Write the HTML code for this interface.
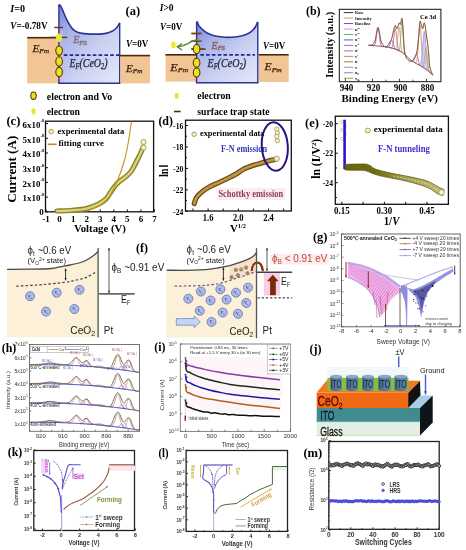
<!DOCTYPE html>
<html><head><meta charset="utf-8"><style>
html,body{margin:0;padding:0;background:#fff;}
svg{display:block;filter:blur(0.3px);}
</style></head><body>
<svg width="466" height="550" viewBox="0 0 466 550">
<defs><linearGradient id="gblue" x1="0" y1="0" x2="0.9" y2="1">
<stop offset="0" stop-color="#7c88d8"/><stop offset="0.3" stop-color="#aab4e8"/><stop offset="0.6" stop-color="#c8cff0"/><stop offset="1" stop-color="#e2e6f6"/></linearGradient>
<linearGradient id="ge" x1="345" y1="0" x2="445" y2="0" gradientUnits="userSpaceOnUse"><stop offset="0" stop-color="#666410"/><stop offset="0.3" stop-color="#6e6c16"/><stop offset="0.55" stop-color="#9a9640"/><stop offset="1" stop-color="#c4c078"/></linearGradient>
<pattern id="hatch" width="2.2" height="2.2" patternUnits="userSpaceOnUse" patternTransform="rotate(35)"><rect width="2.2" height="2.2" fill="#f4c4ec"/><line x1="0" y1="0" x2="0" y2="2.2" stroke="#d448c0" stroke-width="1"/></pattern>
<linearGradient id="gcyl" x1="0" y1="0" x2="1" y2="0"><stop offset="0" stop-color="#56627e"/><stop offset="0.5" stop-color="#5a7896"/><stop offset="1" stop-color="#5e8c9c"/></linearGradient></defs>
<rect width="466" height="550" fill="#fff"/>
<text x="10.3" y="12.2" font-family="'Liberation Serif', serif" font-size="10" font-weight="bold" textLength="14.8" lengthAdjust="spacingAndGlyphs"><tspan font-style="italic">I</tspan>=0</text>
<text x="10.3" y="29" font-family="'Liberation Serif', serif" font-size="10" font-weight="bold" textLength="37.3" lengthAdjust="spacingAndGlyphs"><tspan font-style="italic">V</tspan>=-0.78V</text>
<text x="125.5" y="14.5" font-family="'Liberation Serif', serif" font-size="12.5" font-weight="bold" textLength="14.6" lengthAdjust="spacingAndGlyphs">(a)</text>
<rect x="27.2" y="37.7" width="31.7" height="45.6" fill="#f2c594" />
<line x1="27.2" y1="37.7" x2="56" y2="37.7" stroke="#4a2608" stroke-width="1.6" />
<path d="M58.9 83.3 L58.9 7 C59.02 6.63 59.25 4.88 59.6 4.8 C59.95 4.72 60.32 5.18 61 6.5 C61.68 7.82 62.67 10.35 63.7 12.7 C64.73 15.05 65.77 17.95 67.2 20.6 C68.63 23.25 70.58 26.67 72.3 28.6 C74.02 30.53 75.5 31.37 77.5 32.2 C79.5 33.03 80.88 33.28 84.3 33.6 C87.72 33.92 94.38 34.13 98 34.1 C101.62 34.07 103.67 33.87 106 33.4 C108.33 32.93 110.25 32.2 112 31.3 C113.75 30.4 115.22 29.42 116.5 28 C117.78 26.58 119.17 23.67 119.7 22.8 L119.7 83.3 Z" fill="url(#gblue)" />
<rect x="59.2" y="30" width="4" height="53" fill="#d4b8e4" opacity="0.6"/>
<path d="M58.9 7 C59.02 6.63 59.25 4.88 59.6 4.8 C59.95 4.72 60.32 5.18 61 6.5 C61.68 7.82 62.67 10.35 63.7 12.7 C64.73 15.05 65.77 17.95 67.2 20.6 C68.63 23.25 70.58 26.67 72.3 28.6 C74.02 30.53 75.5 31.37 77.5 32.2 C79.5 33.03 80.88 33.28 84.3 33.6 C87.72 33.92 94.38 34.13 98 34.1 C101.62 34.07 103.67 33.87 106 33.4 C108.33 32.93 110.25 32.2 112 31.3 C113.75 30.4 115.22 29.42 116.5 28 C117.78 26.58 119.17 23.67 119.7 22.8" fill="none" stroke="#2a3592" stroke-width="1.6" />
<line x1="58.9" y1="4.6" x2="58.9" y2="83.6" stroke="#2a3592" stroke-width="1.4" />
<line x1="119.7" y1="22.8" x2="119.7" y2="83.6" stroke="#2a3592" stroke-width="1.4" />
<line x1="58.2" y1="83.3" x2="120.4" y2="83.3" stroke="#2a3592" stroke-width="1.4" />
<line x1="63.8" y1="55.2" x2="119" y2="55.2" stroke="#1a2aa0" stroke-width="1.8" stroke-dasharray="3.6 2.2"/>
<line x1="54.3" y1="27.5" x2="62.9" y2="27.5" stroke="#5a3818" stroke-width="1.4" />
<line x1="50.5" y1="37.4" x2="67.2" y2="37.4" stroke="#5a3818" stroke-width="1.4" />
<ellipse cx="58.9" cy="37.7" rx="3" ry="4.2" fill="#e4ec30" />
<ellipse cx="59.1" cy="50.6" rx="3.3" ry="4.6" fill="#e9e21e" stroke="#5a3a00" stroke-width="1.1" />
<ellipse cx="59.1" cy="61.4" rx="3.3" ry="4.6" fill="#e9e21e" stroke="#5a3a00" stroke-width="1.1" />
<ellipse cx="59.1" cy="72" rx="3.3" ry="4.6" fill="#e9e21e" stroke="#5a3a00" stroke-width="1.1" />
<text x="73.2" y="43" font-family="'Liberation Serif', serif" font-size="9.5" font-style="italic" fill="#857488" textLength="13.8" lengthAdjust="spacingAndGlyphs" stroke="#857488" stroke-width="0.5">E<tspan font-size="6.5" dy="1.5">FS</tspan></text>
<text x="69.5" y="67" font-family="'Liberation Serif', serif" font-size="12" font-style="italic" fill="#1c1c3c" textLength="38" lengthAdjust="spacingAndGlyphs" stroke="#1c1c3c" stroke-width="0.25">E<tspan font-size="7.5" dy="1.5">F</tspan><tspan dy="-1.5">(CeO</tspan><tspan font-size="7.5" dy="1.5">2</tspan><tspan dy="-1.5">)</tspan></text>
<text x="32.4" y="51.5" font-family="'Liberation Serif', serif" font-size="10" font-style="italic" fill="#3a2410" textLength="16.8" lengthAdjust="spacingAndGlyphs" stroke="#3a2410" stroke-width="0.25">E<tspan font-size="6.5" dy="1.5">Fm</tspan></text>
<rect x="120.4" y="55.6" width="29.6" height="27.8" fill="#f2c594" />
<line x1="120" y1="55.6" x2="150" y2="55.6" stroke="#4a2608" stroke-width="1.6" />
<text x="126" y="47.4" font-family="'Liberation Serif', serif" font-size="9.5" font-weight="bold" textLength="22.2" lengthAdjust="spacingAndGlyphs"><tspan font-style="italic">V</tspan>=0V</text>
<text x="126" y="71.5" font-family="'Liberation Serif', serif" font-size="10" font-style="italic" fill="#3a2410" textLength="16.5" lengthAdjust="spacingAndGlyphs" stroke="#3a2410" stroke-width="0.25">E<tspan font-size="6.5" dy="1.5">Fm</tspan></text>
<ellipse cx="33.5" cy="95.7" rx="2.7" ry="3.7" fill="#e9e21e" stroke="#5a3a00" stroke-width="1.1" />
<text x="46.8" y="99.8" font-family="'Liberation Serif', serif" font-size="9.6" font-weight="bold" textLength="65.5" lengthAdjust="spacingAndGlyphs">electron and Vo</text>
<ellipse cx="33.5" cy="111.4" rx="2.1" ry="3.1" fill="#dfea32" />
<text x="46.8" y="114.8" font-family="'Liberation Serif', serif" font-size="9.6" font-weight="bold" textLength="33.2" lengthAdjust="spacingAndGlyphs">electron</text>
<text x="159.7" y="10.5" font-family="'Liberation Serif', serif" font-size="10" font-weight="bold" textLength="13.9" lengthAdjust="spacingAndGlyphs"><tspan font-style="italic">I</tspan>&gt;0</text>
<text x="160" y="29.6" font-family="'Liberation Serif', serif" font-size="9.5" font-weight="bold" textLength="22.3" lengthAdjust="spacingAndGlyphs"><tspan font-style="italic">V</tspan>=0V</text>
<rect x="165.5" y="54.8" width="31.1" height="26.8" fill="#f2c594" />
<line x1="165.5" y1="54.8" x2="196.6" y2="54.8" stroke="#4a2608" stroke-width="1.6" />
<path d="M196.6 82.8 L196.6 23.5 C196.72 23.25 196.9 21.58 197.3 22 C197.7 22.42 197.78 24.45 199 26 C200.22 27.55 202.77 29.92 204.6 31.3 C206.43 32.68 207.98 33.47 210 34.3 C212.02 35.13 214.2 35.82 216.7 36.3 C219.2 36.78 222.45 37.03 225 37.2 C227.55 37.37 229.97 37.37 232 37.3 C234.03 37.23 235.2 37.13 237.2 36.8 C239.2 36.47 242 35.93 244 35.3 C246 34.67 247.7 33.88 249.2 33 C250.7 32.12 251.93 31.08 253 30 C254.07 28.92 254.88 27.75 255.6 26.5 C256.32 25.25 256.93 23.27 257.3 22.5 C257.67 21.73 257.72 22 257.8 21.9 L257.8 82.8 Z" fill="url(#gblue)" />
<path d="M196.6 23.5 C196.72 23.25 196.9 21.58 197.3 22 C197.7 22.42 197.78 24.45 199 26 C200.22 27.55 202.77 29.92 204.6 31.3 C206.43 32.68 207.98 33.47 210 34.3 C212.02 35.13 214.2 35.82 216.7 36.3 C219.2 36.78 222.45 37.03 225 37.2 C227.55 37.37 229.97 37.37 232 37.3 C234.03 37.23 235.2 37.13 237.2 36.8 C239.2 36.47 242 35.93 244 35.3 C246 34.67 247.7 33.88 249.2 33 C250.7 32.12 251.93 31.08 253 30 C254.07 28.92 254.88 27.75 255.6 26.5 C256.32 25.25 256.93 23.27 257.3 22.5 C257.67 21.73 257.72 22 257.8 21.9" fill="none" stroke="#2a3592" stroke-width="1.6" />
<line x1="196.6" y1="21.9" x2="196.6" y2="83.1" stroke="#2a3592" stroke-width="1.4" />
<line x1="257.8" y1="21.9" x2="257.8" y2="83.1" stroke="#2a3592" stroke-width="1.4" />
<line x1="195.9" y1="82.8" x2="258.5" y2="82.8" stroke="#2a3592" stroke-width="1.4" />
<line x1="200.3" y1="54.8" x2="255" y2="54.8" stroke="#1a2aa0" stroke-width="1.8" stroke-dasharray="3.6 2.2"/>
<line x1="191.2" y1="33.5" x2="201.5" y2="33.5" stroke="#6a3a1a" stroke-width="1.7" />
<line x1="191.2" y1="41.1" x2="201.5" y2="41.1" stroke="#6a3a1a" stroke-width="1.7" />
<line x1="191.2" y1="49" x2="205.5" y2="49" stroke="#6a3a1a" stroke-width="1.7" />
<ellipse cx="196.6" cy="49" rx="3.3" ry="4.6" fill="#e9e21e" stroke="#5a3a00" stroke-width="1.1" />
<ellipse cx="196.6" cy="62.7" rx="3.3" ry="4.6" fill="#e9e21e" stroke="#5a3a00" stroke-width="1.1" />
<ellipse cx="196.6" cy="72.5" rx="3.3" ry="4.6" fill="#e9e21e" stroke="#5a3a00" stroke-width="1.1" />
<ellipse cx="173.4" cy="45" rx="2.4" ry="3.4" fill="#e4ec30" />
<path d="M200.8 40.9 C200.17 40.78 198.08 40.27 197 40.2 C195.92 40.13 195.3 40.23 194.3 40.5 C193.3 40.77 192 41.33 191 41.8 C190 42.27 189.3 42.8 188.3 43.3 C187.3 43.8 186 44.37 185 44.8 C184 45.23 183.22 45.62 182.3 45.9 C181.38 46.18 180.3 46.35 179.5 46.5 C178.7 46.65 177.83 46.75 177.5 46.8" fill="none" stroke="#5e8a26" stroke-width="1.5" />
<path d="M182 43.6 L177.3 46.8 L182 50" fill="none" stroke="#5e8a26" stroke-width="1.4" />
<text x="211.5" y="48.5" font-family="'Liberation Serif', serif" font-size="9.5" font-style="italic" fill="#946464" textLength="13.5" lengthAdjust="spacingAndGlyphs" stroke="#946464" stroke-width="0.5">E<tspan font-size="6.5" dy="1.5">FS</tspan></text>
<text x="207.5" y="67" font-family="'Liberation Serif', serif" font-size="12" font-style="italic" fill="#1c1c3c" textLength="38.5" lengthAdjust="spacingAndGlyphs" stroke="#1c1c3c" stroke-width="0.25">E<tspan font-size="7.5" dy="1.5">F</tspan><tspan dy="-1.5">(CeO</tspan><tspan font-size="7.5" dy="1.5">2</tspan><tspan dy="-1.5">)</tspan></text>
<text x="170.3" y="70.8" font-family="'Liberation Serif', serif" font-size="10" font-style="italic" fill="#3a2410" textLength="18" lengthAdjust="spacingAndGlyphs" stroke="#3a2410" stroke-width="0.25">E<tspan font-size="6.5" dy="1.5">Fm</tspan></text>
<rect x="259" y="55.3" width="29.7" height="26.7" fill="#f2c594" />
<line x1="258.6" y1="54.8" x2="288.7" y2="54.8" stroke="#4a2608" stroke-width="1.6" />
<text x="263" y="48.5" font-family="'Liberation Serif', serif" font-size="9.5" font-weight="bold" textLength="22.2" lengthAdjust="spacingAndGlyphs"><tspan font-style="italic">V</tspan>=0V</text>
<text x="264.6" y="70.2" font-family="'Liberation Serif', serif" font-size="10" font-style="italic" fill="#3a2410" textLength="17.2" lengthAdjust="spacingAndGlyphs" stroke="#3a2410" stroke-width="0.25">E<tspan font-size="6.5" dy="1.5">Fm</tspan></text>
<ellipse cx="176.7" cy="95.8" rx="2.1" ry="3.1" fill="#dfea32" />
<text x="197.3" y="99.4" font-family="'Liberation Serif', serif" font-size="9.6" font-weight="bold" textLength="33.5" lengthAdjust="spacingAndGlyphs">electron</text>
<line x1="174" y1="111.5" x2="180.6" y2="111.5" stroke="#4a2a10" stroke-width="1.6" />
<text x="197.3" y="114.8" font-family="'Liberation Serif', serif" font-size="9.6" font-weight="bold" textLength="72.2" lengthAdjust="spacingAndGlyphs">surface trap state</text>
<text x="306" y="14.6" font-family="'Liberation Serif', serif" font-size="12.5" font-weight="bold" textLength="14.6" lengthAdjust="spacingAndGlyphs">(b)</text>
<rect x="339.3" y="9.3" width="101.6" height="72.4" fill="none" stroke="#111" stroke-width="1" />
<line x1="345.4" y1="81.7" x2="345.4" y2="78.7" stroke="#111" stroke-width="0.8" />
<line x1="358.92" y1="81.7" x2="358.92" y2="79.7" stroke="#111" stroke-width="0.8" />
<line x1="372.43" y1="81.7" x2="372.43" y2="78.7" stroke="#111" stroke-width="0.8" />
<line x1="385.95" y1="81.7" x2="385.95" y2="79.7" stroke="#111" stroke-width="0.8" />
<line x1="399.47" y1="81.7" x2="399.47" y2="78.7" stroke="#111" stroke-width="0.8" />
<line x1="412.98" y1="81.7" x2="412.98" y2="79.7" stroke="#111" stroke-width="0.8" />
<line x1="426.5" y1="81.7" x2="426.5" y2="78.7" stroke="#111" stroke-width="0.8" />
<text x="346.4" y="90.8" font-family="'Liberation Serif', serif" font-size="9.5" font-weight="bold" text-anchor="middle" textLength="13.5" lengthAdjust="spacingAndGlyphs">940</text>
<text x="373.43" y="90.8" font-family="'Liberation Serif', serif" font-size="9.5" font-weight="bold" text-anchor="middle" textLength="13.5" lengthAdjust="spacingAndGlyphs">920</text>
<text x="400.47" y="90.8" font-family="'Liberation Serif', serif" font-size="9.5" font-weight="bold" text-anchor="middle" textLength="13.5" lengthAdjust="spacingAndGlyphs">900</text>
<text x="427.5" y="90.8" font-family="'Liberation Serif', serif" font-size="9.5" font-weight="bold" text-anchor="middle" textLength="13.5" lengthAdjust="spacingAndGlyphs">880</text>
<text x="341.6" y="102.4" font-family="'Liberation Serif', serif" font-size="11" font-weight="bold" textLength="96.4" lengthAdjust="spacingAndGlyphs">Binding Energy (eV)</text>
<text x="332.6" y="44.7" font-family="'Liberation Serif', serif" font-size="11" font-weight="bold" text-anchor="middle" textLength="66" lengthAdjust="spacingAndGlyphs" transform="rotate(-90 332.6 44.7)">Intensity (a.u.)</text>
<text x="419.9" y="18.5" font-family="'Liberation Serif', serif" font-size="7" font-weight="bold" textLength="16.3" lengthAdjust="spacingAndGlyphs">Ce 3d</text>
<line x1="343.8" y1="12.6" x2="353.2" y2="12.6" stroke="#333" stroke-width="1" />
<text x="355" y="14.1" font-family="'Liberation Serif', serif" font-size="4.4" font-weight="bold" fill="#111">Raw</text>
<line x1="343.8" y1="18.07" x2="353.2" y2="18.07" stroke="#c8a070" stroke-width="1" />
<text x="355" y="19.57" font-family="'Liberation Serif', serif" font-size="4.4" font-weight="bold" fill="#111">Intensity</text>
<line x1="343.8" y1="23.54" x2="353.2" y2="23.54" stroke="#7a4ab8" stroke-width="1" />
<text x="355" y="25.04" font-family="'Liberation Serif', serif" font-size="4.4" font-weight="bold" fill="#111">Baseline</text>
<line x1="343.8" y1="29.01" x2="353.2" y2="29.01" stroke="#c890d8" stroke-width="1" />
<text x="355" y="30.51" font-family="'Liberation Serif', serif" font-size="4.4" font-weight="bold" fill="#111">u‴</text>
<line x1="343.8" y1="34.48" x2="353.2" y2="34.48" stroke="#6ab060" stroke-width="1" />
<text x="355" y="35.98" font-family="'Liberation Serif', serif" font-size="4.4" font-weight="bold" fill="#111">v‴</text>
<line x1="343.8" y1="39.95" x2="353.2" y2="39.95" stroke="#4a6ab0" stroke-width="1" />
<text x="355" y="41.45" font-family="'Liberation Serif', serif" font-size="4.4" font-weight="bold" fill="#111">u″</text>
<line x1="343.8" y1="45.42" x2="353.2" y2="45.42" stroke="#a070d0" stroke-width="1" />
<text x="355" y="46.92" font-family="'Liberation Serif', serif" font-size="4.4" font-weight="bold" fill="#111">v″</text>
<line x1="343.8" y1="50.89" x2="353.2" y2="50.89" stroke="#9a70c0" stroke-width="1" />
<text x="355" y="52.39" font-family="'Liberation Serif', serif" font-size="4.4" font-weight="bold" fill="#111">u′</text>
<line x1="343.8" y1="56.36" x2="353.2" y2="56.36" stroke="#b09060" stroke-width="1" />
<text x="355" y="57.86" font-family="'Liberation Serif', serif" font-size="4.4" font-weight="bold" fill="#111">v′</text>
<line x1="343.8" y1="61.83" x2="353.2" y2="61.83" stroke="#a08040" stroke-width="1" />
<text x="355" y="63.33" font-family="'Liberation Serif', serif" font-size="4.4" font-weight="bold" fill="#111">u</text>
<line x1="343.8" y1="67.3" x2="353.2" y2="67.3" stroke="#80a0c0" stroke-width="1" />
<text x="355" y="68.8" font-family="'Liberation Serif', serif" font-size="4.4" font-weight="bold" fill="#111">v</text>
<line x1="343.8" y1="72.77" x2="353.2" y2="72.77" stroke="#7090b0" stroke-width="1" />
<text x="355" y="74.27" font-family="'Liberation Serif', serif" font-size="4.4" font-weight="bold" fill="#111">u₀</text>
<line x1="343.8" y1="78.24" x2="353.2" y2="78.24" stroke="#a0a040" stroke-width="1" />
<text x="355" y="79.74" font-family="'Liberation Serif', serif" font-size="4.4" font-weight="bold" fill="#111">v₀</text>
<path d="M371.92 45.53 C372.05 45.54 372.43 45.58 372.68 45.6 C372.93 45.61 373.19 45.65 373.44 45.62 C373.69 45.59 373.95 45.62 374.2 45.42 C374.45 45.23 374.71 45.07 374.96 44.44 C375.21 43.81 375.47 42.96 375.72 41.64 C375.97 40.31 376.23 38.31 376.48 36.49 C376.73 34.67 376.99 32.11 377.24 30.72 C377.49 29.32 377.75 28.1 378 28.13 C378.25 28.15 378.51 29.42 378.76 30.87 C379.01 32.31 379.27 34.92 379.52 36.79 C379.77 38.66 380.03 40.71 380.28 42.09 C380.53 43.46 380.79 44.36 381.04 45.04 C381.29 45.72 381.55 45.93 381.8 46.17 C382.05 46.42 382.31 46.44 382.56 46.52 C382.81 46.6 383.07 46.61 383.32 46.65 C383.57 46.68 383.95 46.72 384.08 46.73" fill="none" stroke="#9a60c8" stroke-width="0.8" />
<path d="M385.4 46.86 C385.53 46.88 385.93 46.94 386.2 46.99 C386.47 47.04 386.73 47.11 387 47.15 C387.27 47.19 387.53 47.25 387.8 47.21 C388.07 47.17 388.33 47.15 388.6 46.92 C388.87 46.69 389.13 46.37 389.4 45.83 C389.67 45.29 389.93 44.45 390.2 43.69 C390.47 42.93 390.73 41.84 391 41.27 C391.27 40.7 391.53 40.21 391.8 40.27 C392.07 40.33 392.33 40.94 392.6 41.64 C392.87 42.33 393.13 43.54 393.4 44.42 C393.67 45.3 393.93 46.26 394.2 46.92 C394.47 47.58 394.73 47.99 395 48.38 C395.27 48.77 395.53 49.02 395.8 49.25 C396.07 49.48 396.33 49.61 396.6 49.76 C396.87 49.92 397.13 50.05 397.4 50.18 C397.67 50.32 398.07 50.51 398.2 50.58" fill="none" stroke="#7a60c0" stroke-width="0.8" />
<path d="M389.54 47.75 C389.66 47.78 390.02 47.87 390.26 47.91 C390.5 47.95 390.74 48.02 390.98 48.02 C391.22 48.01 391.46 48.07 391.7 47.86 C391.94 47.66 392.18 47.5 392.42 46.79 C392.66 46.08 392.9 45.12 393.14 43.6 C393.38 42.08 393.62 39.77 393.86 37.67 C394.1 35.57 394.34 32.6 394.58 31.01 C394.82 29.42 395.06 28.05 395.3 28.15 C395.54 28.25 395.78 29.84 396.02 31.61 C396.26 33.38 396.5 36.51 396.74 38.79 C396.98 41.06 397.22 43.55 397.46 45.24 C397.7 46.93 397.94 48.06 398.18 48.95 C398.42 49.83 398.66 50.16 398.9 50.54 C399.14 50.92 399.38 51.03 399.62 51.21 C399.86 51.4 400.1 51.5 400.34 51.63 C400.58 51.76 400.94 51.93 401.06 51.99" fill="none" stroke="#c05a70" stroke-width="0.8" />
<path d="M393.66 48.69 C393.77 48.72 394.11 48.8 394.34 48.84 C394.57 48.88 394.79 48.92 395.02 48.93 C395.25 48.95 395.47 49.09 395.7 48.91 C395.93 48.72 396.15 48.59 396.38 47.83 C396.61 47.06 396.83 46.02 397.06 44.33 C397.29 42.64 397.51 40.05 397.74 37.7 C397.97 35.35 398.19 32.02 398.42 30.24 C398.65 28.46 398.87 26.91 399.1 27.02 C399.33 27.14 399.55 28.91 399.78 30.91 C400.01 32.91 400.23 36.47 400.46 39.04 C400.69 41.61 400.91 44.43 401.14 46.34 C401.37 48.26 401.59 49.53 401.82 50.51 C402.05 51.5 402.27 51.84 402.5 52.26 C402.73 52.69 402.95 52.83 403.18 53.08 C403.41 53.32 403.63 53.53 403.86 53.75 C404.09 53.97 404.43 54.26 404.54 54.37" fill="none" stroke="#c8a060" stroke-width="0.8" />
<path d="M397.2 50.08 C397.3 50.13 397.6 50.29 397.8 50.37 C398 50.45 398.2 50.57 398.4 50.58 C398.6 50.59 398.8 50.69 399 50.41 C399.2 50.12 399.4 49.91 399.6 48.87 C399.8 47.84 400 46.45 400.2 44.22 C400.4 42 400.6 38.6 400.8 35.52 C401 32.44 401.2 28.09 401.4 25.74 C401.6 23.4 401.8 21.36 402 21.46 C402.2 21.55 402.4 23.77 402.6 26.34 C402.8 28.9 403 33.48 403.2 36.82 C403.4 40.16 403.6 43.86 403.8 46.36 C404 48.87 404.2 50.54 404.4 51.85 C404.6 53.16 404.8 53.65 405 54.21 C405.2 54.77 405.4 54.95 405.6 55.22 C405.8 55.49 406 55.65 406.2 55.84 C406.4 56.04 406.7 56.3 406.8 56.39" fill="none" stroke="#78a858" stroke-width="0.8" />
<path d="M410.1 59.35 C410.23 59.46 410.63 59.84 410.9 60.06 C411.17 60.28 411.43 60.53 411.7 60.68 C411.97 60.84 412.23 60.97 412.5 61 C412.77 61.03 413.03 61.08 413.3 60.88 C413.57 60.67 413.83 60.34 414.1 59.75 C414.37 59.15 414.63 58.18 414.9 57.31 C415.17 56.44 415.43 55.16 415.7 54.53 C415.97 53.89 416.23 53.36 416.5 53.51 C416.77 53.67 417.03 54.51 417.3 55.46 C417.57 56.4 417.83 57.99 418.1 59.17 C418.37 60.35 418.63 61.64 418.9 62.54 C419.17 63.45 419.43 64.08 419.7 64.6 C419.97 65.12 420.23 65.38 420.5 65.66 C420.77 65.94 421.03 66.09 421.3 66.28 C421.57 66.47 421.83 66.62 422.1 66.79 C422.37 66.97 422.77 67.23 422.9 67.32" fill="none" stroke="#a060d0" stroke-width="0.8" />
<path d="M413.6 61.82 C413.73 61.9 414.13 62.14 414.4 62.27 C414.67 62.41 414.93 62.59 415.2 62.63 C415.47 62.67 415.73 62.83 416 62.49 C416.27 62.15 416.53 61.9 416.8 60.6 C417.07 59.29 417.33 57.52 417.6 54.68 C417.87 51.83 418.13 47.47 418.4 43.53 C418.67 39.58 418.93 34 419.2 31 C419.47 28 419.73 25.4 420 25.55 C420.27 25.71 420.53 28.63 420.8 31.93 C421.07 35.24 421.33 41.13 421.6 45.39 C421.87 49.66 422.13 54.34 422.4 57.52 C422.67 60.69 422.93 62.79 423.2 64.42 C423.47 66.05 423.73 66.64 424 67.31 C424.27 67.97 424.53 68.14 424.8 68.44 C425.07 68.73 425.33 68.87 425.6 69.07 C425.87 69.26 426.27 69.52 426.4 69.61" fill="none" stroke="#d08060" stroke-width="0.8" />
<path d="M417.36 64.01 C417.51 64.1 417.95 64.36 418.24 64.51 C418.53 64.66 418.83 64.86 419.12 64.92 C419.41 64.98 419.71 65.16 420 64.87 C420.29 64.59 420.59 64.38 420.88 63.2 C421.17 62.03 421.47 60.4 421.76 57.81 C422.05 55.22 422.35 51.24 422.64 47.64 C422.93 44.04 423.23 38.92 423.52 36.2 C423.81 33.47 424.11 31.11 424.4 31.3 C424.69 31.49 424.99 34.24 425.28 37.35 C425.57 40.45 425.87 45.95 426.16 49.94 C426.45 53.93 426.75 58.27 427.04 61.27 C427.33 64.27 427.63 66.33 427.92 67.94 C428.21 69.54 428.51 70.17 428.8 70.88 C429.09 71.59 429.39 71.84 429.68 72.21 C429.97 72.57 430.27 72.8 430.56 73.07 C430.85 73.34 431.29 73.72 431.44 73.85 Z" fill="#c8c0f0" opacity="0.8"/>
<path d="M417.36 64.01 C417.51 64.1 417.95 64.36 418.24 64.51 C418.53 64.66 418.83 64.86 419.12 64.92 C419.41 64.98 419.71 65.16 420 64.87 C420.29 64.59 420.59 64.38 420.88 63.2 C421.17 62.03 421.47 60.4 421.76 57.81 C422.05 55.22 422.35 51.24 422.64 47.64 C422.93 44.04 423.23 38.92 423.52 36.2 C423.81 33.47 424.11 31.11 424.4 31.3 C424.69 31.49 424.99 34.24 425.28 37.35 C425.57 40.45 425.87 45.95 426.16 49.94 C426.45 53.93 426.75 58.27 427.04 61.27 C427.33 64.27 427.63 66.33 427.92 67.94 C428.21 69.54 428.51 70.17 428.8 70.88 C429.09 71.59 429.39 71.84 429.68 72.21 C429.97 72.57 430.27 72.8 430.56 73.07 C430.85 73.34 431.29 73.72 431.44 73.85" fill="none" stroke="#9a90e0" stroke-width="0.8" />
<path d="M420.76 65.99 C420.87 66.06 421.21 66.26 421.44 66.38 C421.67 66.51 421.89 66.66 422.12 66.74 C422.35 66.82 422.57 66.97 422.8 66.85 C423.03 66.73 423.25 66.65 423.48 66 C423.71 65.34 423.93 64.43 424.16 62.93 C424.39 61.43 424.61 59.09 424.84 56.99 C425.07 54.88 425.29 51.87 425.52 50.29 C425.75 48.7 425.97 47.33 426.2 47.48 C426.43 47.63 426.65 49.27 426.88 51.17 C427.11 53.08 427.33 56.44 427.56 58.88 C427.79 61.33 428.01 64.02 428.24 65.86 C428.47 67.71 428.69 68.97 428.92 69.96 C429.15 70.96 429.37 71.38 429.6 71.85 C429.83 72.32 430.05 72.51 430.28 72.77 C430.51 73.04 430.73 73.22 430.96 73.42 C431.19 73.63 431.53 73.92 431.64 74.02" fill="none" stroke="#c0a060" stroke-width="0.8" />
<path d="M368.6 45.2 C369.17 45.17 370.93 45.7 372 45 C373.07 44.3 374.25 43 375 41 C375.75 39 376 35.3 376.5 33 C377 30.7 377.5 27.2 378 27.2 C378.5 27.2 379 30.7 379.5 33 C380 35.3 380.33 38.92 381 41 C381.67 43.08 382.7 44.52 383.5 45.5 C384.3 46.48 385.05 46.9 385.8 46.9 C386.55 46.9 387.3 46.32 388 45.5 C388.7 44.68 389.37 43.2 390 42 C390.63 40.8 391.22 40.13 391.8 38.3 C392.38 36.47 392.93 33.13 393.5 31 C394.07 28.87 394.65 25.92 395.2 25.5 C395.75 25.08 396.37 28.25 396.8 28.5 C397.23 28.75 397.42 27.93 397.8 27 C398.18 26.07 398.68 23.32 399.1 22.9 C399.52 22.48 399.98 24.65 400.3 24.5 C400.62 24.35 400.72 23.05 401 22 C401.28 20.95 401.67 17.2 402 18.2 C402.33 19.2 402.7 24.03 403 28 C403.3 31.97 403.53 38.13 403.8 42 C404.07 45.87 404.23 48.7 404.6 51.2 C404.97 53.7 405.43 55.57 406 57 C406.57 58.43 407.08 59.05 408 59.8 C408.92 60.55 410.5 61.72 411.5 61.5 C412.5 61.28 413.13 59.93 414 58.5 C414.87 57.07 415.95 56.32 416.7 52.9 C417.45 49.48 417.95 43.2 418.5 38 C419.05 32.8 419.53 23.87 420 21.7 C420.47 19.53 420.85 23.8 421.3 25 C421.75 26.2 422.33 28.9 422.7 28.9 C423.07 28.9 423.22 26 423.5 25 C423.78 24 424.07 22.4 424.4 22.9 C424.73 23.4 425.15 25.82 425.5 28 C425.85 30.18 426.12 33.28 426.5 36 C426.88 38.72 427.42 41.13 427.8 44.3 C428.18 47.47 428.52 51.57 428.8 55 C429.08 58.43 429.13 62.23 429.5 64.9 C429.87 67.57 430.42 69.28 431 71 C431.58 72.72 432.67 74.5 433 75.2" fill="none" stroke="#c07a50" stroke-width="1" />
<path d="M368.6 45.2 C369.17 45.17 370.93 45.7 372 45 C373.07 44.3 374.25 43 375 41 C375.75 39 376 35.3 376.5 33 C377 30.7 377.5 27.2 378 27.2 C378.5 27.2 379 30.7 379.5 33 C380 35.3 380.33 38.92 381 41 C381.67 43.08 382.7 44.52 383.5 45.5 C384.3 46.48 385.05 46.9 385.8 46.9 C386.55 46.9 387.3 46.32 388 45.5 C388.7 44.68 389.37 43.2 390 42 C390.63 40.8 391.22 40.13 391.8 38.3 C392.38 36.47 392.93 33.13 393.5 31 C394.07 28.87 394.65 25.92 395.2 25.5 C395.75 25.08 396.37 28.25 396.8 28.5 C397.23 28.75 397.42 27.93 397.8 27 C398.18 26.07 398.68 23.32 399.1 22.9 C399.52 22.48 399.98 24.65 400.3 24.5 C400.62 24.35 400.72 23.05 401 22 C401.28 20.95 401.67 17.2 402 18.2 C402.33 19.2 402.7 24.03 403 28 C403.3 31.97 403.53 38.13 403.8 42 C404.07 45.87 404.23 48.7 404.6 51.2 C404.97 53.7 405.43 55.57 406 57 C406.57 58.43 407.08 59.05 408 59.8 C408.92 60.55 410.5 61.72 411.5 61.5 C412.5 61.28 413.13 59.93 414 58.5 C414.87 57.07 415.95 56.32 416.7 52.9 C417.45 49.48 417.95 43.2 418.5 38 C419.05 32.8 419.53 23.87 420 21.7 C420.47 19.53 420.85 23.8 421.3 25 C421.75 26.2 422.33 28.9 422.7 28.9 C423.07 28.9 423.22 26 423.5 25 C423.78 24 424.07 22.4 424.4 22.9 C424.73 23.4 425.15 25.82 425.5 28 C425.85 30.18 426.12 33.28 426.5 36 C426.88 38.72 427.42 41.13 427.8 44.3 C428.18 47.47 428.52 51.57 428.8 55 C429.08 58.43 429.13 62.23 429.5 64.9 C429.87 67.57 430.42 69.28 431 71 C431.58 72.72 432.67 74.5 433 75.2" fill="none" stroke="#333" stroke-width="0.4" />
<path d="M368.6 45.2 C371.47 45.48 381.4 46.27 385.8 46.9 C390.2 47.53 392.15 48 395 49 C397.85 50 400.15 50.97 402.9 52.9 C405.65 54.83 408.35 58.32 411.5 60.6 C414.65 62.88 419.22 65.03 421.8 66.6 C424.38 68.17 425.13 68.57 427 70 C428.87 71.43 432 74.33 433 75.2" fill="none" stroke="#7a4a3a" stroke-width="0.9" />
<text x="6.4" y="124.8" font-family="'Liberation Serif', serif" font-size="13.5" font-weight="bold" textLength="14" lengthAdjust="spacingAndGlyphs">(c)</text>
<rect x="45.5" y="121.2" width="108.1" height="90.6" fill="none" stroke="#111" stroke-width="1.3" />
<line x1="46.05" y1="211.8" x2="46.05" y2="209.3" stroke="#111" stroke-width="1" />
<text x="46.05" y="221.5" font-family="'Liberation Serif', serif" font-size="9" font-weight="bold" text-anchor="middle">-1</text>
<line x1="59.6" y1="211.8" x2="59.6" y2="209.3" stroke="#111" stroke-width="1" />
<text x="59.6" y="221.5" font-family="'Liberation Serif', serif" font-size="9" font-weight="bold" text-anchor="middle">0</text>
<line x1="73.15" y1="211.8" x2="73.15" y2="209.3" stroke="#111" stroke-width="1" />
<text x="73.15" y="221.5" font-family="'Liberation Serif', serif" font-size="9" font-weight="bold" text-anchor="middle">1</text>
<line x1="86.7" y1="211.8" x2="86.7" y2="209.3" stroke="#111" stroke-width="1" />
<text x="86.7" y="221.5" font-family="'Liberation Serif', serif" font-size="9" font-weight="bold" text-anchor="middle">2</text>
<line x1="100.25" y1="211.8" x2="100.25" y2="209.3" stroke="#111" stroke-width="1" />
<text x="100.25" y="221.5" font-family="'Liberation Serif', serif" font-size="9" font-weight="bold" text-anchor="middle">3</text>
<line x1="113.8" y1="211.8" x2="113.8" y2="209.3" stroke="#111" stroke-width="1" />
<text x="113.8" y="221.5" font-family="'Liberation Serif', serif" font-size="9" font-weight="bold" text-anchor="middle">4</text>
<line x1="127.35" y1="211.8" x2="127.35" y2="209.3" stroke="#111" stroke-width="1" />
<text x="127.35" y="221.5" font-family="'Liberation Serif', serif" font-size="9" font-weight="bold" text-anchor="middle">5</text>
<line x1="140.9" y1="211.8" x2="140.9" y2="209.3" stroke="#111" stroke-width="1" />
<text x="140.9" y="221.5" font-family="'Liberation Serif', serif" font-size="9" font-weight="bold" text-anchor="middle">6</text>
<line x1="154.45" y1="211.8" x2="154.45" y2="209.3" stroke="#111" stroke-width="1" />
<text x="154.45" y="221.5" font-family="'Liberation Serif', serif" font-size="9" font-weight="bold" text-anchor="middle">7</text>
<line x1="45.5" y1="211.8" x2="48" y2="211.8" stroke="#111" stroke-width="1" />
<text x="43.8" y="215.4" font-family="'Liberation Serif', serif" font-size="9" font-weight="bold" text-anchor="end">0</text>
<line x1="45.5" y1="197.1" x2="48" y2="197.1" stroke="#111" stroke-width="1" />
<text x="40.4" y="201.3" font-family="'Liberation Serif', serif" font-size="9" font-weight="bold" text-anchor="end" textLength="17.8" lengthAdjust="spacingAndGlyphs">1x10</text>
<text x="40.4" y="195.9" font-family="'Liberation Serif', serif" font-size="4.5" font-weight="bold">-8</text>
<line x1="45.5" y1="182.4" x2="48" y2="182.4" stroke="#111" stroke-width="1" />
<text x="40.4" y="186.6" font-family="'Liberation Serif', serif" font-size="9" font-weight="bold" text-anchor="end" textLength="17.8" lengthAdjust="spacingAndGlyphs">2x10</text>
<text x="40.4" y="181.2" font-family="'Liberation Serif', serif" font-size="4.5" font-weight="bold">-8</text>
<line x1="45.5" y1="167.7" x2="48" y2="167.7" stroke="#111" stroke-width="1" />
<text x="40.4" y="171.9" font-family="'Liberation Serif', serif" font-size="9" font-weight="bold" text-anchor="end" textLength="17.8" lengthAdjust="spacingAndGlyphs">3x10</text>
<text x="40.4" y="166.5" font-family="'Liberation Serif', serif" font-size="4.5" font-weight="bold">-8</text>
<line x1="45.5" y1="153" x2="48" y2="153" stroke="#111" stroke-width="1" />
<text x="40.4" y="157.2" font-family="'Liberation Serif', serif" font-size="9" font-weight="bold" text-anchor="end" textLength="17.8" lengthAdjust="spacingAndGlyphs">4x10</text>
<text x="40.4" y="151.8" font-family="'Liberation Serif', serif" font-size="4.5" font-weight="bold">-8</text>
<line x1="45.5" y1="138.3" x2="48" y2="138.3" stroke="#111" stroke-width="1" />
<text x="40.4" y="142.5" font-family="'Liberation Serif', serif" font-size="9" font-weight="bold" text-anchor="end" textLength="17.8" lengthAdjust="spacingAndGlyphs">5x10</text>
<text x="40.4" y="137.1" font-family="'Liberation Serif', serif" font-size="4.5" font-weight="bold">-8</text>
<line x1="45.5" y1="123.6" x2="48" y2="123.6" stroke="#111" stroke-width="1" />
<text x="40.4" y="127.8" font-family="'Liberation Serif', serif" font-size="9" font-weight="bold" text-anchor="end" textLength="17.8" lengthAdjust="spacingAndGlyphs">6x10</text>
<text x="40.4" y="122.4" font-family="'Liberation Serif', serif" font-size="4.5" font-weight="bold">-8</text>
<text x="73.9" y="231.6" font-family="'Liberation Serif', serif" font-size="11" font-weight="bold" textLength="52" lengthAdjust="spacingAndGlyphs">Voltage (V)</text>
<text x="16.5" y="169.2" font-family="'Liberation Serif', serif" font-size="12.5" font-weight="bold" text-anchor="middle" textLength="67" lengthAdjust="spacingAndGlyphs" transform="rotate(-90 16.5 169.2)">Current (A)</text>
<circle cx="51.2" cy="131.6" r="2.3" fill="#f4f2d8" stroke="#a09a40" stroke-width="0.9" />
<text x="57.5" y="134" font-family="'Liberation Serif', serif" font-size="9" font-weight="bold" textLength="66.8" lengthAdjust="spacingAndGlyphs">experimental data</text>
<line x1="47.7" y1="144.3" x2="56.7" y2="144.3" stroke="#c08a20" stroke-width="1.6" />
<text x="58.4" y="146.2" font-family="'Liberation Serif', serif" font-size="9" font-weight="bold" textLength="45.6" lengthAdjust="spacingAndGlyphs">fitting curve</text>
<path d="M57 211 C59.17 210.92 65.1 210.9 70 210.5 C74.9 210.1 81.57 209.72 86.4 208.6 C91.23 207.48 95.73 205.4 99 203.8 C102.27 202.2 104.25 200.63 106 199 C107.75 197.37 108.42 195.58 109.5 194 C110.58 192.42 111.2 191.28 112.5 189.5 C113.8 187.72 115.05 185.45 117.3 183.3 C119.55 181.15 123.72 178.57 126 176.6 C128.28 174.63 129.58 173.35 131 171.5 C132.42 169.65 133.42 167.5 134.5 165.5 C135.58 163.5 136.5 161.5 137.5 159.5 C138.5 157.5 139.58 155.5 140.5 153.5 C141.42 151.5 142.58 148.5 143 147.5" fill="none" stroke="#8a8422" stroke-width="5.2" stroke-linecap="round"/>
<path d="M57 211 C59.17 210.92 65.1 210.9 70 210.5 C74.9 210.1 81.57 209.72 86.4 208.6 C91.23 207.48 95.73 205.4 99 203.8 C102.27 202.2 104.25 200.63 106 199 C107.75 197.37 108.42 195.58 109.5 194 C110.58 192.42 111.2 191.28 112.5 189.5 C113.8 187.72 115.05 185.45 117.3 183.3 C119.55 181.15 123.72 178.57 126 176.6 C128.28 174.63 129.58 173.35 131 171.5 C132.42 169.65 133.42 167.5 134.5 165.5 C135.58 163.5 136.5 161.5 137.5 159.5 C138.5 157.5 139.58 155.5 140.5 153.5 C141.42 151.5 142.58 148.5 143 147.5" fill="none" stroke="#d6d284" stroke-width="2.4" stroke-linecap="round"/>
<circle cx="143.5" cy="142" r="2.6" fill="#f3f1d8" stroke="#a09a40" stroke-width="0.9" />
<circle cx="143.5" cy="147.6" r="2.6" fill="#f3f1d8" stroke="#a09a40" stroke-width="0.9" />
<path d="M86 211.3 C88.27 210.32 95.93 207.53 99.6 205.4 C103.27 203.27 105.77 201.07 108 198.5 C110.23 195.93 111.28 193.33 113 190 C114.72 186.67 116.47 183.17 118.3 178.5 C120.13 173.83 122.38 167.75 124 162 C125.62 156.25 126.75 150.75 128 144 C129.25 137.25 130.92 125.25 131.5 121.5" fill="none" stroke="#c8901a" stroke-width="1.1" />
<text x="158.4" y="124.9" font-family="'Liberation Serif', serif" font-size="12.5" font-weight="bold" textLength="14.6" lengthAdjust="spacingAndGlyphs">(d)</text>
<rect x="185.5" y="120.2" width="105.8" height="90.8" fill="none" stroke="#111" stroke-width="1.3" />
<line x1="185.5" y1="125.5" x2="188" y2="125.5" stroke="#111" stroke-width="1" />
<line x1="185.5" y1="136.22" x2="187" y2="136.22" stroke="#111" stroke-width="1" />
<line x1="185.5" y1="146.95" x2="188" y2="146.95" stroke="#111" stroke-width="1" />
<line x1="185.5" y1="157.68" x2="187" y2="157.68" stroke="#111" stroke-width="1" />
<line x1="185.5" y1="168.4" x2="188" y2="168.4" stroke="#111" stroke-width="1" />
<line x1="185.5" y1="179.12" x2="187" y2="179.12" stroke="#111" stroke-width="1" />
<line x1="185.5" y1="189.85" x2="188" y2="189.85" stroke="#111" stroke-width="1" />
<line x1="185.5" y1="200.57" x2="187" y2="200.57" stroke="#111" stroke-width="1" />
<line x1="185.5" y1="211.3" x2="188" y2="211.3" stroke="#111" stroke-width="1" />
<text x="183.3" y="128.7" font-family="'Liberation Serif', serif" font-size="9" font-weight="bold" text-anchor="end" textLength="10.2" lengthAdjust="spacingAndGlyphs">-16</text>
<text x="183.3" y="150.15" font-family="'Liberation Serif', serif" font-size="9" font-weight="bold" text-anchor="end" textLength="10.2" lengthAdjust="spacingAndGlyphs">-18</text>
<text x="183.3" y="171.6" font-family="'Liberation Serif', serif" font-size="9" font-weight="bold" text-anchor="end" textLength="10.2" lengthAdjust="spacingAndGlyphs">-20</text>
<text x="183.3" y="193.05" font-family="'Liberation Serif', serif" font-size="9" font-weight="bold" text-anchor="end" textLength="10.2" lengthAdjust="spacingAndGlyphs">-22</text>
<text x="183.3" y="214.5" font-family="'Liberation Serif', serif" font-size="9" font-weight="bold" text-anchor="end" textLength="10.2" lengthAdjust="spacingAndGlyphs">-24</text>
<line x1="193" y1="211" x2="193" y2="208.5" stroke="#111" stroke-width="1" />
<line x1="208.1" y1="211" x2="208.1" y2="208.5" stroke="#111" stroke-width="1" />
<line x1="223.2" y1="211" x2="223.2" y2="208.5" stroke="#111" stroke-width="1" />
<line x1="238.3" y1="211" x2="238.3" y2="208.5" stroke="#111" stroke-width="1" />
<line x1="253.4" y1="211" x2="253.4" y2="208.5" stroke="#111" stroke-width="1" />
<line x1="268.5" y1="211" x2="268.5" y2="208.5" stroke="#111" stroke-width="1" />
<line x1="283.6" y1="211" x2="283.6" y2="208.5" stroke="#111" stroke-width="1" />
<text x="208.1" y="221.2" font-family="'Liberation Serif', serif" font-size="9.5" font-weight="bold" text-anchor="middle" textLength="10.6" lengthAdjust="spacingAndGlyphs">1.6</text>
<text x="238.3" y="221.2" font-family="'Liberation Serif', serif" font-size="9.5" font-weight="bold" text-anchor="middle" textLength="10.6" lengthAdjust="spacingAndGlyphs">2.0</text>
<text x="268.5" y="221.2" font-family="'Liberation Serif', serif" font-size="9.5" font-weight="bold" text-anchor="middle" textLength="10.6" lengthAdjust="spacingAndGlyphs">2.4</text>
<text x="230" y="232" font-family="'Liberation Serif', serif" font-size="11" font-weight="bold" textLength="16" lengthAdjust="spacingAndGlyphs">V<tspan font-size="6.5" dy="-4">1/2</tspan></text>
<text x="167.6" y="170.8" font-family="'Liberation Serif', serif" font-size="12.5" font-weight="bold" text-anchor="middle" textLength="12.5" lengthAdjust="spacingAndGlyphs" transform="rotate(-90 167.6 170.8)">ln<tspan dx="1.2" font-family="Liberation Sans">I</tspan></text>
<circle cx="194.1" cy="134.3" r="2.2" fill="#f4f6e0" stroke="#78a040" stroke-width="0.9" />
<text x="200" y="136.3" font-family="'Liberation Serif', serif" font-size="9" font-weight="bold" textLength="64.5" lengthAdjust="spacingAndGlyphs">experimental data</text>
<text x="221" y="152.3" font-family="'Liberation Serif', serif" font-size="9.5" font-weight="bold" fill="#3838b0" textLength="46" lengthAdjust="spacingAndGlyphs">F-N emission</text>
<rect x="216.5" y="188" width="69" height="12" fill="#fcecf2" />
<text x="218.4" y="197.2" font-family="'Liberation Serif', serif" font-size="9.5" font-weight="bold" fill="#8a3a5e" textLength="64.8" lengthAdjust="spacingAndGlyphs">Schottky emission</text>
<path d="M194.3 203.5 C194.67 202.5 195.05 199.58 196.5 197.5 C197.95 195.42 200.5 192.95 203 191 C205.5 189.05 208.67 187.3 211.5 185.8 C214.33 184.3 216.85 183.47 220 182 C223.15 180.53 227.57 178.42 230.4 177 C233.23 175.58 234.78 174.83 237 173.5 C239.22 172.17 241.03 170.33 243.7 169 C246.37 167.67 249.7 166.6 253 165.5 C256.3 164.4 260.5 163.27 263.5 162.4 C266.5 161.53 268.92 160.82 271 160.3 C273.08 159.78 275.17 159.47 276 159.3" fill="none" stroke="#6a4a14" stroke-width="5.2" stroke-linecap="round"/>
<path d="M194.3 203.5 C194.67 202.5 195.05 199.58 196.5 197.5 C197.95 195.42 200.5 192.95 203 191 C205.5 189.05 208.67 187.3 211.5 185.8 C214.33 184.3 216.85 183.47 220 182 C223.15 180.53 227.57 178.42 230.4 177 C233.23 175.58 234.78 174.83 237 173.5 C239.22 172.17 241.03 170.33 243.7 169 C246.37 167.67 249.7 166.6 253 165.5 C256.3 164.4 260.5 163.27 263.5 162.4 C266.5 161.53 268.92 160.82 271 160.3 C273.08 159.78 275.17 159.47 276 159.3" fill="none" stroke="#b89040" stroke-width="2.8" stroke-linecap="round"/>
<path d="M194.3 203.5 C194.67 202.5 195.05 199.58 196.5 197.5 C197.95 195.42 200.5 192.95 203 191 C205.5 189.05 208.67 187.3 211.5 185.8 C214.33 184.3 216.85 183.47 220 182 C223.15 180.53 227.57 178.42 230.4 177 C233.23 175.58 234.78 174.83 237 173.5 C239.22 172.17 241.03 170.33 243.7 169 C246.37 167.67 249.7 166.6 253 165.5 C256.3 164.4 260.5 163.27 263.5 162.4 C266.5 161.53 268.92 160.82 271 160.3 C273.08 159.78 275.17 159.47 276 159.3" fill="none" stroke="#d8c070" stroke-width="0.8" stroke-dasharray="2 2" opacity="0.7"/>
<circle cx="276.8" cy="158.8" r="2.6" fill="#f3f1d8" stroke="#a09a40" stroke-width="0.9" />
<circle cx="276.8" cy="129.2" r="2.2" fill="#f3f1d8" stroke="#b0a050" stroke-width="0.9" />
<circle cx="277.4" cy="133" r="2.2" fill="#f3f1d8" stroke="#b0a050" stroke-width="0.9" />
<circle cx="276.8" cy="136.5" r="2.2" fill="#f3f1d8" stroke="#b0a050" stroke-width="0.9" />
<circle cx="277.4" cy="140.7" r="2.2" fill="#f3f1d8" stroke="#b0a050" stroke-width="0.9" />
<ellipse cx="274.8" cy="146.4" rx="13" ry="24.3" fill="none" stroke="#2a1282" stroke-width="2" transform="rotate(-4 274.8 146.4)"/>
<text x="305" y="127.1" font-family="'Liberation Serif', serif" font-size="12.5" font-weight="bold" textLength="13.9" lengthAdjust="spacingAndGlyphs">(e)</text>
<rect x="335.3" y="116.2" width="113.1" height="88.1" fill="none" stroke="#111" stroke-width="1.3" />
<line x1="335.3" y1="123.7" x2="337.8" y2="123.7" stroke="#111" stroke-width="1" />
<line x1="335.3" y1="138.45" x2="337" y2="138.45" stroke="#111" stroke-width="1" />
<line x1="335.3" y1="153.2" x2="337.8" y2="153.2" stroke="#111" stroke-width="1" />
<line x1="335.3" y1="167.95" x2="337" y2="167.95" stroke="#111" stroke-width="1" />
<line x1="335.3" y1="182.7" x2="337.8" y2="182.7" stroke="#111" stroke-width="1" />
<line x1="335.3" y1="197.45" x2="337" y2="197.45" stroke="#111" stroke-width="1" />
<text x="333" y="126.9" font-family="'Liberation Serif', serif" font-size="9" font-weight="bold" text-anchor="end" textLength="10.2" lengthAdjust="spacingAndGlyphs">-20</text>
<text x="333" y="156.4" font-family="'Liberation Serif', serif" font-size="9" font-weight="bold" text-anchor="end" textLength="10.2" lengthAdjust="spacingAndGlyphs">-22</text>
<text x="333" y="185.9" font-family="'Liberation Serif', serif" font-size="9" font-weight="bold" text-anchor="end" textLength="10.2" lengthAdjust="spacingAndGlyphs">-24</text>
<line x1="341.8" y1="204.3" x2="341.8" y2="201.8" stroke="#111" stroke-width="1" />
<line x1="363.1" y1="204.3" x2="363.1" y2="201.8" stroke="#111" stroke-width="1" />
<line x1="384.4" y1="204.3" x2="384.4" y2="201.8" stroke="#111" stroke-width="1" />
<line x1="405.7" y1="204.3" x2="405.7" y2="201.8" stroke="#111" stroke-width="1" />
<line x1="427" y1="204.3" x2="427" y2="201.8" stroke="#111" stroke-width="1" />
<text x="341.8" y="213.8" font-family="'Liberation Serif', serif" font-size="9.5" font-weight="bold" text-anchor="middle" textLength="15.6" lengthAdjust="spacingAndGlyphs">0.15</text>
<text x="384.4" y="213.8" font-family="'Liberation Serif', serif" font-size="9.5" font-weight="bold" text-anchor="middle" textLength="15.6" lengthAdjust="spacingAndGlyphs">0.30</text>
<text x="427" y="213.8" font-family="'Liberation Serif', serif" font-size="9.5" font-weight="bold" text-anchor="middle" textLength="15.6" lengthAdjust="spacingAndGlyphs">0.45</text>
<text x="383.7" y="225" font-family="'Liberation Serif', serif" font-size="12" font-weight="bold" textLength="15.7" lengthAdjust="spacingAndGlyphs">1/<tspan font-style="italic">V</tspan></text>
<text x="319.6" y="158.8" font-family="'Liberation Serif', serif" font-size="12" font-weight="bold" text-anchor="middle" textLength="40" lengthAdjust="spacingAndGlyphs" transform="rotate(-90 319.6 158.8)">ln (I/V<tspan font-size="7" dy="-4">2</tspan><tspan dy="4">)</tspan></text>
<circle cx="342" cy="122" r="1.5" fill="none" stroke="#c8c080" stroke-width="0.7" />
<circle cx="345" cy="126" r="1.5" fill="none" stroke="#c8c080" stroke-width="0.7" />
<circle cx="342" cy="130" r="1.5" fill="none" stroke="#c8c080" stroke-width="0.7" />
<circle cx="345" cy="134" r="1.5" fill="none" stroke="#c8c080" stroke-width="0.7" />
<circle cx="342" cy="139" r="1.5" fill="none" stroke="#c8c080" stroke-width="0.7" />
<line x1="344.6" y1="119.7" x2="344.6" y2="169.2" stroke="#2a12d0" stroke-width="2.6" />
<line x1="344.5" y1="168.6" x2="348" y2="168.6" stroke="#2a12d0" stroke-width="1.6" />
<circle cx="367.8" cy="130.5" r="2.4" fill="#f4f2d8" stroke="#a09a40" stroke-width="0.9" />
<text x="373.8" y="132.2" font-family="'Liberation Serif', serif" font-size="9" font-weight="bold" textLength="68.9" lengthAdjust="spacingAndGlyphs">experimental data</text>
<text x="378" y="152.3" font-family="'Liberation Serif', serif" font-size="9.5" font-weight="bold" fill="#4a2ad0" textLength="51.8" lengthAdjust="spacingAndGlyphs">F-N tunneling</text>
<path d="M345 164.3 C346.67 164.27 351.67 164.15 355 164.1 C358.33 164.05 362.5 163.77 365 164 C367.5 164.23 368.17 164.62 370 165.5 C371.83 166.38 372.33 168 376 169.3 C379.67 170.6 386.33 172.05 392 173.3 C397.67 174.55 404.5 175.63 410 176.8 C415.5 177.97 421.33 179.22 425 180.3 C428.67 181.38 429.83 182.22 432 183.3 C434.17 184.38 436 185.77 438 186.8 C440 187.83 443 189.05 444 189.5 L443 195.5 C442.17 195.25 439.83 194.92 438 194 C436.17 193.08 434.17 191.25 432 190 C429.83 188.75 428.67 187.83 425 186.5 C421.33 185.17 415 183.28 410 182 C405 180.72 400 179.83 395 178.8 C390 177.77 383.83 176.72 380 175.8 C376.17 174.88 374.5 174.17 372 173.3 C369.5 172.43 367.83 171.1 365 170.6 C362.17 170.1 358.33 170.4 355 170.3 C351.67 170.2 346.67 170.05 345 170 Z" fill="url(#ge)" stroke="#5a5810" stroke-width="0.7" />
<path d="M393.5 176.05 C396.25 176.61 404.75 178.18 410 179.4 C415.25 180.62 421.33 182.19 425 183.4 C428.67 184.61 429.83 185.48 432 186.65 C434.17 187.82 436.08 189.43 438 190.4 C439.92 191.38 442.58 192.15 443.5 192.5" fill="none" stroke="#e4e0b0" stroke-width="1" stroke-dasharray="2 1.5" opacity="0.8"/>
<circle cx="441.5" cy="192.3" r="2.8" fill="#f3f1d8" stroke="#a09a40" stroke-width="0.9" />
<path d="M7 337.3 L7 269.3 C10.83 269.28 22.58 269.33 30 269.2 C37.42 269.07 46.5 268.9 51.5 268.5 C56.5 268.1 56.92 267.38 60 266.8 C63.08 266.22 66.57 265.72 70 265 C73.43 264.28 77.6 263.47 80.6 262.5 C83.6 261.53 85.72 260.45 88 259.2 C90.28 257.95 92.62 256.32 94.3 255 C95.98 253.68 97.47 251.92 98.1 251.3 L98.1 337.3 Z" fill="#fcf1d8" />
<path d="M7 269.3 C10.83 269.28 22.58 269.33 30 269.2 C37.42 269.07 46.5 268.9 51.5 268.5 C56.5 268.1 56.92 267.38 60 266.8 C63.08 266.22 66.57 265.72 70 265 C73.43 264.28 77.6 263.47 80.6 262.5 C83.6 261.53 85.72 260.45 88 259.2 C90.28 257.95 92.62 256.32 94.3 255 C95.98 253.68 97.47 251.92 98.1 251.3" fill="none" stroke="#4a4a4a" stroke-width="1.3" />
<path d="M16.3 286.2 C20.25 285.97 31.85 285.47 40 284.8 C48.15 284.13 59.37 282.95 65.2 282.2 C71.03 281.45 71.57 281.07 75 280.3 C78.43 279.53 82.15 279.08 85.8 277.6 C89.45 276.12 95.05 272.43 96.9 271.4" fill="none" stroke="#444" stroke-width="1.2" stroke-dasharray="2.6 2"/>
<line x1="65.6" y1="268.6" x2="65.6" y2="280.3" stroke="#222" stroke-width="0.9" />
<path d="M65.6 280.3 L64.47 277.96 L66.73 277.96 Z" fill="#222" />
<path d="M65.6 268.6 L66.73 270.94 L64.47 270.94 Z" fill="#222" />
<line x1="98.1" y1="247.9" x2="98.1" y2="337.6" stroke="#555" stroke-width="1.3" />
<line x1="109" y1="248" x2="109" y2="293" stroke="#333" stroke-width="0.8" />
<path d="M109 293 L107.87 290.66 L110.13 290.66 Z" fill="#333" />
<path d="M109 248 L110.13 250.34 L107.87 250.34 Z" fill="#333" />
<line x1="98.6" y1="293.8" x2="134.7" y2="293.8" stroke="#666" stroke-width="1.8" />
<text x="121" y="303.4" font-family="'Liberation Sans', sans-serif" font-size="10" fill="#222" textLength="9.4" lengthAdjust="spacingAndGlyphs">E<tspan font-size="6.5" dy="2">F</tspan></text>
<text x="27.5" y="253.9" font-family="'Liberation Sans', sans-serif" font-size="10" fill="#222" textLength="43.7" lengthAdjust="spacingAndGlyphs">ϕ<tspan font-size="6.5" dy="2">t</tspan><tspan dy="-2"> ~0.6 eV</tspan></text>
<text x="27.5" y="263" font-family="'Liberation Sans', sans-serif" font-size="7" fill="#222" textLength="38.5" lengthAdjust="spacingAndGlyphs">(V<tspan font-size="4.5" dy="1.5">O</tspan><tspan font-size="4.5" dy="-4">2+</tspan><tspan dy="2.5"> state)</tspan></text>
<text x="111.5" y="271.2" font-family="'Liberation Sans', sans-serif" font-size="10" fill="#222" textLength="52.8" lengthAdjust="spacingAndGlyphs">ϕ<tspan font-size="6.5" dy="2">B</tspan><tspan dy="-2"> ~0.91 eV</tspan></text>
<text x="136" y="252.2" font-family="'Liberation Serif', serif" font-size="12.5" font-weight="bold" textLength="12" lengthAdjust="spacingAndGlyphs">(f)</text>
<circle cx="30" cy="296.2" r="4.5" fill="#aebbe6" stroke="#6a78b8" stroke-width="0.9" />
<text x="30" y="297.5" font-family="'Liberation Serif', serif" font-size="3.6" font-weight="bold" fill="#2a3a80" text-anchor="middle">V<tspan font-size="2.5" dy="1">o</tspan></text>
<circle cx="56.7" cy="292.7" r="4.5" fill="#aebbe6" stroke="#6a78b8" stroke-width="0.9" />
<text x="56.7" y="294" font-family="'Liberation Serif', serif" font-size="3.6" font-weight="bold" fill="#2a3a80" text-anchor="middle">V<tspan font-size="2.5" dy="1">o</tspan></text>
<circle cx="79.5" cy="289.8" r="4.5" fill="#aebbe6" stroke="#6a78b8" stroke-width="0.9" />
<text x="79.5" y="291.1" font-family="'Liberation Serif', serif" font-size="3.6" font-weight="bold" fill="#2a3a80" text-anchor="middle">V<tspan font-size="2.5" dy="1">o</tspan></text>
<circle cx="46" cy="311.6" r="4.5" fill="#aebbe6" stroke="#6a78b8" stroke-width="0.9" />
<text x="46" y="312.9" font-family="'Liberation Serif', serif" font-size="3.6" font-weight="bold" fill="#2a3a80" text-anchor="middle">V<tspan font-size="2.5" dy="1">o</tspan></text>
<circle cx="74.4" cy="309" r="4.5" fill="#aebbe6" stroke="#6a78b8" stroke-width="0.9" />
<text x="74.4" y="310.3" font-family="'Liberation Serif', serif" font-size="3.6" font-weight="bold" fill="#2a3a80" text-anchor="middle">V<tspan font-size="2.5" dy="1">o</tspan></text>
<text x="70.3" y="334.4" font-family="'Liberation Sans', sans-serif" font-size="11" fill="#222" textLength="24.9" lengthAdjust="spacingAndGlyphs">CeO<tspan font-size="7.5" dy="2">2</tspan></text>
<text x="103.8" y="334.4" font-family="'Liberation Sans', sans-serif" font-size="11" fill="#222" textLength="9.4" lengthAdjust="spacingAndGlyphs">Pt</text>
<path d="M166.5 337.5 L166.5 270.2 C169.58 270.22 179.42 270.35 185 270.3 C190.58 270.25 195.5 270.15 200 269.9 C204.5 269.65 208.67 269.2 212 268.8 C215.33 268.4 217.05 268.03 220 267.5 C222.95 266.97 226.48 266.4 229.7 265.6 C232.92 264.8 236.08 263.83 239.3 262.7 C242.52 261.57 246.5 260.02 249 258.8 C251.5 257.58 253.05 256.45 254.3 255.4 C255.55 254.35 256.13 252.98 256.5 252.5 L256.5 337.5 Z" fill="#fcf1d8" />
<path d="M229.7 265.6 L239.3 262.7 L249 258.8 L254.3 255.4 L256.5 252.5 L256.5 271.4 L255.7 271.4 L249 274.3 L239.3 277.2 L229.7 280.5 Z" fill="#f8e0d0" />
<path d="M166.5 270.2 C169.58 270.22 179.42 270.35 185 270.3 C190.58 270.25 195.5 270.15 200 269.9 C204.5 269.65 208.67 269.2 212 268.8 C215.33 268.4 217.05 268.03 220 267.5 C222.95 266.97 226.48 266.4 229.7 265.6 C232.92 264.8 236.08 263.83 239.3 262.7 C242.52 261.57 246.5 260.02 249 258.8 C251.5 257.58 253.05 256.45 254.3 255.4 C255.55 254.35 256.13 252.98 256.5 252.5" fill="none" stroke="#4a4a4a" stroke-width="1.3" />
<path d="M174.6 286.2 C178.83 286.1 193.77 285.87 200 285.6 C206.23 285.33 208.67 284.97 212 284.6 C215.33 284.23 217.05 284.08 220 283.4 C222.95 282.72 226.48 281.53 229.7 280.5 C232.92 279.47 236.08 278.23 239.3 277.2 C242.52 276.17 246.27 275.27 249 274.3 C251.73 273.33 254.58 271.88 255.7 271.4" fill="none" stroke="#6a5a8a" stroke-width="1.2" stroke-dasharray="2.6 2"/>
<line x1="223.4" y1="267.5" x2="223.4" y2="280.5" stroke="#222" stroke-width="0.9" />
<path d="M223.4 280.5 L222.27 278.16 L224.53 278.16 Z" fill="#222" />
<path d="M223.4 267.5 L224.53 269.84 L222.27 269.84 Z" fill="#222" />
<circle cx="235.9" cy="269.9" r="1.7" fill="#c8b088" stroke="#7a5a2a" stroke-width="0.6" />
<text x="235.9" y="271" font-family="'Liberation Serif', serif" font-size="3" font-weight="bold" fill="#5a3a10" text-anchor="middle">e</text>
<circle cx="241.2" cy="269.4" r="1.7" fill="#c8b088" stroke="#7a5a2a" stroke-width="0.6" />
<text x="241.2" y="270.5" font-family="'Liberation Serif', serif" font-size="3" font-weight="bold" fill="#5a3a10" text-anchor="middle">e</text>
<circle cx="246.1" cy="267.5" r="1.7" fill="#c8b088" stroke="#7a5a2a" stroke-width="0.6" />
<text x="246.1" y="268.6" font-family="'Liberation Serif', serif" font-size="3" font-weight="bold" fill="#5a3a10" text-anchor="middle">e</text>
<circle cx="231.6" cy="277.2" r="1.7" fill="#c8b088" stroke="#7a5a2a" stroke-width="0.6" />
<text x="231.6" y="278.3" font-family="'Liberation Serif', serif" font-size="3" font-weight="bold" fill="#5a3a10" text-anchor="middle">e</text>
<circle cx="237.9" cy="275.2" r="1.7" fill="#c8b088" stroke="#7a5a2a" stroke-width="0.6" />
<text x="237.9" y="276.3" font-family="'Liberation Serif', serif" font-size="3" font-weight="bold" fill="#5a3a10" text-anchor="middle">e</text>
<circle cx="247.5" cy="273.3" r="1.7" fill="#c8b088" stroke="#7a5a2a" stroke-width="0.6" />
<text x="247.5" y="274.4" font-family="'Liberation Serif', serif" font-size="3" font-weight="bold" fill="#5a3a10" text-anchor="middle">e</text>
<path d="M251.9 270.9 C251.9 260 262.5 260 262.5 270.4" fill="none" stroke="#8a3414" stroke-width="2.3" />
<path d="M263 272 L261.7 269.3 L264.3 269.3 Z" fill="#8a3010" />
<line x1="256.5" y1="248.2" x2="256.5" y2="338.2" stroke="#555" stroke-width="1.3" />
<line x1="267" y1="248" x2="267" y2="271" stroke="#333" stroke-width="0.8" />
<path d="M267 271 L265.87 268.66 L268.13 268.66 Z" fill="#333" />
<path d="M267 248 L268.13 250.34 L265.87 250.34 Z" fill="#333" />
<rect x="263.9" y="272.8" width="16" height="22.7" fill="#f9cde6" />
<line x1="256.4" y1="272.3" x2="292.2" y2="272.3" stroke="#444" stroke-width="1.4" />
<rect x="270.1" y="280.5" width="5.7" height="14.7" fill="#7a2a0a" />
<path d="M267 281.2 L278.6 281.2 L272.8 274.8 Z" fill="#7a2a0a" />
<text x="281" y="285.2" font-family="'Liberation Sans', sans-serif" font-size="10" fill="#222" textLength="9.4" lengthAdjust="spacingAndGlyphs">E<tspan font-size="6.5" dy="2">F</tspan></text>
<line x1="257.5" y1="297.8" x2="292.2" y2="297.8" stroke="#444" stroke-width="1.3" stroke-dasharray="2.2 2"/>
<rect x="270.5" y="254" width="58" height="10.5" fill="#fcecee" />
<text x="272" y="262" font-family="'Liberation Sans', sans-serif" font-size="10" fill="#c0483a" textLength="55.5" lengthAdjust="spacingAndGlyphs">ϕ<tspan font-size="6.5" dy="2">B</tspan><tspan dy="-2"> &lt; 0.91 eV</tspan></text>
<text x="186.6" y="253.2" font-family="'Liberation Sans', sans-serif" font-size="10" fill="#222" textLength="44.3" lengthAdjust="spacingAndGlyphs">ϕ<tspan font-size="6.5" dy="2">t</tspan><tspan dy="-2"> ~0.6 eV</tspan></text>
<text x="186.6" y="262.5" font-family="'Liberation Sans', sans-serif" font-size="7" fill="#222" textLength="38.3" lengthAdjust="spacingAndGlyphs">(V<tspan font-size="4.5" dy="1.5">O</tspan><tspan font-size="4.5" dy="-4">2+</tspan><tspan dy="2.5"> state)</tspan></text>
<circle cx="188.3" cy="298.7" r="4.5" fill="#aebbe6" stroke="#6a78b8" stroke-width="0.9" />
<text x="188.3" y="300" font-family="'Liberation Serif', serif" font-size="3.6" font-weight="bold" fill="#2a3a80" text-anchor="middle">V<tspan font-size="2.5" dy="1">o</tspan></text>
<circle cx="200.9" cy="291.5" r="4.5" fill="#aebbe6" stroke="#6a78b8" stroke-width="0.9" />
<text x="200.9" y="292.8" font-family="'Liberation Serif', serif" font-size="3.6" font-weight="bold" fill="#2a3a80" text-anchor="middle">V<tspan font-size="2.5" dy="1">o</tspan></text>
<circle cx="220.4" cy="289.3" r="4.5" fill="#aebbe6" stroke="#6a78b8" stroke-width="0.9" />
<text x="220.4" y="290.6" font-family="'Liberation Serif', serif" font-size="3.6" font-weight="bold" fill="#2a3a80" text-anchor="middle">V<tspan font-size="2.5" dy="1">o</tspan></text>
<circle cx="210.6" cy="300.5" r="4.5" fill="#aebbe6" stroke="#6a78b8" stroke-width="0.9" />
<text x="210.6" y="301.8" font-family="'Liberation Serif', serif" font-size="3.6" font-weight="bold" fill="#2a3a80" text-anchor="middle">V<tspan font-size="2.5" dy="1">o</tspan></text>
<circle cx="226.6" cy="299.6" r="4.5" fill="#aebbe6" stroke="#6a78b8" stroke-width="0.9" />
<text x="226.6" y="300.9" font-family="'Liberation Serif', serif" font-size="3.6" font-weight="bold" fill="#2a3a80" text-anchor="middle">V<tspan font-size="2.5" dy="1">o</tspan></text>
<circle cx="236" cy="292.7" r="4.5" fill="#aebbe6" stroke="#6a78b8" stroke-width="0.9" />
<text x="236" y="294" font-family="'Liberation Serif', serif" font-size="3.6" font-weight="bold" fill="#2a3a80" text-anchor="middle">V<tspan font-size="2.5" dy="1">o</tspan></text>
<circle cx="248" cy="287.6" r="4.5" fill="#aebbe6" stroke="#6a78b8" stroke-width="0.9" />
<text x="248" y="288.9" font-family="'Liberation Serif', serif" font-size="3.6" font-weight="bold" fill="#2a3a80" text-anchor="middle">V<tspan font-size="2.5" dy="1">o</tspan></text>
<circle cx="246.3" cy="303" r="4.5" fill="#aebbe6" stroke="#6a78b8" stroke-width="0.9" />
<text x="246.3" y="304.3" font-family="'Liberation Serif', serif" font-size="3.6" font-weight="bold" fill="#2a3a80" text-anchor="middle">V<tspan font-size="2.5" dy="1">o</tspan></text>
<circle cx="199.8" cy="310.8" r="4.5" fill="#aebbe6" stroke="#6a78b8" stroke-width="0.9" />
<text x="199.8" y="312.1" font-family="'Liberation Serif', serif" font-size="3.6" font-weight="bold" fill="#2a3a80" text-anchor="middle">V<tspan font-size="2.5" dy="1">o</tspan></text>
<circle cx="222.7" cy="312.5" r="4.5" fill="#aebbe6" stroke="#6a78b8" stroke-width="0.9" />
<text x="222.7" y="313.8" font-family="'Liberation Serif', serif" font-size="3.6" font-weight="bold" fill="#2a3a80" text-anchor="middle">V<tspan font-size="2.5" dy="1">o</tspan></text>
<circle cx="238" cy="313.8" r="4.5" fill="#aebbe6" stroke="#6a78b8" stroke-width="0.9" />
<text x="238" y="315.1" font-family="'Liberation Serif', serif" font-size="3.6" font-weight="bold" fill="#2a3a80" text-anchor="middle">V<tspan font-size="2.5" dy="1">o</tspan></text>
<circle cx="211.5" cy="321.9" r="4.5" fill="#aebbe6" stroke="#6a78b8" stroke-width="0.9" />
<text x="211.5" y="323.2" font-family="'Liberation Serif', serif" font-size="3.6" font-weight="bold" fill="#2a3a80" text-anchor="middle">V<tspan font-size="2.5" dy="1">o</tspan></text>
<path d="M176.3 318.6 L194.3 318.6 L194.3 316 L200.3 321.9 L194.3 327.6 L194.3 325.2 L176.3 325.2 Z" fill="#c6d6f2" stroke="#6a88c8" stroke-width="0.8" />
<text x="229.4" y="334.8" font-family="'Liberation Sans', sans-serif" font-size="11" fill="#222" textLength="23.8" lengthAdjust="spacingAndGlyphs">CeO<tspan font-size="7.5" dy="2">2</tspan></text>
<text x="262.6" y="334.4" font-family="'Liberation Sans', sans-serif" font-size="11" fill="#222" textLength="9.4" lengthAdjust="spacingAndGlyphs">Pt</text>
<text x="312.9" y="240.9" font-family="'Liberation Serif', serif" font-size="13" font-weight="bold" textLength="14.6" lengthAdjust="spacingAndGlyphs">(g)</text>
<rect x="341.5" y="234" width="118.7" height="92.8" fill="none" stroke="#555" stroke-width="0.9" />
<line x1="341.5" y1="234" x2="343.5" y2="234" stroke="#555" stroke-width="0.7" />
<text x="335.4" y="235.9" font-family="'Liberation Sans', sans-serif" font-size="5" fill="#333" text-anchor="end">10</text>
<text x="335.6" y="233.7" font-family="'Liberation Sans', sans-serif" font-size="3.4" fill="#333">-5</text>
<line x1="341.5" y1="245.6" x2="343.5" y2="245.6" stroke="#555" stroke-width="0.7" />
<text x="335.4" y="247.5" font-family="'Liberation Sans', sans-serif" font-size="5" fill="#333" text-anchor="end">10</text>
<text x="335.6" y="245.3" font-family="'Liberation Sans', sans-serif" font-size="3.4" fill="#333">-6</text>
<line x1="341.5" y1="257.2" x2="343.5" y2="257.2" stroke="#555" stroke-width="0.7" />
<text x="335.4" y="259.1" font-family="'Liberation Sans', sans-serif" font-size="5" fill="#333" text-anchor="end">10</text>
<text x="335.6" y="256.9" font-family="'Liberation Sans', sans-serif" font-size="3.4" fill="#333">-7</text>
<line x1="341.5" y1="268.8" x2="343.5" y2="268.8" stroke="#555" stroke-width="0.7" />
<text x="335.4" y="270.7" font-family="'Liberation Sans', sans-serif" font-size="5" fill="#333" text-anchor="end">10</text>
<text x="335.6" y="268.5" font-family="'Liberation Sans', sans-serif" font-size="3.4" fill="#333">-8</text>
<line x1="341.5" y1="280.4" x2="343.5" y2="280.4" stroke="#555" stroke-width="0.7" />
<text x="335.4" y="282.3" font-family="'Liberation Sans', sans-serif" font-size="5" fill="#333" text-anchor="end">10</text>
<text x="335.6" y="280.1" font-family="'Liberation Sans', sans-serif" font-size="3.4" fill="#333">-9</text>
<line x1="341.5" y1="292" x2="343.5" y2="292" stroke="#555" stroke-width="0.7" />
<text x="335.4" y="293.9" font-family="'Liberation Sans', sans-serif" font-size="5" fill="#333" text-anchor="end">10</text>
<text x="335.6" y="291.7" font-family="'Liberation Sans', sans-serif" font-size="3.4" fill="#333">-10</text>
<line x1="341.5" y1="303.6" x2="343.5" y2="303.6" stroke="#555" stroke-width="0.7" />
<text x="335.4" y="305.5" font-family="'Liberation Sans', sans-serif" font-size="5" fill="#333" text-anchor="end">10</text>
<text x="335.6" y="303.3" font-family="'Liberation Sans', sans-serif" font-size="3.4" fill="#333">-11</text>
<line x1="341.5" y1="315.2" x2="343.5" y2="315.2" stroke="#555" stroke-width="0.7" />
<text x="335.4" y="317.1" font-family="'Liberation Sans', sans-serif" font-size="5" fill="#333" text-anchor="end">10</text>
<text x="335.6" y="314.9" font-family="'Liberation Sans', sans-serif" font-size="3.4" fill="#333">-12</text>
<line x1="341.5" y1="326.8" x2="343.5" y2="326.8" stroke="#555" stroke-width="0.7" />
<text x="335.4" y="328.7" font-family="'Liberation Sans', sans-serif" font-size="5" fill="#333" text-anchor="end">10</text>
<text x="335.6" y="326.5" font-family="'Liberation Sans', sans-serif" font-size="3.4" fill="#333">-13</text>
<line x1="341.7" y1="326.8" x2="341.7" y2="324.8" stroke="#555" stroke-width="0.7" />
<text x="341.7" y="333.4" font-family="'Liberation Sans', sans-serif" font-size="5.8" fill="#333" text-anchor="middle">-8</text>
<line x1="356.46" y1="326.8" x2="356.46" y2="324.8" stroke="#555" stroke-width="0.7" />
<text x="356.46" y="333.4" font-family="'Liberation Sans', sans-serif" font-size="5.8" fill="#333" text-anchor="middle">-6</text>
<line x1="371.22" y1="326.8" x2="371.22" y2="324.8" stroke="#555" stroke-width="0.7" />
<text x="371.22" y="333.4" font-family="'Liberation Sans', sans-serif" font-size="5.8" fill="#333" text-anchor="middle">-4</text>
<line x1="385.98" y1="326.8" x2="385.98" y2="324.8" stroke="#555" stroke-width="0.7" />
<text x="385.98" y="333.4" font-family="'Liberation Sans', sans-serif" font-size="5.8" fill="#333" text-anchor="middle">-2</text>
<line x1="400.74" y1="326.8" x2="400.74" y2="324.8" stroke="#555" stroke-width="0.7" />
<text x="400.74" y="333.4" font-family="'Liberation Sans', sans-serif" font-size="5.8" fill="#333" text-anchor="middle">0</text>
<line x1="415.5" y1="326.8" x2="415.5" y2="324.8" stroke="#555" stroke-width="0.7" />
<text x="415.5" y="333.4" font-family="'Liberation Sans', sans-serif" font-size="5.8" fill="#333" text-anchor="middle">2</text>
<line x1="430.26" y1="326.8" x2="430.26" y2="324.8" stroke="#555" stroke-width="0.7" />
<text x="430.26" y="333.4" font-family="'Liberation Sans', sans-serif" font-size="5.8" fill="#333" text-anchor="middle">4</text>
<line x1="445.02" y1="326.8" x2="445.02" y2="324.8" stroke="#555" stroke-width="0.7" />
<text x="445.02" y="333.4" font-family="'Liberation Sans', sans-serif" font-size="5.8" fill="#333" text-anchor="middle">6</text>
<line x1="459.78" y1="326.8" x2="459.78" y2="324.8" stroke="#555" stroke-width="0.7" />
<text x="459.78" y="333.4" font-family="'Liberation Sans', sans-serif" font-size="5.8" fill="#333" text-anchor="middle">8</text>
<text x="376.6" y="343.6" font-family="'Liberation Sans', sans-serif" font-size="7" fill="#333" textLength="53.4" lengthAdjust="spacingAndGlyphs">Sweep Voltage (V)</text>
<text x="344" y="240.3" font-family="'Liberation Sans', sans-serif" font-size="5.2" font-weight="bold" fill="#222" textLength="52.8" lengthAdjust="spacingAndGlyphs">500℃-annealed CeO<tspan font-size="3.5" dy="1">2</tspan></text>
<line x1="399.5" y1="238.3" x2="410.8" y2="238.3" stroke="#222" stroke-width="0.8" />
<circle cx="405" cy="238.3" r="0.8" fill="#222" />
<text x="412.5" y="240" font-family="'Liberation Sans', sans-serif" font-size="4.8" fill="#333" textLength="46.5" lengthAdjust="spacingAndGlyphs">+4 V sweep 20 times</text>
<line x1="399.5" y1="243.7" x2="410.8" y2="243.7" stroke="#b06a3a" stroke-width="0.8" />
<circle cx="405" cy="243.7" r="0.8" fill="#b06a3a" />
<text x="412.5" y="245.4" font-family="'Liberation Sans', sans-serif" font-size="4.8" fill="#333" textLength="46.5" lengthAdjust="spacingAndGlyphs">-4 V sweep 20 times</text>
<line x1="399.5" y1="249.6" x2="410.8" y2="249.6" stroke="#5a5ac8" stroke-width="0.8" />
<circle cx="405" cy="249.6" r="0.8" fill="#5a5ac8" />
<text x="412.5" y="251.3" font-family="'Liberation Sans', sans-serif" font-size="4.8" fill="#333" textLength="46.5" lengthAdjust="spacingAndGlyphs">+7 V sweep 20 times</text>
<line x1="399.5" y1="255.6" x2="410.8" y2="255.6" stroke="#a090d8" stroke-width="0.8" />
<circle cx="405" cy="255.6" r="0.8" fill="#a090d8" />
<text x="412.5" y="257.3" font-family="'Liberation Sans', sans-serif" font-size="4.8" fill="#333" textLength="46.5" lengthAdjust="spacingAndGlyphs">-7 V sweep 20 times</text>
<path d="M347.7 262.5 L360 266 L374.3 270.5 L388 278 L400 286.5 L400 292.8 L395 296 L391.5 299.6 L387 306 L384.6 311.7 L381 316 L379.5 317 L377.5 306 L372 295 L365.8 287.6 L356 281 L347.7 277.3 Z" fill="url(#hatch)" opacity="0.85"/>
<path d="M349 264 L362 268.5 L376 274 L390 282 L398 290 L390 297 L386 304 L383 312 L379 304 L373 293 L365 285 L356 278 L349 274 Z" fill="#e070d0" opacity="0.25"/>
<path d="M347.7 262.8 C350.08 263.3 357.57 264.52 362 265.8 C366.43 267.08 369.97 268.5 374.3 270.5 C378.63 272.5 383.72 275.13 388 277.8 C392.28 280.47 398 285.05 400 286.5" fill="none" stroke="#a898e0" stroke-width="2.2" opacity="0.8"/>
<path d="M360.6 270.5 C363.83 271.08 373.43 272.83 380 274 C386.57 275.17 393.5 276.5 400 277.5 C406.5 278.5 415.83 279.58 419 280" fill="none" stroke="#b0a8d8" stroke-width="0.7" />
<path d="M347.7 277.3 C349.08 277.92 352.98 279.28 356 281 C359.02 282.72 363.13 285.27 365.8 287.6 C368.47 289.93 370.05 291.93 372 295 C373.95 298.07 376.25 302.33 377.5 306 C378.75 309.67 379.17 315.17 379.5 317" fill="none" stroke="#9a7ad8" stroke-width="0.8" />
<line x1="376" y1="300" x2="377" y2="318" stroke="#b03a6a" stroke-width="0.5" />
<line x1="380" y1="296" x2="381.5" y2="314" stroke="#b03a6a" stroke-width="0.5" />
<line x1="373" y1="292" x2="375" y2="305" stroke="#b03a6a" stroke-width="0.5" />
<line x1="388" y1="292" x2="386.5" y2="310" stroke="#b03a6a" stroke-width="0.5" />
<path d="M400.6 286 L404 285 L407.5 288 L407 326.6 L405 302 L402 293 L400.6 292 Z" fill="#7a78dc" opacity="0.85"/>
<path d="M407.5 288 L413.8 289.3 L422 286 L434 279.5 L444 273.5 L453 268.5 L453.5 271.5 L444 277.5 L434 284.5 L428 292 L424 303 L421.2 317.5 L418.5 305 L415 296 L410 291.5 Z" fill="#8482e0" opacity="0.85"/>
<path d="M413 291 L420 289 L430 284 L436 280.5 L434 284.5 L428 291 L424 300 L421.5 312 L419.5 300 L415 293 Z" fill="#2a2a70" opacity="0.55"/>
<circle cx="418.18" cy="292.62" r="0.55" fill="#141440" />
<circle cx="423.41" cy="290.74" r="0.55" fill="#141440" />
<circle cx="421.57" cy="297.78" r="0.55" fill="#141440" />
<circle cx="413.93" cy="301.18" r="0.55" fill="#141440" />
<circle cx="413.6" cy="299.41" r="0.55" fill="#141440" />
<circle cx="414.12" cy="291.18" r="0.55" fill="#141440" />
<circle cx="419.79" cy="308.84" r="0.55" fill="#141440" />
<circle cx="414.98" cy="294.36" r="0.55" fill="#141440" />
<circle cx="423.04" cy="311.75" r="0.55" fill="#141440" />
<circle cx="422.23" cy="298.52" r="0.55" fill="#141440" />
<circle cx="428.62" cy="290.12" r="0.55" fill="#141440" />
<circle cx="426.74" cy="295.95" r="0.55" fill="#141440" />
<circle cx="415.31" cy="291.83" r="0.55" fill="#141440" />
<circle cx="417.94" cy="308.59" r="0.55" fill="#141440" />
<circle cx="415.89" cy="302.96" r="0.55" fill="#141440" />
<circle cx="423.22" cy="297.94" r="0.55" fill="#141440" />
<circle cx="421.76" cy="290.51" r="0.55" fill="#141440" />
<circle cx="413.95" cy="293.94" r="0.55" fill="#141440" />
<circle cx="423.89" cy="299.26" r="0.55" fill="#141440" />
<circle cx="418.03" cy="303.05" r="0.55" fill="#141440" />
<circle cx="420.25" cy="296.19" r="0.55" fill="#141440" />
<circle cx="425.71" cy="305.78" r="0.55" fill="#141440" />
<path d="M400.6 286.5 C401.6 286.13 403.37 285.55 406.6 284.3 C409.83 283.05 415.1 280.97 420 279 C424.9 277.03 430.5 274.53 436 272.5 C441.5 270.47 450.17 267.75 453 266.8" fill="none" stroke="#9a9ae4" stroke-width="1" />
<line x1="406.6" y1="284.5" x2="406.6" y2="326.6" stroke="#8a8ae0" stroke-width="0.8" />
<line x1="346" y1="262" x2="346" y2="277.5" stroke="#8a1a1a" stroke-width="0.9" />
<path d="M346 277.5 L345.04 275.52 L346.96 275.52 Z" fill="#8a1a1a" />
<line x1="368.3" y1="271.3" x2="368.3" y2="287.8" stroke="#8a1a1a" stroke-width="0.9" />
<path d="M368.3 287.8 L367.34 285.82 L369.26 285.82 Z" fill="#8a1a1a" />
<line x1="385.5" y1="304" x2="385.5" y2="326" stroke="#6a2a1a" stroke-width="0.8" />
<line x1="400" y1="288" x2="400" y2="326" stroke="#5a3a2a" stroke-width="0.8" />
<line x1="384" y1="325.6" x2="420" y2="325.6" stroke="#3a3ab0" stroke-width="0.7" />
<path d="M420 325.6 L418.2 326.47 L418.2 324.73 Z" fill="#3a3ab0" />
<path d="M384 325.6 L385.8 324.73 L385.8 326.47 Z" fill="#3a3ab0" />
<line x1="454.7" y1="265.5" x2="454.7" y2="274.5" stroke="#222" stroke-width="0.8" />
<path d="M454.7 274.5 L453.83 272.7 L455.57 272.7 Z" fill="#222" />
<circle cx="432.7" cy="286" r="0.9" fill="#111" />
<text x="425.5" y="320.4" font-family="'Liberation Sans', sans-serif" font-size="4.3" fill="#333" textLength="22.3" lengthAdjust="spacingAndGlyphs">reverse current</text>
<text x="425.5" y="325.2" font-family="'Liberation Sans', sans-serif" font-size="4.3" fill="#333" textLength="26.5" lengthAdjust="spacingAndGlyphs">due to charging</text>
<text x="1.7" y="352.1" font-family="'Liberation Serif', serif" font-size="13" font-weight="bold" textLength="14.6" lengthAdjust="spacingAndGlyphs">(h)</text>
<rect x="29.5" y="344.5" width="110" height="86.8" fill="none" stroke="#666" stroke-width="0.9" />
<line x1="29.5" y1="344.5" x2="31.5" y2="344.5" stroke="#555" stroke-width="0.7" />
<text x="25.7" y="346.3" font-family="'Liberation Sans', sans-serif" font-size="5.2" fill="#333" text-anchor="end">7x10</text>
<text x="25.9" y="343.9" font-family="'Liberation Sans', sans-serif" font-size="3" fill="#333">5</text>
<line x1="29.5" y1="357.8" x2="31.5" y2="357.8" stroke="#555" stroke-width="0.7" />
<text x="25.7" y="359.6" font-family="'Liberation Sans', sans-serif" font-size="5.2" fill="#333" text-anchor="end">6x10</text>
<text x="25.9" y="357.2" font-family="'Liberation Sans', sans-serif" font-size="3" fill="#333">5</text>
<line x1="29.5" y1="371.1" x2="31.5" y2="371.1" stroke="#555" stroke-width="0.7" />
<text x="25.7" y="372.9" font-family="'Liberation Sans', sans-serif" font-size="5.2" fill="#333" text-anchor="end">5x10</text>
<text x="25.9" y="370.5" font-family="'Liberation Sans', sans-serif" font-size="3" fill="#333">5</text>
<line x1="29.5" y1="384.4" x2="31.5" y2="384.4" stroke="#555" stroke-width="0.7" />
<text x="25.7" y="386.2" font-family="'Liberation Sans', sans-serif" font-size="5.2" fill="#333" text-anchor="end">4x10</text>
<text x="25.9" y="383.8" font-family="'Liberation Sans', sans-serif" font-size="3" fill="#333">5</text>
<line x1="29.5" y1="397.7" x2="31.5" y2="397.7" stroke="#555" stroke-width="0.7" />
<text x="25.7" y="399.5" font-family="'Liberation Sans', sans-serif" font-size="5.2" fill="#333" text-anchor="end">3x10</text>
<text x="25.9" y="397.1" font-family="'Liberation Sans', sans-serif" font-size="3" fill="#333">5</text>
<line x1="29.5" y1="411" x2="31.5" y2="411" stroke="#555" stroke-width="0.7" />
<text x="25.7" y="412.8" font-family="'Liberation Sans', sans-serif" font-size="5.2" fill="#333" text-anchor="end">2x10</text>
<text x="25.9" y="410.4" font-family="'Liberation Sans', sans-serif" font-size="3" fill="#333">5</text>
<line x1="29.5" y1="424.3" x2="31.5" y2="424.3" stroke="#555" stroke-width="0.7" />
<text x="25.7" y="426.1" font-family="'Liberation Sans', sans-serif" font-size="5.2" fill="#333" text-anchor="end">1x10</text>
<text x="25.9" y="423.7" font-family="'Liberation Sans', sans-serif" font-size="3" fill="#333">5</text>
<line x1="29.87" y1="431.3" x2="29.87" y2="429.8" stroke="#555" stroke-width="0.7" />
<line x1="40.8" y1="431.3" x2="40.8" y2="429.3" stroke="#555" stroke-width="0.7" />
<line x1="51.72" y1="431.3" x2="51.72" y2="429.8" stroke="#555" stroke-width="0.7" />
<line x1="62.65" y1="431.3" x2="62.65" y2="429.3" stroke="#555" stroke-width="0.7" />
<line x1="73.57" y1="431.3" x2="73.57" y2="429.8" stroke="#555" stroke-width="0.7" />
<line x1="84.5" y1="431.3" x2="84.5" y2="429.3" stroke="#555" stroke-width="0.7" />
<line x1="95.42" y1="431.3" x2="95.42" y2="429.8" stroke="#555" stroke-width="0.7" />
<line x1="106.35" y1="431.3" x2="106.35" y2="429.3" stroke="#555" stroke-width="0.7" />
<line x1="117.28" y1="431.3" x2="117.28" y2="429.8" stroke="#555" stroke-width="0.7" />
<line x1="128.2" y1="431.3" x2="128.2" y2="429.3" stroke="#555" stroke-width="0.7" />
<line x1="139.12" y1="431.3" x2="139.12" y2="429.8" stroke="#555" stroke-width="0.7" />
<text x="40.8" y="437.5" font-family="'Liberation Sans', sans-serif" font-size="6" fill="#333" text-anchor="middle">920</text>
<text x="62.65" y="437.5" font-family="'Liberation Sans', sans-serif" font-size="6" fill="#333" text-anchor="middle">910</text>
<text x="84.5" y="437.5" font-family="'Liberation Sans', sans-serif" font-size="6" fill="#333" text-anchor="middle">900</text>
<text x="106.35" y="437.5" font-family="'Liberation Sans', sans-serif" font-size="6" fill="#333" text-anchor="middle">890</text>
<text x="128.2" y="437.5" font-family="'Liberation Sans', sans-serif" font-size="6" fill="#333" text-anchor="middle">880</text>
<text x="59.1" y="446.8" font-family="'Liberation Sans', sans-serif" font-size="7" fill="#333" textLength="50.4" lengthAdjust="spacingAndGlyphs">Binding energy (eV)</text>
<text x="9.6" y="390" font-family="'Liberation Sans', sans-serif" font-size="6" fill="#333" text-anchor="middle" textLength="38" lengthAdjust="spacingAndGlyphs" transform="rotate(-90 9.6 390)">Intensity (a.u.)</text>
<rect x="30.2" y="346.6" width="58" height="5.8" fill="#fff" stroke="#999" stroke-width="0.5" />
<line x1="47.3" y1="346.6" x2="47.3" y2="352.4" stroke="#999" stroke-width="0.5" />
<text x="31.9" y="351.2" font-family="'Liberation Sans', sans-serif" font-size="4.6" font-weight="bold" fill="#222" textLength="8.3" lengthAdjust="spacingAndGlyphs">Ce3d</text>
<line x1="48.6" y1="349.5" x2="58.3" y2="349.5" stroke="#a07a6a" stroke-width="0.7" />
<text x="58.9" y="351" font-family="'Liberation Sans', sans-serif" font-size="4.4" fill="#333">Ce<tspan font-size="2.8" dy="-1.5">3+</tspan></text>
<line x1="66.5" y1="349.5" x2="79.5" y2="349.5" stroke="#6a6ac0" stroke-width="0.7" />
<text x="80" y="351" font-family="'Liberation Sans', sans-serif" font-size="4.4" fill="#333">Ce<tspan font-size="2.8" dy="-1.5">4+</tspan></text>
<path d="M67.72 365.3 C67.94 365.31 68.6 365.35 69.04 365.33 C69.48 365.3 69.92 365.31 70.36 365.16 C70.8 365.02 71.24 364.86 71.68 364.47 C72.12 364.09 72.56 363.52 73 362.84 C73.44 362.17 73.88 361.16 74.32 360.44 C74.76 359.73 75.2 358.85 75.64 358.54 C76.08 358.24 76.52 358.26 76.96 358.61 C77.4 358.97 77.84 359.89 78.28 360.66 C78.72 361.43 79.16 362.49 79.6 363.21 C80.04 363.93 80.48 364.55 80.92 364.98 C81.36 365.42 81.8 365.63 82.24 365.82 C82.68 366.01 83.12 366.05 83.56 366.12 C84 366.19 84.66 366.23 84.88 366.25" fill="none" stroke="#a07060" stroke-width="0.6" />
<path d="M80.06 365.98 C80.22 365.99 80.7 366.02 81.02 366 C81.34 365.98 81.66 365.98 81.98 365.88 C82.3 365.78 82.62 365.66 82.94 365.37 C83.26 365.09 83.58 364.67 83.9 364.18 C84.22 363.68 84.54 362.94 84.86 362.42 C85.18 361.89 85.5 361.25 85.82 361.02 C86.14 360.8 86.46 360.82 86.78 361.07 C87.1 361.33 87.42 362.01 87.74 362.57 C88.06 363.14 88.38 363.91 88.7 364.44 C89.02 364.97 89.34 365.42 89.66 365.74 C89.98 366.06 90.3 366.21 90.62 366.35 C90.94 366.49 91.26 366.53 91.58 366.58 C91.9 366.63 92.38 366.65 92.54 366.67" fill="none" stroke="#b08a7a" stroke-width="0.6" />
<path d="M109.22 368.33 C109.44 368.34 110.1 368.41 110.54 368.38 C110.98 368.34 111.42 368.36 111.86 368.12 C112.3 367.87 112.74 367.59 113.18 366.91 C113.62 366.23 114.06 365.21 114.5 364.01 C114.94 362.81 115.38 361 115.82 359.73 C116.26 358.45 116.7 356.88 117.14 356.34 C117.58 355.8 118.02 355.86 118.46 356.51 C118.9 357.15 119.34 358.83 119.78 360.22 C120.22 361.61 120.66 363.53 121.1 364.84 C121.54 366.15 121.98 367.28 122.42 368.07 C122.86 368.87 123.3 369.26 123.74 369.61 C124.18 369.97 124.62 370.06 125.06 370.2 C125.5 370.35 126.16 370.43 126.38 370.48" fill="none" stroke="#a07060" stroke-width="0.6" />
<path d="M122.3 369.95 C122.47 369.96 122.97 370.03 123.3 370 C123.63 369.98 123.97 369.99 124.3 369.8 C124.63 369.61 124.97 369.39 125.3 368.86 C125.63 368.33 125.97 367.55 126.3 366.62 C126.63 365.69 126.97 364.29 127.3 363.3 C127.63 362.31 127.97 361.09 128.3 360.68 C128.63 360.27 128.97 360.31 129.3 360.82 C129.63 361.33 129.97 362.64 130.3 363.73 C130.63 364.81 130.97 366.31 131.3 367.33 C131.63 368.35 131.97 369.23 132.3 369.86 C132.63 370.48 132.97 370.79 133.3 371.07 C133.63 371.35 133.97 371.42 134.3 371.54 C134.63 371.65 135.13 371.71 135.3 371.75" fill="none" stroke="#b08a7a" stroke-width="0.6" />
<path d="M79.32 365.95 C79.44 365.95 79.8 365.97 80.04 365.97 C80.28 365.96 80.52 365.96 80.76 365.91 C81 365.86 81.24 365.8 81.48 365.65 C81.72 365.49 81.96 365.27 82.2 365 C82.44 364.74 82.68 364.34 82.92 364.05 C83.16 363.77 83.4 363.42 83.64 363.3 C83.88 363.19 84.12 363.2 84.36 363.34 C84.6 363.49 84.84 363.86 85.08 364.17 C85.32 364.48 85.56 364.91 85.8 365.2 C86.04 365.49 86.28 365.74 86.52 365.92 C86.76 366.1 87 366.19 87.24 366.27 C87.48 366.35 87.72 366.37 87.96 366.4 C88.2 366.43 88.56 366.45 88.68 366.46" fill="none" stroke="#d090b0" stroke-width="0.6" />
<path d="M116.82 369.27 C116.94 369.28 117.3 369.32 117.54 369.33 C117.78 369.33 118.02 369.35 118.26 369.29 C118.5 369.24 118.74 369.17 118.98 368.98 C119.22 368.79 119.46 368.5 119.7 368.16 C119.94 367.82 120.18 367.3 120.42 366.93 C120.66 366.57 120.9 366.12 121.14 365.97 C121.38 365.83 121.62 365.86 121.86 366.06 C122.1 366.27 122.34 366.78 122.58 367.2 C122.82 367.63 123.06 368.21 123.3 368.61 C123.54 369.02 123.78 369.36 124.02 369.61 C124.26 369.86 124.5 369.99 124.74 370.11 C124.98 370.23 125.22 370.27 125.46 370.33 C125.7 370.39 126.06 370.44 126.18 370.46" fill="none" stroke="#9a70c0" stroke-width="0.6" />
<path d="M120.32 369.71 C120.44 369.71 120.8 369.76 121.04 369.76 C121.28 369.76 121.52 369.78 121.76 369.7 C122 369.62 122.24 369.52 122.48 369.28 C122.72 369.03 122.96 368.67 123.2 368.23 C123.44 367.8 123.68 367.14 123.92 366.68 C124.16 366.21 124.4 365.64 124.64 365.45 C124.88 365.26 125.12 365.29 125.36 365.55 C125.6 365.8 125.84 366.44 126.08 366.96 C126.32 367.49 126.56 368.22 126.8 368.72 C127.04 369.21 127.28 369.65 127.52 369.95 C127.76 370.26 128 370.42 128.24 370.56 C128.48 370.71 128.72 370.76 128.96 370.82 C129.2 370.89 129.56 370.94 129.68 370.96" fill="none" stroke="#d090b0" stroke-width="0.6" />
<path d="M37 364.69 C37.33 364.69 38.33 364.71 39 364.7 C39.67 364.7 40.33 364.71 41 364.68 C41.67 364.65 42.33 364.62 43 364.54 C43.67 364.46 44.33 364.34 45 364.2 C45.67 364.06 46.33 363.85 47 363.7 C47.67 363.55 48.33 363.36 49 363.3 C49.67 363.24 50.33 363.25 51 363.33 C51.67 363.41 52.33 363.61 53 363.77 C53.67 363.94 54.33 364.17 55 364.33 C55.67 364.48 56.33 364.62 57 364.71 C57.67 364.81 58.33 364.86 59 364.9 C59.67 364.94 60.33 364.95 61 364.98 C61.67 365 62.67 365.04 63 365.05" fill="none" stroke="#6a6ac8" stroke-width="0.6" />
<path d="M87 366.37 C87.33 366.39 88.33 366.44 89 366.47 C89.67 366.5 90.33 366.53 91 366.54 C91.67 366.55 92.33 366.54 93 366.53 C93.67 366.52 94.33 366.51 95 366.46 C95.67 366.42 96.33 366.32 97 366.27 C97.67 366.22 98.33 366.14 99 366.16 C99.67 366.17 100.33 366.24 101 366.36 C101.67 366.48 102.33 366.69 103 366.88 C103.67 367.07 104.33 367.3 105 367.48 C105.67 367.66 106.33 367.82 107 367.95 C107.67 368.09 108.33 368.18 109 368.28 C109.67 368.38 110.33 368.44 111 368.53 C111.67 368.61 112.67 368.74 113 368.79" fill="none" stroke="#6a6ac8" stroke-width="0.6" />
<path d="M29.5 364.6 C34.92 364.67 51.42 364.65 62 365 C72.58 365.35 84.88 366.12 93 366.7 C101.12 367.28 105.37 367.9 110.7 368.5 C116.03 369.1 120.27 369.67 125 370.3 C129.73 370.93 136.75 371.97 139.1 372.3" fill="none" stroke="#4a4ab8" stroke-width="0.9" />
<path d="M29.5 364.6 C31.25 364.55 37.08 364.52 40 364.3 C42.92 364.08 45.17 363.52 47 363.3 C48.83 363.08 49.67 362.97 51 363 C52.33 363.03 53.17 363.25 55 363.5 C56.83 363.75 59.83 364.37 62 364.5 C64.17 364.63 66.5 364.63 68 364.3 C69.5 363.97 70.08 363.3 71 362.5 C71.92 361.7 72.62 360.33 73.5 359.5 C74.38 358.67 75.38 357.5 76.3 357.5 C77.22 357.5 78.13 358.67 79 359.5 C79.87 360.33 80.75 362.03 81.5 362.5 C82.25 362.97 82.75 362.63 83.5 362.3 C84.25 361.97 85.25 360.63 86 360.5 C86.75 360.37 87.33 360.83 88 361.5 C88.67 362.17 89.17 363.67 90 364.5 C90.83 365.33 91.33 366 93 366.5 C94.67 367 97.67 367.2 100 367.5 C102.33 367.8 105.22 368.3 107 368.3 C108.78 368.3 109.7 368.38 110.7 367.5 C111.7 366.62 112.2 364.75 113 363 C113.8 361.25 114.7 358.45 115.5 357 C116.3 355.55 117.05 354.3 117.8 354.3 C118.55 354.3 119.3 355.72 120 357 C120.7 358.28 121.37 360.75 122 362 C122.63 363.25 123.22 364.33 123.8 364.5 C124.38 364.67 124.97 363.62 125.5 363 C126.03 362.38 126.45 361.28 127 360.8 C127.55 360.32 128.22 359.9 128.8 360.1 C129.38 360.3 129.88 360.77 130.5 362 C131.12 363.23 131.83 366 132.5 367.5 C133.17 369 133.92 370.22 134.5 371 C135.08 371.78 135.23 371.98 136 372.2 C136.77 372.42 138.58 372.28 139.1 372.3" fill="none" stroke="#8a6a58" stroke-width="1" />
<text x="30.2" y="369.1" font-family="'Liberation Sans', sans-serif" font-size="4.6" fill="#222" textLength="29.4" lengthAdjust="spacingAndGlyphs">600°C-annealed</text>
<path d="M67.72 384.3 C67.94 384.31 68.6 384.35 69.04 384.33 C69.48 384.3 69.92 384.31 70.36 384.16 C70.8 384.02 71.24 383.86 71.68 383.47 C72.12 383.09 72.56 382.52 73 381.84 C73.44 381.17 73.88 380.16 74.32 379.44 C74.76 378.73 75.2 377.85 75.64 377.54 C76.08 377.24 76.52 377.26 76.96 377.61 C77.4 377.97 77.84 378.89 78.28 379.66 C78.72 380.43 79.16 381.49 79.6 382.21 C80.04 382.93 80.48 383.55 80.92 383.98 C81.36 384.42 81.8 384.63 82.24 384.82 C82.68 385.01 83.12 385.05 83.56 385.12 C84 385.19 84.66 385.23 84.88 385.25" fill="none" stroke="#a07060" stroke-width="0.6" />
<path d="M80.06 384.98 C80.22 384.99 80.7 385.02 81.02 385 C81.34 384.98 81.66 384.98 81.98 384.88 C82.3 384.78 82.62 384.66 82.94 384.37 C83.26 384.09 83.58 383.67 83.9 383.18 C84.22 382.68 84.54 381.94 84.86 381.42 C85.18 380.89 85.5 380.25 85.82 380.02 C86.14 379.8 86.46 379.82 86.78 380.07 C87.1 380.33 87.42 381.01 87.74 381.57 C88.06 382.14 88.38 382.91 88.7 383.44 C89.02 383.97 89.34 384.42 89.66 384.74 C89.98 385.06 90.3 385.21 90.62 385.35 C90.94 385.49 91.26 385.53 91.58 385.58 C91.9 385.63 92.38 385.65 92.54 385.67" fill="none" stroke="#b08a7a" stroke-width="0.6" />
<path d="M109.22 387.33 C109.44 387.34 110.1 387.41 110.54 387.38 C110.98 387.34 111.42 387.36 111.86 387.12 C112.3 386.87 112.74 386.59 113.18 385.91 C113.62 385.23 114.06 384.21 114.5 383.01 C114.94 381.81 115.38 380 115.82 378.73 C116.26 377.45 116.7 375.88 117.14 375.34 C117.58 374.8 118.02 374.86 118.46 375.51 C118.9 376.15 119.34 377.83 119.78 379.22 C120.22 380.61 120.66 382.53 121.1 383.84 C121.54 385.15 121.98 386.28 122.42 387.07 C122.86 387.87 123.3 388.26 123.74 388.61 C124.18 388.97 124.62 389.06 125.06 389.2 C125.5 389.35 126.16 389.43 126.38 389.48" fill="none" stroke="#a07060" stroke-width="0.6" />
<path d="M122.3 388.95 C122.47 388.96 122.97 389.03 123.3 389 C123.63 388.98 123.97 388.99 124.3 388.8 C124.63 388.61 124.97 388.39 125.3 387.86 C125.63 387.33 125.97 386.55 126.3 385.62 C126.63 384.69 126.97 383.29 127.3 382.3 C127.63 381.31 127.97 380.09 128.3 379.68 C128.63 379.27 128.97 379.31 129.3 379.82 C129.63 380.33 129.97 381.64 130.3 382.73 C130.63 383.81 130.97 385.31 131.3 386.33 C131.63 387.35 131.97 388.23 132.3 388.86 C132.63 389.48 132.97 389.79 133.3 390.07 C133.63 390.35 133.97 390.42 134.3 390.54 C134.63 390.65 135.13 390.71 135.3 390.75" fill="none" stroke="#b08a7a" stroke-width="0.6" />
<path d="M79.32 384.95 C79.44 384.95 79.8 384.97 80.04 384.97 C80.28 384.96 80.52 384.96 80.76 384.91 C81 384.86 81.24 384.8 81.48 384.65 C81.72 384.49 81.96 384.27 82.2 384 C82.44 383.74 82.68 383.34 82.92 383.05 C83.16 382.77 83.4 382.42 83.64 382.3 C83.88 382.19 84.12 382.2 84.36 382.34 C84.6 382.49 84.84 382.86 85.08 383.17 C85.32 383.48 85.56 383.91 85.8 384.2 C86.04 384.49 86.28 384.74 86.52 384.92 C86.76 385.1 87 385.19 87.24 385.27 C87.48 385.35 87.72 385.37 87.96 385.4 C88.2 385.43 88.56 385.45 88.68 385.46" fill="none" stroke="#d090b0" stroke-width="0.6" />
<path d="M116.82 388.27 C116.94 388.28 117.3 388.32 117.54 388.33 C117.78 388.33 118.02 388.35 118.26 388.29 C118.5 388.24 118.74 388.17 118.98 387.98 C119.22 387.79 119.46 387.5 119.7 387.16 C119.94 386.82 120.18 386.3 120.42 385.93 C120.66 385.57 120.9 385.12 121.14 384.97 C121.38 384.83 121.62 384.86 121.86 385.06 C122.1 385.27 122.34 385.78 122.58 386.2 C122.82 386.63 123.06 387.21 123.3 387.61 C123.54 388.02 123.78 388.36 124.02 388.61 C124.26 388.86 124.5 388.99 124.74 389.11 C124.98 389.23 125.22 389.27 125.46 389.33 C125.7 389.39 126.06 389.44 126.18 389.46" fill="none" stroke="#9a70c0" stroke-width="0.6" />
<path d="M120.32 388.71 C120.44 388.71 120.8 388.76 121.04 388.76 C121.28 388.76 121.52 388.78 121.76 388.7 C122 388.62 122.24 388.52 122.48 388.28 C122.72 388.03 122.96 387.67 123.2 387.23 C123.44 386.8 123.68 386.14 123.92 385.68 C124.16 385.21 124.4 384.64 124.64 384.45 C124.88 384.26 125.12 384.29 125.36 384.55 C125.6 384.8 125.84 385.44 126.08 385.96 C126.32 386.49 126.56 387.22 126.8 387.72 C127.04 388.21 127.28 388.65 127.52 388.95 C127.76 389.26 128 389.42 128.24 389.56 C128.48 389.71 128.72 389.76 128.96 389.82 C129.2 389.89 129.56 389.94 129.68 389.96" fill="none" stroke="#d090b0" stroke-width="0.6" />
<path d="M37 383.69 C37.33 383.69 38.33 383.71 39 383.7 C39.67 383.7 40.33 383.71 41 383.68 C41.67 383.65 42.33 383.62 43 383.54 C43.67 383.46 44.33 383.34 45 383.2 C45.67 383.06 46.33 382.85 47 382.7 C47.67 382.55 48.33 382.36 49 382.3 C49.67 382.24 50.33 382.25 51 382.33 C51.67 382.41 52.33 382.61 53 382.77 C53.67 382.94 54.33 383.17 55 383.33 C55.67 383.48 56.33 383.62 57 383.71 C57.67 383.81 58.33 383.86 59 383.9 C59.67 383.94 60.33 383.95 61 383.98 C61.67 384 62.67 384.04 63 384.05" fill="none" stroke="#6a6ac8" stroke-width="0.6" />
<path d="M87 385.37 C87.33 385.39 88.33 385.44 89 385.47 C89.67 385.5 90.33 385.53 91 385.54 C91.67 385.55 92.33 385.54 93 385.53 C93.67 385.52 94.33 385.51 95 385.46 C95.67 385.42 96.33 385.32 97 385.27 C97.67 385.22 98.33 385.14 99 385.16 C99.67 385.17 100.33 385.24 101 385.36 C101.67 385.48 102.33 385.69 103 385.88 C103.67 386.07 104.33 386.3 105 386.48 C105.67 386.66 106.33 386.82 107 386.95 C107.67 387.09 108.33 387.18 109 387.28 C109.67 387.38 110.33 387.44 111 387.53 C111.67 387.61 112.67 387.74 113 387.79" fill="none" stroke="#6a6ac8" stroke-width="0.6" />
<path d="M29.5 383.6 C34.92 383.67 51.42 383.65 62 384 C72.58 384.35 84.88 385.12 93 385.7 C101.12 386.28 105.37 386.9 110.7 387.5 C116.03 388.1 120.27 388.67 125 389.3 C129.73 389.93 136.75 390.97 139.1 391.3" fill="none" stroke="#4a4ab8" stroke-width="0.9" />
<path d="M29.5 383.6 C31.25 383.55 37.08 383.52 40 383.3 C42.92 383.08 45.17 382.52 47 382.3 C48.83 382.08 49.67 381.97 51 382 C52.33 382.03 53.17 382.25 55 382.5 C56.83 382.75 59.83 383.37 62 383.5 C64.17 383.63 66.5 383.63 68 383.3 C69.5 382.97 70.08 382.3 71 381.5 C71.92 380.7 72.62 379.33 73.5 378.5 C74.38 377.67 75.38 376.5 76.3 376.5 C77.22 376.5 78.13 377.67 79 378.5 C79.87 379.33 80.75 381.03 81.5 381.5 C82.25 381.97 82.75 381.63 83.5 381.3 C84.25 380.97 85.25 379.63 86 379.5 C86.75 379.37 87.33 379.83 88 380.5 C88.67 381.17 89.17 382.67 90 383.5 C90.83 384.33 91.33 385 93 385.5 C94.67 386 97.67 386.2 100 386.5 C102.33 386.8 105.22 387.3 107 387.3 C108.78 387.3 109.7 387.38 110.7 386.5 C111.7 385.62 112.2 383.75 113 382 C113.8 380.25 114.7 377.45 115.5 376 C116.3 374.55 117.05 373.3 117.8 373.3 C118.55 373.3 119.3 374.72 120 376 C120.7 377.28 121.37 379.75 122 381 C122.63 382.25 123.22 383.33 123.8 383.5 C124.38 383.67 124.97 382.62 125.5 382 C126.03 381.38 126.45 380.28 127 379.8 C127.55 379.32 128.22 378.9 128.8 379.1 C129.38 379.3 129.88 379.77 130.5 381 C131.12 382.23 131.83 385 132.5 386.5 C133.17 388 133.92 389.22 134.5 390 C135.08 390.78 135.23 390.98 136 391.2 C136.77 391.42 138.58 391.28 139.1 391.3" fill="none" stroke="#8a6a58" stroke-width="1" />
<text x="30.2" y="388.1" font-family="'Liberation Sans', sans-serif" font-size="4.6" fill="#222" textLength="29.4" lengthAdjust="spacingAndGlyphs">500°C-annealed</text>
<path d="M67.72 403.7 C67.94 403.71 68.6 403.75 69.04 403.73 C69.48 403.7 69.92 403.71 70.36 403.56 C70.8 403.42 71.24 403.26 71.68 402.87 C72.12 402.49 72.56 401.92 73 401.24 C73.44 400.57 73.88 399.56 74.32 398.84 C74.76 398.13 75.2 397.25 75.64 396.94 C76.08 396.64 76.52 396.66 76.96 397.01 C77.4 397.37 77.84 398.29 78.28 399.06 C78.72 399.83 79.16 400.89 79.6 401.61 C80.04 402.33 80.48 402.95 80.92 403.38 C81.36 403.82 81.8 404.03 82.24 404.22 C82.68 404.41 83.12 404.45 83.56 404.52 C84 404.59 84.66 404.63 84.88 404.65" fill="none" stroke="#a07060" stroke-width="0.6" />
<path d="M80.06 404.38 C80.22 404.39 80.7 404.42 81.02 404.4 C81.34 404.38 81.66 404.38 81.98 404.28 C82.3 404.18 82.62 404.06 82.94 403.77 C83.26 403.49 83.58 403.07 83.9 402.58 C84.22 402.08 84.54 401.34 84.86 400.82 C85.18 400.29 85.5 399.65 85.82 399.42 C86.14 399.2 86.46 399.22 86.78 399.47 C87.1 399.73 87.42 400.41 87.74 400.97 C88.06 401.54 88.38 402.31 88.7 402.84 C89.02 403.37 89.34 403.82 89.66 404.14 C89.98 404.46 90.3 404.61 90.62 404.75 C90.94 404.89 91.26 404.93 91.58 404.98 C91.9 405.03 92.38 405.05 92.54 405.07" fill="none" stroke="#b08a7a" stroke-width="0.6" />
<path d="M109.22 406.73 C109.44 406.74 110.1 406.81 110.54 406.78 C110.98 406.74 111.42 406.76 111.86 406.52 C112.3 406.27 112.74 405.99 113.18 405.31 C113.62 404.63 114.06 403.61 114.5 402.41 C114.94 401.21 115.38 399.4 115.82 398.13 C116.26 396.85 116.7 395.28 117.14 394.74 C117.58 394.2 118.02 394.26 118.46 394.91 C118.9 395.55 119.34 397.23 119.78 398.62 C120.22 400.01 120.66 401.93 121.1 403.24 C121.54 404.55 121.98 405.68 122.42 406.47 C122.86 407.27 123.3 407.66 123.74 408.01 C124.18 408.37 124.62 408.46 125.06 408.6 C125.5 408.75 126.16 408.83 126.38 408.88" fill="none" stroke="#a07060" stroke-width="0.6" />
<path d="M122.3 408.35 C122.47 408.36 122.97 408.43 123.3 408.4 C123.63 408.38 123.97 408.39 124.3 408.2 C124.63 408.01 124.97 407.79 125.3 407.26 C125.63 406.73 125.97 405.95 126.3 405.02 C126.63 404.09 126.97 402.69 127.3 401.7 C127.63 400.71 127.97 399.49 128.3 399.08 C128.63 398.67 128.97 398.71 129.3 399.22 C129.63 399.73 129.97 401.04 130.3 402.13 C130.63 403.21 130.97 404.71 131.3 405.73 C131.63 406.75 131.97 407.63 132.3 408.26 C132.63 408.88 132.97 409.19 133.3 409.47 C133.63 409.75 133.97 409.82 134.3 409.94 C134.63 410.05 135.13 410.11 135.3 410.15" fill="none" stroke="#b08a7a" stroke-width="0.6" />
<path d="M79.32 404.35 C79.44 404.35 79.8 404.37 80.04 404.37 C80.28 404.36 80.52 404.36 80.76 404.31 C81 404.26 81.24 404.2 81.48 404.05 C81.72 403.89 81.96 403.67 82.2 403.4 C82.44 403.14 82.68 402.74 82.92 402.45 C83.16 402.17 83.4 401.82 83.64 401.7 C83.88 401.59 84.12 401.6 84.36 401.74 C84.6 401.89 84.84 402.26 85.08 402.57 C85.32 402.88 85.56 403.31 85.8 403.6 C86.04 403.89 86.28 404.14 86.52 404.32 C86.76 404.5 87 404.59 87.24 404.67 C87.48 404.75 87.72 404.77 87.96 404.8 C88.2 404.83 88.56 404.85 88.68 404.86" fill="none" stroke="#d090b0" stroke-width="0.6" />
<path d="M116.82 407.67 C116.94 407.68 117.3 407.72 117.54 407.73 C117.78 407.73 118.02 407.75 118.26 407.69 C118.5 407.64 118.74 407.57 118.98 407.38 C119.22 407.19 119.46 406.9 119.7 406.56 C119.94 406.22 120.18 405.7 120.42 405.33 C120.66 404.97 120.9 404.52 121.14 404.37 C121.38 404.23 121.62 404.26 121.86 404.46 C122.1 404.67 122.34 405.18 122.58 405.6 C122.82 406.03 123.06 406.61 123.3 407.01 C123.54 407.42 123.78 407.76 124.02 408.01 C124.26 408.26 124.5 408.39 124.74 408.51 C124.98 408.63 125.22 408.67 125.46 408.73 C125.7 408.79 126.06 408.84 126.18 408.86" fill="none" stroke="#9a70c0" stroke-width="0.6" />
<path d="M120.32 408.11 C120.44 408.11 120.8 408.16 121.04 408.16 C121.28 408.16 121.52 408.18 121.76 408.1 C122 408.02 122.24 407.92 122.48 407.68 C122.72 407.43 122.96 407.07 123.2 406.63 C123.44 406.2 123.68 405.54 123.92 405.08 C124.16 404.61 124.4 404.04 124.64 403.85 C124.88 403.66 125.12 403.69 125.36 403.95 C125.6 404.2 125.84 404.84 126.08 405.36 C126.32 405.89 126.56 406.62 126.8 407.12 C127.04 407.61 127.28 408.05 127.52 408.35 C127.76 408.66 128 408.82 128.24 408.96 C128.48 409.11 128.72 409.16 128.96 409.22 C129.2 409.29 129.56 409.34 129.68 409.36" fill="none" stroke="#d090b0" stroke-width="0.6" />
<path d="M37 403.09 C37.33 403.09 38.33 403.11 39 403.1 C39.67 403.1 40.33 403.11 41 403.08 C41.67 403.05 42.33 403.02 43 402.94 C43.67 402.86 44.33 402.74 45 402.6 C45.67 402.46 46.33 402.25 47 402.1 C47.67 401.95 48.33 401.76 49 401.7 C49.67 401.64 50.33 401.65 51 401.73 C51.67 401.81 52.33 402.01 53 402.17 C53.67 402.34 54.33 402.57 55 402.73 C55.67 402.88 56.33 403.02 57 403.11 C57.67 403.21 58.33 403.26 59 403.3 C59.67 403.34 60.33 403.35 61 403.38 C61.67 403.4 62.67 403.44 63 403.45" fill="none" stroke="#6a6ac8" stroke-width="0.6" />
<path d="M87 404.77 C87.33 404.79 88.33 404.84 89 404.87 C89.67 404.9 90.33 404.93 91 404.94 C91.67 404.95 92.33 404.94 93 404.93 C93.67 404.92 94.33 404.91 95 404.86 C95.67 404.82 96.33 404.72 97 404.67 C97.67 404.62 98.33 404.54 99 404.56 C99.67 404.57 100.33 404.64 101 404.76 C101.67 404.88 102.33 405.09 103 405.28 C103.67 405.47 104.33 405.7 105 405.88 C105.67 406.06 106.33 406.22 107 406.35 C107.67 406.49 108.33 406.58 109 406.68 C109.67 406.78 110.33 406.84 111 406.93 C111.67 407.01 112.67 407.14 113 407.19" fill="none" stroke="#6a6ac8" stroke-width="0.6" />
<path d="M29.5 403 C34.92 403.07 51.42 403.05 62 403.4 C72.58 403.75 84.88 404.52 93 405.1 C101.12 405.68 105.37 406.3 110.7 406.9 C116.03 407.5 120.27 408.07 125 408.7 C129.73 409.33 136.75 410.37 139.1 410.7" fill="none" stroke="#4a4ab8" stroke-width="0.9" />
<path d="M29.5 403 C31.25 402.95 37.08 402.92 40 402.7 C42.92 402.48 45.17 401.92 47 401.7 C48.83 401.48 49.67 401.37 51 401.4 C52.33 401.43 53.17 401.65 55 401.9 C56.83 402.15 59.83 402.77 62 402.9 C64.17 403.03 66.5 403.03 68 402.7 C69.5 402.37 70.08 401.7 71 400.9 C71.92 400.1 72.62 398.73 73.5 397.9 C74.38 397.07 75.38 395.9 76.3 395.9 C77.22 395.9 78.13 397.07 79 397.9 C79.87 398.73 80.75 400.43 81.5 400.9 C82.25 401.37 82.75 401.03 83.5 400.7 C84.25 400.37 85.25 399.03 86 398.9 C86.75 398.77 87.33 399.23 88 399.9 C88.67 400.57 89.17 402.07 90 402.9 C90.83 403.73 91.33 404.4 93 404.9 C94.67 405.4 97.67 405.6 100 405.9 C102.33 406.2 105.22 406.7 107 406.7 C108.78 406.7 109.7 406.78 110.7 405.9 C111.7 405.02 112.2 403.15 113 401.4 C113.8 399.65 114.7 396.85 115.5 395.4 C116.3 393.95 117.05 392.7 117.8 392.7 C118.55 392.7 119.3 394.12 120 395.4 C120.7 396.68 121.37 399.15 122 400.4 C122.63 401.65 123.22 402.73 123.8 402.9 C124.38 403.07 124.97 402.02 125.5 401.4 C126.03 400.78 126.45 399.68 127 399.2 C127.55 398.72 128.22 398.3 128.8 398.5 C129.38 398.7 129.88 399.17 130.5 400.4 C131.12 401.63 131.83 404.4 132.5 405.9 C133.17 407.4 133.92 408.62 134.5 409.4 C135.08 410.18 135.23 410.38 136 410.6 C136.77 410.82 138.58 410.68 139.1 410.7" fill="none" stroke="#8a6a58" stroke-width="1" />
<text x="30.2" y="407.2" font-family="'Liberation Sans', sans-serif" font-size="4.6" fill="#222" textLength="29.4" lengthAdjust="spacingAndGlyphs">400°C-annealed</text>
<path d="M67.72 423 C67.94 423.01 68.6 423.05 69.04 423.03 C69.48 423 69.92 423.01 70.36 422.86 C70.8 422.72 71.24 422.56 71.68 422.17 C72.12 421.79 72.56 421.22 73 420.54 C73.44 419.87 73.88 418.86 74.32 418.14 C74.76 417.43 75.2 416.55 75.64 416.24 C76.08 415.94 76.52 415.96 76.96 416.31 C77.4 416.67 77.84 417.59 78.28 418.36 C78.72 419.13 79.16 420.19 79.6 420.91 C80.04 421.63 80.48 422.25 80.92 422.68 C81.36 423.12 81.8 423.33 82.24 423.52 C82.68 423.71 83.12 423.75 83.56 423.82 C84 423.89 84.66 423.93 84.88 423.95" fill="none" stroke="#a07060" stroke-width="0.6" />
<path d="M80.06 423.68 C80.22 423.69 80.7 423.72 81.02 423.7 C81.34 423.68 81.66 423.68 81.98 423.58 C82.3 423.48 82.62 423.36 82.94 423.07 C83.26 422.79 83.58 422.37 83.9 421.88 C84.22 421.38 84.54 420.64 84.86 420.12 C85.18 419.59 85.5 418.95 85.82 418.72 C86.14 418.5 86.46 418.52 86.78 418.77 C87.1 419.03 87.42 419.71 87.74 420.27 C88.06 420.84 88.38 421.61 88.7 422.14 C89.02 422.67 89.34 423.12 89.66 423.44 C89.98 423.76 90.3 423.91 90.62 424.05 C90.94 424.19 91.26 424.23 91.58 424.28 C91.9 424.33 92.38 424.35 92.54 424.37" fill="none" stroke="#b08a7a" stroke-width="0.6" />
<path d="M109.22 426.03 C109.44 426.04 110.1 426.11 110.54 426.08 C110.98 426.04 111.42 426.06 111.86 425.82 C112.3 425.57 112.74 425.29 113.18 424.61 C113.62 423.93 114.06 422.91 114.5 421.71 C114.94 420.51 115.38 418.7 115.82 417.43 C116.26 416.15 116.7 414.58 117.14 414.04 C117.58 413.5 118.02 413.56 118.46 414.21 C118.9 414.85 119.34 416.53 119.78 417.92 C120.22 419.31 120.66 421.23 121.1 422.54 C121.54 423.85 121.98 424.98 122.42 425.77 C122.86 426.57 123.3 426.96 123.74 427.31 C124.18 427.67 124.62 427.76 125.06 427.9 C125.5 428.05 126.16 428.13 126.38 428.18" fill="none" stroke="#a07060" stroke-width="0.6" />
<path d="M122.3 427.65 C122.47 427.66 122.97 427.73 123.3 427.7 C123.63 427.68 123.97 427.69 124.3 427.5 C124.63 427.31 124.97 427.09 125.3 426.56 C125.63 426.03 125.97 425.25 126.3 424.32 C126.63 423.39 126.97 421.99 127.3 421 C127.63 420.01 127.97 418.79 128.3 418.38 C128.63 417.97 128.97 418.01 129.3 418.52 C129.63 419.03 129.97 420.34 130.3 421.43 C130.63 422.51 130.97 424.01 131.3 425.03 C131.63 426.05 131.97 426.93 132.3 427.56 C132.63 428.18 132.97 428.49 133.3 428.77 C133.63 429.05 133.97 429.12 134.3 429.24 C134.63 429.35 135.13 429.41 135.3 429.45" fill="none" stroke="#b08a7a" stroke-width="0.6" />
<path d="M79.32 423.65 C79.44 423.65 79.8 423.67 80.04 423.67 C80.28 423.66 80.52 423.66 80.76 423.61 C81 423.56 81.24 423.5 81.48 423.35 C81.72 423.19 81.96 422.97 82.2 422.7 C82.44 422.44 82.68 422.04 82.92 421.75 C83.16 421.47 83.4 421.12 83.64 421 C83.88 420.89 84.12 420.9 84.36 421.04 C84.6 421.19 84.84 421.56 85.08 421.87 C85.32 422.18 85.56 422.61 85.8 422.9 C86.04 423.19 86.28 423.44 86.52 423.62 C86.76 423.8 87 423.89 87.24 423.97 C87.48 424.05 87.72 424.07 87.96 424.1 C88.2 424.13 88.56 424.15 88.68 424.16" fill="none" stroke="#d090b0" stroke-width="0.6" />
<path d="M116.82 426.97 C116.94 426.98 117.3 427.02 117.54 427.03 C117.78 427.03 118.02 427.05 118.26 426.99 C118.5 426.94 118.74 426.87 118.98 426.68 C119.22 426.49 119.46 426.2 119.7 425.86 C119.94 425.52 120.18 425 120.42 424.63 C120.66 424.27 120.9 423.82 121.14 423.67 C121.38 423.53 121.62 423.56 121.86 423.76 C122.1 423.97 122.34 424.48 122.58 424.9 C122.82 425.33 123.06 425.91 123.3 426.31 C123.54 426.72 123.78 427.06 124.02 427.31 C124.26 427.56 124.5 427.69 124.74 427.81 C124.98 427.93 125.22 427.97 125.46 428.03 C125.7 428.09 126.06 428.14 126.18 428.16" fill="none" stroke="#9a70c0" stroke-width="0.6" />
<path d="M120.32 427.41 C120.44 427.41 120.8 427.46 121.04 427.46 C121.28 427.46 121.52 427.48 121.76 427.4 C122 427.32 122.24 427.22 122.48 426.98 C122.72 426.73 122.96 426.37 123.2 425.93 C123.44 425.5 123.68 424.84 123.92 424.38 C124.16 423.91 124.4 423.34 124.64 423.15 C124.88 422.96 125.12 422.99 125.36 423.25 C125.6 423.5 125.84 424.14 126.08 424.66 C126.32 425.19 126.56 425.92 126.8 426.42 C127.04 426.91 127.28 427.35 127.52 427.65 C127.76 427.96 128 428.12 128.24 428.26 C128.48 428.41 128.72 428.46 128.96 428.52 C129.2 428.59 129.56 428.64 129.68 428.66" fill="none" stroke="#d090b0" stroke-width="0.6" />
<path d="M37 422.39 C37.33 422.39 38.33 422.41 39 422.4 C39.67 422.4 40.33 422.41 41 422.38 C41.67 422.35 42.33 422.32 43 422.24 C43.67 422.16 44.33 422.04 45 421.9 C45.67 421.76 46.33 421.55 47 421.4 C47.67 421.25 48.33 421.06 49 421 C49.67 420.94 50.33 420.95 51 421.03 C51.67 421.11 52.33 421.31 53 421.47 C53.67 421.64 54.33 421.87 55 422.03 C55.67 422.18 56.33 422.32 57 422.41 C57.67 422.51 58.33 422.56 59 422.6 C59.67 422.64 60.33 422.65 61 422.68 C61.67 422.7 62.67 422.74 63 422.75" fill="none" stroke="#6a6ac8" stroke-width="0.6" />
<path d="M87 424.07 C87.33 424.09 88.33 424.14 89 424.17 C89.67 424.2 90.33 424.23 91 424.24 C91.67 424.25 92.33 424.24 93 424.23 C93.67 424.22 94.33 424.21 95 424.16 C95.67 424.12 96.33 424.02 97 423.97 C97.67 423.92 98.33 423.84 99 423.86 C99.67 423.87 100.33 423.94 101 424.06 C101.67 424.18 102.33 424.39 103 424.58 C103.67 424.77 104.33 425 105 425.18 C105.67 425.36 106.33 425.52 107 425.65 C107.67 425.79 108.33 425.88 109 425.98 C109.67 426.08 110.33 426.14 111 426.23 C111.67 426.31 112.67 426.44 113 426.49" fill="none" stroke="#6a6ac8" stroke-width="0.6" />
<path d="M29.5 422.3 C34.92 422.37 51.42 422.35 62 422.7 C72.58 423.05 84.88 423.82 93 424.4 C101.12 424.98 105.37 425.6 110.7 426.2 C116.03 426.8 120.27 427.37 125 428 C129.73 428.63 136.75 429.67 139.1 430" fill="none" stroke="#4a4ab8" stroke-width="0.9" />
<path d="M29.5 422.3 C31.25 422.25 37.08 422.22 40 422 C42.92 421.78 45.17 421.22 47 421 C48.83 420.78 49.67 420.67 51 420.7 C52.33 420.73 53.17 420.95 55 421.2 C56.83 421.45 59.83 422.07 62 422.2 C64.17 422.33 66.5 422.33 68 422 C69.5 421.67 70.08 421 71 420.2 C71.92 419.4 72.62 418.03 73.5 417.2 C74.38 416.37 75.38 415.2 76.3 415.2 C77.22 415.2 78.13 416.37 79 417.2 C79.87 418.03 80.75 419.73 81.5 420.2 C82.25 420.67 82.75 420.33 83.5 420 C84.25 419.67 85.25 418.33 86 418.2 C86.75 418.07 87.33 418.53 88 419.2 C88.67 419.87 89.17 421.37 90 422.2 C90.83 423.03 91.33 423.7 93 424.2 C94.67 424.7 97.67 424.9 100 425.2 C102.33 425.5 105.22 426 107 426 C108.78 426 109.7 426.08 110.7 425.2 C111.7 424.32 112.2 422.45 113 420.7 C113.8 418.95 114.7 416.15 115.5 414.7 C116.3 413.25 117.05 412 117.8 412 C118.55 412 119.3 413.42 120 414.7 C120.7 415.98 121.37 418.45 122 419.7 C122.63 420.95 123.22 422.03 123.8 422.2 C124.38 422.37 124.97 421.32 125.5 420.7 C126.03 420.08 126.45 418.98 127 418.5 C127.55 418.02 128.22 417.6 128.8 417.8 C129.38 418 129.88 418.47 130.5 419.7 C131.12 420.93 131.83 423.7 132.5 425.2 C133.17 426.7 133.92 427.92 134.5 428.7 C135.08 429.48 135.23 429.68 136 429.9 C136.77 430.12 138.58 429.98 139.1 430" fill="none" stroke="#8a6a58" stroke-width="1" />
<text x="30.8" y="426" font-family="'Liberation Sans', sans-serif" font-size="4.6" fill="#222" textLength="25.1" lengthAdjust="spacingAndGlyphs">Non-annealed</text>
<text x="42" y="361.5" font-family="'Liberation Sans', sans-serif" font-size="2.6" fill="#5a5ab8">M5 3d(₁)</text>
<text x="70" y="353.5" font-family="'Liberation Sans', sans-serif" font-size="2.6" fill="#a05a5a">M5 3d(₁)</text>
<text x="83" y="355.5" font-family="'Liberation Sans', sans-serif" font-size="2.6" fill="#a05a5a">M4 3d(₁)</text>
<text x="93" y="361" font-family="'Liberation Sans', sans-serif" font-size="2.6" fill="#5a5ab8">M7 3d(₁)</text>
<text x="112" y="351.3" font-family="'Liberation Sans', sans-serif" font-size="2.6" fill="#a05a5a">M5 3d(₁)</text>
<text x="127" y="354.5" font-family="'Liberation Sans', sans-serif" font-size="2.6" fill="#a05a5a">M7 3d(₁)</text>
<text x="63" y="368.5" font-family="'Liberation Sans', sans-serif" font-size="2.6" fill="#5a5ab8">M1 3d(₁)</text>
<text x="80" y="366.5" font-family="'Liberation Sans', sans-serif" font-size="2.6" fill="#5a5ab8">M4 3d(₁)</text>
<text x="107" y="370" font-family="'Liberation Sans', sans-serif" font-size="2.6" fill="#5a5ab8">M3 3d(₁)</text>
<text x="123" y="368" font-family="'Liberation Sans', sans-serif" font-size="2.6" fill="#5a5ab8">M1 3d</text>
<text x="154.3" y="351.4" font-family="'Liberation Serif', serif" font-size="13" font-weight="bold" textLength="11.2" lengthAdjust="spacingAndGlyphs">(i)</text>
<rect x="186" y="357" width="97" height="40" fill="#fce8f2" opacity="0.45"/>
<rect x="186" y="398" width="95" height="14" fill="#fcecf2" opacity="0.5"/>
<rect x="180.3" y="344" width="110.3" height="87.4" fill="none" stroke="#777" stroke-width="0.9" />
<line x1="180.3" y1="344" x2="182.3" y2="344" stroke="#555" stroke-width="0.7" />
<text x="173.9" y="345.8" font-family="'Liberation Sans', sans-serif" font-size="4.6" fill="#333" text-anchor="end">10</text>
<text x="174" y="343.6" font-family="'Liberation Sans', sans-serif" font-size="3.2" fill="#333">-5</text>
<line x1="180.3" y1="361.48" x2="182.3" y2="361.48" stroke="#555" stroke-width="0.7" />
<text x="173.9" y="363.28" font-family="'Liberation Sans', sans-serif" font-size="4.6" fill="#333" text-anchor="end">10</text>
<text x="174" y="361.08" font-family="'Liberation Sans', sans-serif" font-size="3.2" fill="#333">-6</text>
<line x1="180.3" y1="378.96" x2="182.3" y2="378.96" stroke="#555" stroke-width="0.7" />
<text x="173.9" y="380.76" font-family="'Liberation Sans', sans-serif" font-size="4.6" fill="#333" text-anchor="end">10</text>
<text x="174" y="378.56" font-family="'Liberation Sans', sans-serif" font-size="3.2" fill="#333">-7</text>
<line x1="180.3" y1="396.44" x2="182.3" y2="396.44" stroke="#555" stroke-width="0.7" />
<text x="173.9" y="398.24" font-family="'Liberation Sans', sans-serif" font-size="4.6" fill="#333" text-anchor="end">10</text>
<text x="174" y="396.04" font-family="'Liberation Sans', sans-serif" font-size="3.2" fill="#333">-8</text>
<line x1="180.3" y1="413.92" x2="182.3" y2="413.92" stroke="#555" stroke-width="0.7" />
<text x="173.9" y="415.72" font-family="'Liberation Sans', sans-serif" font-size="4.6" fill="#333" text-anchor="end">10</text>
<text x="174" y="413.52" font-family="'Liberation Sans', sans-serif" font-size="3.2" fill="#333">-9</text>
<line x1="180.3" y1="431.4" x2="182.3" y2="431.4" stroke="#555" stroke-width="0.7" />
<text x="173.9" y="433.2" font-family="'Liberation Sans', sans-serif" font-size="4.6" fill="#333" text-anchor="end">10</text>
<text x="174" y="431" font-family="'Liberation Sans', sans-serif" font-size="3.2" fill="#333">-10</text>
<line x1="185.6" y1="431.4" x2="185.6" y2="429" stroke="#555" stroke-width="0.7" />
<line x1="198.7" y1="431.4" x2="198.7" y2="429.6" stroke="#555" stroke-width="0.7" />
<line x1="211.8" y1="431.4" x2="211.8" y2="429" stroke="#555" stroke-width="0.7" />
<line x1="224.9" y1="431.4" x2="224.9" y2="429.6" stroke="#555" stroke-width="0.7" />
<line x1="238" y1="431.4" x2="238" y2="429" stroke="#555" stroke-width="0.7" />
<line x1="251.1" y1="431.4" x2="251.1" y2="429.6" stroke="#555" stroke-width="0.7" />
<line x1="264.2" y1="431.4" x2="264.2" y2="429" stroke="#555" stroke-width="0.7" />
<line x1="277.3" y1="431.4" x2="277.3" y2="429.6" stroke="#555" stroke-width="0.7" />
<line x1="290.4" y1="431.4" x2="290.4" y2="429" stroke="#555" stroke-width="0.7" />
<text x="185.6" y="438" font-family="'Liberation Sans', sans-serif" font-size="6" fill="#333" text-anchor="middle">0</text>
<text x="211.8" y="438" font-family="'Liberation Sans', sans-serif" font-size="6" fill="#333" text-anchor="middle">500</text>
<text x="238" y="438" font-family="'Liberation Sans', sans-serif" font-size="6" fill="#333" text-anchor="middle">1000</text>
<text x="264.2" y="438" font-family="'Liberation Sans', sans-serif" font-size="6" fill="#333" text-anchor="middle">1500</text>
<text x="290.4" y="438" font-family="'Liberation Sans', sans-serif" font-size="6" fill="#333" text-anchor="middle">2000</text>
<text x="221.7" y="446.6" font-family="'Liberation Sans', sans-serif" font-size="7" fill="#333" textLength="27.5" lengthAdjust="spacingAndGlyphs">Time (sec)</text>
<text x="164" y="395" font-family="'Liberation Sans', sans-serif" font-size="6" fill="#333" text-anchor="middle" textLength="31" lengthAdjust="spacingAndGlyphs" transform="rotate(-90 164 395)">Current (A)</text>
<text x="190.3" y="349" font-family="'Liberation Sans', sans-serif" font-size="4.3" fill="#222" textLength="57.2" lengthAdjust="spacingAndGlyphs">Potentiation: 0.84 ms, 30 times</text>
<text x="190.3" y="354.2" font-family="'Liberation Sans', sans-serif" font-size="4.3" fill="#222" textLength="70" lengthAdjust="spacingAndGlyphs">Read at +1.5 V every 30 s (to 30 min)</text>
<rect x="267.7" y="344.9" width="22.7" height="29.1" fill="#fff" stroke="#999" stroke-width="0.5" />
<line x1="269" y1="348.3" x2="277.5" y2="348.3" stroke="#8a3aa8" stroke-width="0.6" />
<circle cx="273.2" cy="348.3" r="0.9" fill="#8a3aa8" />
<text x="279.2" y="350.2" font-family="'Liberation Sans', sans-serif" font-size="5.3" fill="#222" textLength="9.3" lengthAdjust="spacingAndGlyphs">+7V</text>
<line x1="269" y1="354.3" x2="277.5" y2="354.3" stroke="#1a3a1a" stroke-width="0.6" />
<circle cx="273.2" cy="354.3" r="0.9" fill="#1a3a1a" />
<text x="279.2" y="356.2" font-family="'Liberation Sans', sans-serif" font-size="5.3" fill="#222" textLength="9.3" lengthAdjust="spacingAndGlyphs">+6V</text>
<line x1="269" y1="359.5" x2="277.5" y2="359.5" stroke="#1a1aa0" stroke-width="0.6" />
<circle cx="273.2" cy="359.5" r="0.9" fill="#1a1aa0" />
<text x="279.2" y="361.4" font-family="'Liberation Sans', sans-serif" font-size="5.3" fill="#222" textLength="9.3" lengthAdjust="spacingAndGlyphs">+5V</text>
<line x1="269" y1="365.1" x2="277.5" y2="365.1" stroke="#b06020" stroke-width="0.6" />
<circle cx="273.2" cy="365.1" r="0.9" fill="#b06020" />
<text x="279.2" y="367" font-family="'Liberation Sans', sans-serif" font-size="5.3" fill="#222" textLength="9.3" lengthAdjust="spacingAndGlyphs">+4V</text>
<line x1="269" y1="370.3" x2="277.5" y2="370.3" stroke="#111" stroke-width="0.6" />
<circle cx="273.2" cy="370.3" r="0.9" fill="#111" />
<text x="279.2" y="372.2" font-family="'Liberation Sans', sans-serif" font-size="5.3" fill="#222" textLength="9.3" lengthAdjust="spacingAndGlyphs">+3V</text>
<path d="M185.6 358.8 C185.69 359.51 185.91 362.09 186.12 363.03 C186.34 363.98 186.6 364.12 186.91 364.49 C187.22 364.86 187.52 365.08 187.96 365.25 C188.39 365.42 188.88 365.32 189.53 365.5 C190.19 365.68 190.8 365.99 191.89 366.32 C192.98 366.65 194.51 367.08 196.08 367.46 C197.65 367.84 199.14 368.11 201.32 368.6 C203.5 369.09 206.12 369.75 209.18 370.38 C212.24 371 216.17 371.73 219.66 372.33 C223.15 372.93 226.21 373.43 230.14 374 C234.07 374.57 238.44 375.13 243.24 375.72 C248.04 376.31 252.85 376.89 258.96 377.55 C265.07 378.21 276.43 379.34 279.92 379.7" fill="none" stroke="#8a3aa8" stroke-width="1.5" />
<circle cx="185.4" cy="358" r="0.9" fill="#8a3aa8" />
<circle cx="186.5" cy="360.8" r="0.9" fill="#8a3aa8" />
<path d="M185.6 364.3 C185.69 365.14 185.91 368.22 186.12 369.36 C186.34 370.49 186.6 370.66 186.91 371.1 C187.22 371.54 187.52 371.8 187.96 372 C188.39 372.2 188.88 372.02 189.53 372.3 C190.19 372.58 190.8 373.13 191.89 373.68 C192.98 374.23 194.51 374.95 196.08 375.59 C197.65 376.23 199.14 376.8 201.32 377.5 C203.5 378.2 206.12 378.98 209.18 379.77 C212.24 380.56 216.17 381.49 219.66 382.27 C223.15 383.04 226.21 383.77 230.14 384.4 C234.07 385.03 238.44 385.47 243.24 386.03 C248.04 386.59 252.85 387.13 258.96 387.76 C265.07 388.39 276.43 389.46 279.92 389.8" fill="none" stroke="#1a2a1a" stroke-width="1.5" />
<circle cx="185.4" cy="363.5" r="0.9" fill="#1a2a1a" />
<circle cx="186.5" cy="366.3" r="0.9" fill="#1a2a1a" />
<path d="M185.6 375.4 C185.69 376.16 185.91 378.93 186.12 379.95 C186.34 380.97 186.6 381.12 186.91 381.52 C187.22 381.91 187.52 382.15 187.96 382.33 C188.39 382.51 188.88 382.33 189.53 382.6 C190.19 382.87 190.8 383.43 191.89 383.98 C192.98 384.53 194.51 385.25 196.08 385.89 C197.65 386.53 199.14 387.13 201.32 387.8 C203.5 388.47 206.12 389.19 209.18 389.94 C212.24 390.69 216.17 391.56 219.66 392.29 C223.15 393.02 226.21 393.71 230.14 394.3 C234.07 394.89 238.44 395.29 243.24 395.81 C248.04 396.33 252.85 396.83 258.96 397.41 C265.07 397.99 276.43 398.99 279.92 399.3" fill="none" stroke="#1a1aa0" stroke-width="1.5" />
<circle cx="185.4" cy="374.6" r="0.9" fill="#1a1aa0" />
<circle cx="186.5" cy="377.4" r="0.9" fill="#1a1aa0" />
<path d="M185.6 385.7 C185.69 386.47 185.91 389.28 186.12 390.31 C186.34 391.35 186.6 391.5 186.91 391.9 C187.22 392.3 187.52 392.54 187.96 392.72 C188.39 392.91 188.88 392.76 189.53 393 C190.19 393.24 190.8 393.72 191.89 394.19 C192.98 394.67 194.51 395.3 196.08 395.85 C197.65 396.4 199.14 396.96 201.32 397.5 C203.5 398.04 206.12 398.53 209.18 399.08 C212.24 399.63 216.17 400.28 219.66 400.82 C223.15 401.35 226.21 401.75 230.14 402.3 C234.07 402.85 238.44 403.51 243.24 404.14 C248.04 404.78 252.85 405.39 258.96 406.1 C265.07 406.81 276.43 408.02 279.92 408.4" fill="none" stroke="#b06020" stroke-width="1.5" />
<circle cx="185.4" cy="384.9" r="0.9" fill="#b06020" />
<circle cx="186.5" cy="387.7" r="0.9" fill="#b06020" />
<path d="M185.6 401 C185.69 401.66 185.91 404.09 186.12 404.98 C186.34 405.87 186.6 406.01 186.91 406.35 C187.22 406.7 187.52 406.9 187.96 407.06 C188.39 407.22 188.88 407.08 189.53 407.3 C190.19 407.52 190.8 407.94 191.89 408.36 C192.98 408.78 195.16 409.56 196.08 409.83 C197 410.1 196.95 409.84 197.39 409.97 C197.83 410.1 198.26 410.47 198.7 410.63 C199.14 410.8 199.57 410.84 200.01 410.96 C200.45 411.07 200.77 411.14 201.32 411.3 C201.87 411.46 202.63 411.79 203.28 411.92 C203.94 412.04 204.59 412.06 205.25 412.07 C205.91 412.07 206.56 411.89 207.21 411.95 C207.87 412.01 208.42 412.22 209.18 412.42 C209.94 412.62 210.93 413.11 211.8 413.16 C212.67 413.2 213.55 412.67 214.42 412.69 C215.29 412.71 216.17 413.11 217.04 413.27 C217.91 413.43 218.79 413.5 219.66 413.65 C220.53 413.79 221.41 414.11 222.28 414.14 C223.15 414.18 224.03 413.81 224.9 413.86 C225.77 413.91 226.65 414.29 227.52 414.43 C228.39 414.57 229.16 414.7 230.14 414.7 C231.12 414.7 232.32 414.35 233.41 414.42 C234.51 414.49 235.6 414.97 236.69 415.12 C237.78 415.28 238.87 415.33 239.96 415.35 C241.06 415.37 242.04 415.23 243.24 415.24 C244.44 415.26 245.86 415.35 247.17 415.45 C248.48 415.56 249.79 415.86 251.1 415.87 C252.41 415.88 253.72 415.52 255.03 415.51 C256.34 415.5 257.43 415.71 258.96 415.82 C260.49 415.93 262.45 416.1 264.2 416.17 C265.95 416.24 267.69 416.21 269.44 416.25 C271.19 416.28 272.93 416.36 274.68 416.4 C276.43 416.44 279.05 416.48 279.92 416.5" fill="none" stroke="#111" stroke-width="1.5" />
<circle cx="185.4" cy="400.2" r="0.9" fill="#111" />
<circle cx="186.5" cy="403" r="0.9" fill="#111" />
<line x1="185.2" y1="398" x2="185.2" y2="419" stroke="#e0a0b0" stroke-width="0.5" />
<rect x="184.6" y="415.6" width="1.4" height="5.2" fill="#8a1a2a" />
<text x="188.6" y="420.3" font-family="'Liberation Sans', sans-serif" font-size="4.5" fill="#333" textLength="19.8" lengthAdjust="spacingAndGlyphs">Initial states</text>
<text x="309.4" y="352.6" font-family="'Liberation Serif', serif" font-size="13" font-weight="bold" textLength="12.1" lengthAdjust="spacingAndGlyphs">(j)</text>
<text x="395.5" y="354.5" font-family="'Liberation Sans', sans-serif" font-size="8.5" fill="#222" textLength="9" lengthAdjust="spacingAndGlyphs">±V</text>
<line x1="398.7" y1="356.4" x2="398.7" y2="376.4" stroke="#4a5ac8" stroke-width="1.4" />
<path d="M398.7 376.4 L397.18 373.25 L400.22 373.25 Z" fill="#4a5ac8" />
<text x="420" y="372.7" font-family="'Liberation Sans', sans-serif" font-size="8" fill="#222" textLength="24.5" lengthAdjust="spacingAndGlyphs">Ground</text>
<line x1="425.5" y1="374.5" x2="425.5" y2="394.5" stroke="#4a5ac8" stroke-width="1.4" />
<path d="M425.5 394.5 L423.98 391.35 L427.02 391.35 Z" fill="#4a5ac8" />
<rect x="316.7" y="421.7" width="103.3" height="13.9" fill="#e4eee2" />
<rect x="316.7" y="421" width="103.3" height="2" fill="#c4eeee" />
<line x1="316.7" y1="435.6" x2="420" y2="435.6" stroke="#c8e8a0" stroke-width="1" />
<rect x="316.7" y="408" width="103.3" height="13.7" fill="#3f8b8e" />
<rect x="316.7" y="392.6" width="91.5" height="15.5" fill="#f06a14" />
<path d="M408.2 408 L420.5 395.5 L432.7 395.5 L420 408 Z" fill="#a6d0ea" />
<path d="M408.2 392.7 L420 380.8 L420.5 395.5 L408.2 408 Z" fill="#111" />
<path d="M420 408 L432.7 395.5 L432.7 422.5 L420 435.6 Z" fill="#0e1418" />
<path d="M316.7 392.6 L327.3 379.8 L420 380.8 L408.2 392.7 Z" fill="#ee7c1e" />
<rect x="327.5" y="377.7" width="81" height="13.3" fill="#84c03c" />
<rect x="327.5" y="367" width="81" height="10.5" fill="#f2f8f8" />
<rect x="330.4" y="376.6" width="11.5" height="12.6" fill="url(#gcyl)" />
<ellipse cx="336.15" cy="389.2" rx="5.75" ry="1.8" fill="url(#gcyl)" />
<ellipse cx="336.15" cy="376.6" rx="5.75" ry="1.8" fill="#8aa8c4" />
<text x="336.15" y="387.5" font-family="'Liberation Sans', sans-serif" font-size="10.5" fill="#0a1f40" text-anchor="middle" textLength="10.12" lengthAdjust="spacingAndGlyphs">ITO</text>
<rect x="346.2" y="376.6" width="12" height="12.6" fill="url(#gcyl)" />
<ellipse cx="352.2" cy="389.2" rx="6" ry="1.8" fill="url(#gcyl)" />
<ellipse cx="352.2" cy="376.6" rx="6" ry="1.8" fill="#8aa8c4" />
<text x="352.2" y="387.5" font-family="'Liberation Sans', sans-serif" font-size="10.5" fill="#0a1f40" text-anchor="middle" textLength="10.56" lengthAdjust="spacingAndGlyphs">ITO</text>
<rect x="362.3" y="376.6" width="11.4" height="12.6" fill="url(#gcyl)" />
<ellipse cx="368" cy="389.2" rx="5.7" ry="1.8" fill="url(#gcyl)" />
<ellipse cx="368" cy="376.6" rx="5.7" ry="1.8" fill="#8aa8c4" />
<text x="368" y="387.5" font-family="'Liberation Sans', sans-serif" font-size="10.5" fill="#0a1f40" text-anchor="middle" textLength="10.03" lengthAdjust="spacingAndGlyphs">ITO</text>
<rect x="378.2" y="376.6" width="12.7" height="12.6" fill="url(#gcyl)" />
<ellipse cx="384.55" cy="389.2" rx="6.35" ry="1.8" fill="url(#gcyl)" />
<ellipse cx="384.55" cy="376.6" rx="6.35" ry="1.8" fill="#8aa8c4" />
<text x="384.55" y="387.5" font-family="'Liberation Sans', sans-serif" font-size="10.5" fill="#0a1f40" text-anchor="middle" textLength="11.18" lengthAdjust="spacingAndGlyphs">ITO</text>
<rect x="394.5" y="376.6" width="12.8" height="12.6" fill="url(#gcyl)" />
<ellipse cx="400.9" cy="389.2" rx="6.4" ry="1.8" fill="url(#gcyl)" />
<ellipse cx="400.9" cy="376.6" rx="6.4" ry="1.8" fill="#8aa8c4" />
<text x="400.9" y="387.5" font-family="'Liberation Sans', sans-serif" font-size="10.5" fill="#0a1f40" text-anchor="middle" textLength="11.26" lengthAdjust="spacingAndGlyphs">ITO</text>
<text x="317.5" y="406.4" font-family="'Liberation Sans', sans-serif" font-size="13.8" fill="#5e0a06" textLength="25.1" lengthAdjust="spacingAndGlyphs" stroke="#5e0a06" stroke-width="0.3">CeO<tspan font-size="9" dy="2.8">2</tspan></text>
<text x="320.3" y="419.8" font-family="'Liberation Sans', sans-serif" font-size="13.6" fill="#0a1a30" textLength="14.1" lengthAdjust="spacingAndGlyphs" stroke="#0a1a30" stroke-width="0.3">ITO</text>
<text x="320.3" y="435.6" font-family="'Liberation Sans', sans-serif" font-size="13.6" fill="#111" textLength="22.3" lengthAdjust="spacingAndGlyphs" stroke="#111" stroke-width="0.3">Glass</text>
<text x="7.7" y="455.6" font-family="'Liberation Serif', serif" font-size="13" font-weight="bold" textLength="14.6" lengthAdjust="spacingAndGlyphs">(k)</text>
<rect x="33.8" y="450.5" width="100.7" height="80" fill="none" stroke="#222" stroke-width="1.3" />
<line x1="33.8" y1="450" x2="35.8" y2="450" stroke="#222" stroke-width="0.9" />
<text x="29.2" y="451.8" font-family="'Liberation Sans', sans-serif" font-size="4.6" font-weight="bold" fill="#333" text-anchor="end">10</text>
<text x="29.3" y="449.6" font-family="'Liberation Sans', sans-serif" font-size="3.2" font-weight="bold" fill="#333">-2</text>
<line x1="33.8" y1="463.17" x2="35.8" y2="463.17" stroke="#222" stroke-width="0.9" />
<text x="29.2" y="464.97" font-family="'Liberation Sans', sans-serif" font-size="4.6" font-weight="bold" fill="#333" text-anchor="end">10</text>
<text x="29.3" y="462.77" font-family="'Liberation Sans', sans-serif" font-size="3.2" font-weight="bold" fill="#333">-3</text>
<line x1="33.8" y1="476.34" x2="35.8" y2="476.34" stroke="#222" stroke-width="0.9" />
<text x="29.2" y="478.14" font-family="'Liberation Sans', sans-serif" font-size="4.6" font-weight="bold" fill="#333" text-anchor="end">10</text>
<text x="29.3" y="475.94" font-family="'Liberation Sans', sans-serif" font-size="3.2" font-weight="bold" fill="#333">-4</text>
<line x1="33.8" y1="489.51" x2="35.8" y2="489.51" stroke="#222" stroke-width="0.9" />
<text x="29.2" y="491.31" font-family="'Liberation Sans', sans-serif" font-size="4.6" font-weight="bold" fill="#333" text-anchor="end">10</text>
<text x="29.3" y="489.11" font-family="'Liberation Sans', sans-serif" font-size="3.2" font-weight="bold" fill="#333">-5</text>
<line x1="33.8" y1="502.68" x2="35.8" y2="502.68" stroke="#222" stroke-width="0.9" />
<text x="29.2" y="504.48" font-family="'Liberation Sans', sans-serif" font-size="4.6" font-weight="bold" fill="#333" text-anchor="end">10</text>
<text x="29.3" y="502.28" font-family="'Liberation Sans', sans-serif" font-size="3.2" font-weight="bold" fill="#333">-6</text>
<line x1="33.8" y1="515.85" x2="35.8" y2="515.85" stroke="#222" stroke-width="0.9" />
<text x="29.2" y="517.65" font-family="'Liberation Sans', sans-serif" font-size="4.6" font-weight="bold" fill="#333" text-anchor="end">10</text>
<text x="29.3" y="515.45" font-family="'Liberation Sans', sans-serif" font-size="3.2" font-weight="bold" fill="#333">-7</text>
<line x1="33.8" y1="529.02" x2="35.8" y2="529.02" stroke="#222" stroke-width="0.9" />
<text x="29.2" y="530.82" font-family="'Liberation Sans', sans-serif" font-size="4.6" font-weight="bold" fill="#333" text-anchor="end">10</text>
<text x="29.3" y="528.62" font-family="'Liberation Sans', sans-serif" font-size="3.2" font-weight="bold" fill="#333">-8</text>
<line x1="42.4" y1="530.5" x2="42.4" y2="528.5" stroke="#222" stroke-width="0.9" />
<text x="42.4" y="537" font-family="'Liberation Sans', sans-serif" font-size="5.6" font-weight="bold" fill="#333" text-anchor="middle">-2</text>
<line x1="61" y1="530.5" x2="61" y2="528.5" stroke="#222" stroke-width="0.9" />
<text x="61" y="537" font-family="'Liberation Sans', sans-serif" font-size="5.6" font-weight="bold" fill="#333" text-anchor="middle">0</text>
<line x1="79.6" y1="530.5" x2="79.6" y2="528.5" stroke="#222" stroke-width="0.9" />
<text x="79.6" y="537" font-family="'Liberation Sans', sans-serif" font-size="5.6" font-weight="bold" fill="#333" text-anchor="middle">2</text>
<line x1="98.2" y1="530.5" x2="98.2" y2="528.5" stroke="#222" stroke-width="0.9" />
<text x="98.2" y="537" font-family="'Liberation Sans', sans-serif" font-size="5.6" font-weight="bold" fill="#333" text-anchor="middle">4</text>
<line x1="116.8" y1="530.5" x2="116.8" y2="528.5" stroke="#222" stroke-width="0.9" />
<text x="116.8" y="537" font-family="'Liberation Sans', sans-serif" font-size="5.6" font-weight="bold" fill="#333" text-anchor="middle">6</text>
<line x1="135.4" y1="530.5" x2="135.4" y2="528.5" stroke="#222" stroke-width="0.9" />
<text x="135.4" y="537" font-family="'Liberation Sans', sans-serif" font-size="5.6" font-weight="bold" fill="#333" text-anchor="middle">8</text>
<line x1="51.7" y1="531" x2="51.7" y2="529.8" stroke="#222" stroke-width="0.8" />
<line x1="70.3" y1="531" x2="70.3" y2="529.8" stroke="#222" stroke-width="0.8" />
<line x1="88.9" y1="531" x2="88.9" y2="529.8" stroke="#222" stroke-width="0.8" />
<line x1="107.5" y1="531" x2="107.5" y2="529.8" stroke="#222" stroke-width="0.8" />
<line x1="126.1" y1="531" x2="126.1" y2="529.8" stroke="#222" stroke-width="0.8" />
<text x="68.6" y="544.6" font-family="'Liberation Sans', sans-serif" font-size="7" font-weight="bold" fill="#333" textLength="30.9" lengthAdjust="spacingAndGlyphs">Voltage (V)</text>
<text x="18" y="491.8" font-family="'Liberation Sans', sans-serif" font-size="5.6" font-weight="bold" fill="#333" text-anchor="middle" textLength="27.9" lengthAdjust="spacingAndGlyphs" transform="rotate(-90 18 491.8)">Current (A)</text>
<rect x="41.2" y="458.5" width="5.4" height="15" fill="#f2d4f4" />
<rect x="72.9" y="473.2" width="11.6" height="6.2" fill="#f8dcf4" />
<rect x="109" y="465.8" width="26.3" height="5" fill="#fbe4ec" />
<text x="45.3" y="466" font-family="'Liberation Sans', sans-serif" font-size="5.5" font-weight="bold" fill="#c050d0" text-anchor="middle" textLength="13" lengthAdjust="spacingAndGlyphs" transform="rotate(90 45.3 466)">Reset</text>
<line x1="49.7" y1="462.4" x2="49.7" y2="474.7" stroke="#6a5ac8" stroke-width="0.8" />
<path d="M49.7 474.7 L48.83 472.9 L50.57 472.9 Z" fill="#6a5ac8" />
<text x="73.7" y="478.6" font-family="'Liberation Sans', sans-serif" font-size="6.5" font-weight="bold" fill="#c050d0" textLength="10.3" lengthAdjust="spacingAndGlyphs">Set</text>
<line x1="72.9" y1="478.6" x2="72.9" y2="467.5" stroke="#6a5ac8" stroke-width="0.7" />
<path d="M72.9 467.5 L73.77 469.3 L72.03 469.3 Z" fill="#6a5ac8" />
<line x1="61.6" y1="495" x2="61.6" y2="531" stroke="#b0b0e0" stroke-width="1.2" />
<path d="M42.7 474.7 C43.33 474.97 45.2 475.65 46.5 476.3 C47.8 476.95 49.07 477.45 50.5 478.6 C51.93 479.75 53.82 481.52 55.1 483.2 C56.38 484.88 57.43 486.77 58.2 488.7 C58.97 490.63 59.32 493.27 59.7 494.8 C60.08 496.33 60.23 495.05 60.5 497.9 C60.77 500.75 61.17 509.57 61.3 511.9" fill="none" stroke="#5a50c8" stroke-width="1.2" />
<path d="M52.8 460.8 C53.43 461.32 55.45 462.6 56.6 463.9 C57.75 465.2 58.87 467.05 59.7 468.6 C60.53 470.15 61.13 471.15 61.6 473.2 C62.07 475.25 62.35 478.07 62.5 480.9 C62.65 483.73 62.5 488.65 62.5 490.2" fill="none" stroke="#5a50c8" stroke-width="1" stroke-dasharray="1 0.8"/>
<path d="M62 488.7 C62.27 487.4 62.95 483.48 63.6 480.9 C64.25 478.32 65.25 475.52 65.9 473.2 C66.55 470.88 66.98 468.42 67.5 467 C68.02 465.58 68.25 465.08 69 464.7 C69.75 464.32 70.07 464.7 72 464.7 C73.93 464.7 79.17 464.7 80.6 464.7" fill="none" stroke="#5a50c8" stroke-width="1.1" />
<path d="M62.5 489 C62.92 488 64 485.17 65 483 C66 480.83 67.18 478.53 68.5 476 C69.82 473.47 72.17 469.17 72.9 467.8" fill="none" stroke="#5a50c8" stroke-width="0.8" stroke-dasharray="1 0.8"/>
<circle cx="43.5" cy="475" r="0.7" fill="#3a30a0" />
<circle cx="47" cy="476.6" r="0.7" fill="#3a30a0" />
<circle cx="51" cy="479" r="0.7" fill="#3a30a0" />
<circle cx="55" cy="483.5" r="0.7" fill="#3a30a0" />
<circle cx="58" cy="488.5" r="0.7" fill="#3a30a0" />
<circle cx="61.5" cy="512" r="0.7" fill="#3a30a0" />
<circle cx="62.5" cy="480" r="0.7" fill="#3a30a0" />
<path d="M63.6 509.5 C63.98 509.12 64.48 508.23 65.9 507.2 C67.32 506.17 69.52 504.58 72.1 503.3 C74.68 502.02 78.75 500.83 81.4 499.5 C84.05 498.17 85.73 496.85 88 495.3 C90.27 493.75 93 491.83 95 490.2 C97 488.57 98.5 487.03 100 485.5 C101.5 483.97 102.93 482.5 104 481 C105.07 479.5 105.7 477.92 106.4 476.5 C107.1 475.08 107.77 473.92 108.2 472.5 C108.63 471.08 108.87 468.75 109 468" fill="none" stroke="#9a5a4a" stroke-width="1.1" />
<line x1="109" y1="468" x2="109.2" y2="464.8" stroke="#e0a0b0" stroke-width="0.6" />
<line x1="109.2" y1="464.8" x2="135.3" y2="464.8" stroke="#9a5a4a" stroke-width="1.3" />
<line x1="79.8" y1="505.7" x2="108" y2="486.2" stroke="#6a8a3a" stroke-width="0.8" />
<path d="M108 486.2 L106.91 488.11 L105.83 486.54 Z" fill="#6a8a3a" />
<text x="96.9" y="501.6" font-family="'Liberation Sans', sans-serif" font-size="7.5" font-weight="bold" fill="#8a8a3a" textLength="24.9" lengthAdjust="spacingAndGlyphs">Forming</text>
<line x1="79.7" y1="517" x2="93.5" y2="517" stroke="#a8b0e8" stroke-width="0.8" />
<circle cx="86.5" cy="517" r="0.7" fill="#5a5ac8" />
<text x="95.2" y="519.8" font-family="'Liberation Sans', sans-serif" font-size="7.5" font-weight="bold" fill="#333" textLength="27.5" lengthAdjust="spacingAndGlyphs">1<tspan font-size="3.5" dy="-2.5">st</tspan><tspan dy="2.5"> sweep</tspan></text>
<line x1="79.7" y1="524.5" x2="93.5" y2="524.5" stroke="#d0a090" stroke-width="0.8" />
<circle cx="86.5" cy="524.5" r="0.7" fill="#8a4a3a" />
<text x="95.2" y="527.4" font-family="'Liberation Sans', sans-serif" font-size="7.5" font-weight="bold" fill="#333" textLength="24.8" lengthAdjust="spacingAndGlyphs">Forming</text>
<text x="158.6" y="456.6" font-family="'Liberation Serif', serif" font-size="13" font-weight="bold" textLength="10" lengthAdjust="spacingAndGlyphs">(l)</text>
<rect x="186.1" y="450.5" width="101.4" height="80.9" fill="none" stroke="#222" stroke-width="1.3" />
<line x1="186.1" y1="450.2" x2="188.1" y2="450.2" stroke="#222" stroke-width="0.9" />
<text x="181.5" y="452" font-family="'Liberation Sans', sans-serif" font-size="4.6" font-weight="bold" fill="#333" text-anchor="end">10</text>
<text x="181.6" y="449.8" font-family="'Liberation Sans', sans-serif" font-size="3.2" font-weight="bold" fill="#333">-1</text>
<line x1="186.1" y1="461.8" x2="188.1" y2="461.8" stroke="#222" stroke-width="0.9" />
<text x="181.5" y="463.6" font-family="'Liberation Sans', sans-serif" font-size="4.6" font-weight="bold" fill="#333" text-anchor="end">10</text>
<text x="181.6" y="461.4" font-family="'Liberation Sans', sans-serif" font-size="3.2" font-weight="bold" fill="#333">-2</text>
<line x1="186.1" y1="473.4" x2="188.1" y2="473.4" stroke="#222" stroke-width="0.9" />
<text x="181.5" y="475.2" font-family="'Liberation Sans', sans-serif" font-size="4.6" font-weight="bold" fill="#333" text-anchor="end">10</text>
<text x="181.6" y="473" font-family="'Liberation Sans', sans-serif" font-size="3.2" font-weight="bold" fill="#333">-3</text>
<line x1="186.1" y1="485" x2="188.1" y2="485" stroke="#222" stroke-width="0.9" />
<text x="181.5" y="486.8" font-family="'Liberation Sans', sans-serif" font-size="4.6" font-weight="bold" fill="#333" text-anchor="end">10</text>
<text x="181.6" y="484.6" font-family="'Liberation Sans', sans-serif" font-size="3.2" font-weight="bold" fill="#333">-4</text>
<line x1="186.1" y1="496.6" x2="188.1" y2="496.6" stroke="#222" stroke-width="0.9" />
<text x="181.5" y="498.4" font-family="'Liberation Sans', sans-serif" font-size="4.6" font-weight="bold" fill="#333" text-anchor="end">10</text>
<text x="181.6" y="496.2" font-family="'Liberation Sans', sans-serif" font-size="3.2" font-weight="bold" fill="#333">-5</text>
<line x1="186.1" y1="508.2" x2="188.1" y2="508.2" stroke="#222" stroke-width="0.9" />
<text x="181.5" y="510" font-family="'Liberation Sans', sans-serif" font-size="4.6" font-weight="bold" fill="#333" text-anchor="end">10</text>
<text x="181.6" y="507.8" font-family="'Liberation Sans', sans-serif" font-size="3.2" font-weight="bold" fill="#333">-6</text>
<line x1="186.1" y1="519.8" x2="188.1" y2="519.8" stroke="#222" stroke-width="0.9" />
<text x="181.5" y="521.6" font-family="'Liberation Sans', sans-serif" font-size="4.6" font-weight="bold" fill="#333" text-anchor="end">10</text>
<text x="181.6" y="519.4" font-family="'Liberation Sans', sans-serif" font-size="3.2" font-weight="bold" fill="#333">-7</text>
<line x1="186.1" y1="531.4" x2="188.1" y2="531.4" stroke="#222" stroke-width="0.9" />
<text x="181.5" y="533.2" font-family="'Liberation Sans', sans-serif" font-size="4.6" font-weight="bold" fill="#333" text-anchor="end">10</text>
<text x="181.6" y="531" font-family="'Liberation Sans', sans-serif" font-size="3.2" font-weight="bold" fill="#333">-8</text>
<line x1="195" y1="531.4" x2="195" y2="529.4" stroke="#222" stroke-width="0.9" />
<text x="195" y="537.9" font-family="'Liberation Sans', sans-serif" font-size="5.6" font-weight="bold" fill="#333" text-anchor="middle">-2</text>
<line x1="213.6" y1="531.4" x2="213.6" y2="529.4" stroke="#222" stroke-width="0.9" />
<text x="213.6" y="537.9" font-family="'Liberation Sans', sans-serif" font-size="5.6" font-weight="bold" fill="#333" text-anchor="middle">0</text>
<line x1="232.2" y1="531.4" x2="232.2" y2="529.4" stroke="#222" stroke-width="0.9" />
<text x="232.2" y="537.9" font-family="'Liberation Sans', sans-serif" font-size="5.6" font-weight="bold" fill="#333" text-anchor="middle">2</text>
<line x1="250.8" y1="531.4" x2="250.8" y2="529.4" stroke="#222" stroke-width="0.9" />
<text x="250.8" y="537.9" font-family="'Liberation Sans', sans-serif" font-size="5.6" font-weight="bold" fill="#333" text-anchor="middle">4</text>
<line x1="269.4" y1="531.4" x2="269.4" y2="529.4" stroke="#222" stroke-width="0.9" />
<text x="269.4" y="537.9" font-family="'Liberation Sans', sans-serif" font-size="5.6" font-weight="bold" fill="#333" text-anchor="middle">6</text>
<line x1="288" y1="531.4" x2="288" y2="529.4" stroke="#222" stroke-width="0.9" />
<text x="288" y="537.9" font-family="'Liberation Sans', sans-serif" font-size="5.6" font-weight="bold" fill="#333" text-anchor="middle">8</text>
<line x1="204.3" y1="531.4" x2="204.3" y2="530.2" stroke="#222" stroke-width="0.8" />
<line x1="222.9" y1="531.4" x2="222.9" y2="530.2" stroke="#222" stroke-width="0.8" />
<line x1="241.5" y1="531.4" x2="241.5" y2="530.2" stroke="#222" stroke-width="0.8" />
<line x1="260.1" y1="531.4" x2="260.1" y2="530.2" stroke="#222" stroke-width="0.8" />
<line x1="278.7" y1="531.4" x2="278.7" y2="530.2" stroke="#222" stroke-width="0.8" />
<text x="221.7" y="545.6" font-family="'Liberation Sans', sans-serif" font-size="7" font-weight="bold" fill="#333" textLength="30.9" lengthAdjust="spacingAndGlyphs">Voltage (V)</text>
<text x="166.8" y="495.3" font-family="'Liberation Sans', sans-serif" font-size="5.6" font-weight="bold" fill="#333" text-anchor="middle" textLength="28.6" lengthAdjust="spacingAndGlyphs" transform="rotate(-90 166.8 495.3)">Current (A)</text>
<line x1="203.7" y1="465" x2="232.6" y2="465" stroke="#6a50c0" stroke-width="1.2" />
<path d="M203.7 465 C203.67 466.17 203.62 469.7 203.5 472 C203.38 474.3 202.22 477.13 203 478.8 C203.78 480.47 206.7 480.6 208.2 482 C209.7 483.4 211.1 485.27 212 487.2 C212.9 489.13 213.33 490.63 213.6 493.6 C213.87 496.57 213.6 501.43 213.6 505 C213.6 508.57 213.6 513.33 213.6 515" fill="none" stroke="#6a50c0" stroke-width="1.1" />
<path d="M205 465.3 C205.75 465.95 208.33 467.7 209.5 469.2 C210.67 470.7 211.47 472.38 212 474.3 C212.53 476.22 212.53 477.7 212.7 480.7 C212.87 483.7 212.95 490.37 213 492.3" fill="none" stroke="#6a50c0" stroke-width="0.9" stroke-dasharray="1.2 0.6"/>
<path d="M223.6 465 C222.75 465.7 219.88 467.43 218.5 469.2 C217.12 470.97 215.98 473.03 215.3 475.6 C214.62 478.17 214.55 483.1 214.4 484.6" fill="none" stroke="#6a50c0" stroke-width="0.9" stroke-dasharray="1.2 0.6"/>
<path d="M226.8 465 C226.75 465.83 226.6 468.45 226.5 470 C226.4 471.55 227.12 473.05 226.2 474.3 C225.28 475.55 222.62 476 221 477.5 C219.38 479 217.57 481.47 216.5 483.3 C215.43 485.13 214.92 487.63 214.6 488.5" fill="none" stroke="#6a50c0" stroke-width="1" />
<circle cx="212" cy="474.3" r="0.8" fill="#6a50c0" />
<circle cx="213" cy="492.3" r="0.8" fill="#6a50c0" />
<circle cx="214.4" cy="484.6" r="0.8" fill="#6a50c0" />
<circle cx="213.6" cy="500" r="0.8" fill="#6a50c0" />
<line x1="213.6" y1="513" x2="213.6" y2="531.4" stroke="#b8b0d8" stroke-width="1" />
<text x="191.2" y="472" font-family="'Liberation Sans', sans-serif" font-size="5.2" font-weight="bold" fill="#c8b040" text-anchor="middle" textLength="13.5" lengthAdjust="spacingAndGlyphs" transform="rotate(90 191.2 472)">Reset</text>
<line x1="200.5" y1="464.7" x2="200.5" y2="477.5" stroke="#c8a030" stroke-width="0.8" />
<path d="M200.5 477.5 L199.63 475.7 L201.37 475.7 Z" fill="#c8a030" />
<text x="236" y="471.1" font-family="'Liberation Sans', sans-serif" font-size="5.2" font-weight="bold" fill="#c8b040" text-anchor="middle" textLength="7.8" lengthAdjust="spacingAndGlyphs" transform="rotate(90 236 471.1)">Set</text>
<line x1="229.4" y1="475" x2="229.4" y2="466.6" stroke="#c8a030" stroke-width="0.8" />
<path d="M229.4 466.6 L230.27 468.4 L228.53 468.4 Z" fill="#c8a030" />
<rect x="272.4" y="466.8" width="14.6" height="3.5" fill="#e4f2e4" />
<path d="M215.3 513.6 L217 509.5 L219.8 506.5 L223 505.2 L226.2 504.56 L231.3 504.01 L236.5 503.5 L241 500.48 L245.8 497.75 L250 494.6 L254.3 492.48 L259 489.93 L264.6 487.64 L268 486.29 L272.4 484.4 L272.4 466.5 L287.3 466.5" fill="none" stroke="#4a6a3a" stroke-width="1" />
<line x1="240.6" y1="507" x2="271.5" y2="488.8" stroke="#d8b050" stroke-width="1" />
<path d="M271.5 488.8 L270.11 490.88 L269.01 489.01 Z" fill="#d8b050" />
<text x="262.5" y="501.5" font-family="'Liberation Sans', sans-serif" font-size="6.5" font-weight="bold" fill="#c8a040" text-anchor="middle" textLength="22" lengthAdjust="spacingAndGlyphs" transform="rotate(-31 262.5 501.5)">Forming</text>
<line x1="235.5" y1="519.5" x2="245.8" y2="519.5" stroke="#9a90d8" stroke-width="0.8" />
<text x="247.5" y="521.8" font-family="'Liberation Sans', sans-serif" font-size="6.5" font-weight="bold" fill="#333" textLength="22.3" lengthAdjust="spacingAndGlyphs">1<tspan font-size="3" dy="-2.2">st</tspan><tspan dy="2.2"> sweep</tspan></text>
<line x1="235.5" y1="525.9" x2="245.8" y2="525.9" stroke="#6a8a5a" stroke-width="0.8" />
<text x="247.5" y="527.8" font-family="'Liberation Sans', sans-serif" font-size="6.5" font-weight="bold" fill="#333" textLength="20.5" lengthAdjust="spacingAndGlyphs">Forming</text>
<text x="303.4" y="456.5" font-family="'Liberation Serif', serif" font-size="13" font-weight="bold" textLength="18.9" lengthAdjust="spacingAndGlyphs">(m)</text>
<rect x="328.8" y="441.5" width="110.4" height="87.8" fill="none" stroke="#222" stroke-width="1.3" />
<line x1="328.8" y1="530" x2="331" y2="530" stroke="#222" stroke-width="0.9" />
<text x="325.8" y="531.8" font-family="'Liberation Sans', sans-serif" font-size="4.8" font-weight="bold" fill="#333" text-anchor="end">10</text>
<text x="325.9" y="529.4" font-family="'Liberation Sans', sans-serif" font-size="2.8" font-weight="bold" fill="#333">2</text>
<line x1="328.8" y1="521.03" x2="330.2" y2="521.03" stroke="#222" stroke-width="0.6" />
<line x1="328.8" y1="515.78" x2="330.2" y2="515.78" stroke="#222" stroke-width="0.6" />
<line x1="328.8" y1="512.06" x2="330.2" y2="512.06" stroke="#222" stroke-width="0.6" />
<line x1="328.8" y1="509.17" x2="330.2" y2="509.17" stroke="#222" stroke-width="0.6" />
<line x1="328.8" y1="506.81" x2="330.2" y2="506.81" stroke="#222" stroke-width="0.6" />
<line x1="328.8" y1="504.82" x2="330.2" y2="504.82" stroke="#222" stroke-width="0.6" />
<line x1="328.8" y1="503.09" x2="330.2" y2="503.09" stroke="#222" stroke-width="0.6" />
<line x1="328.8" y1="501.56" x2="330.2" y2="501.56" stroke="#222" stroke-width="0.6" />
<line x1="328.8" y1="500.2" x2="331" y2="500.2" stroke="#222" stroke-width="0.9" />
<text x="325.8" y="502" font-family="'Liberation Sans', sans-serif" font-size="4.8" font-weight="bold" fill="#333" text-anchor="end">10</text>
<text x="325.9" y="499.6" font-family="'Liberation Sans', sans-serif" font-size="2.8" font-weight="bold" fill="#333">3</text>
<line x1="328.8" y1="491.23" x2="330.2" y2="491.23" stroke="#222" stroke-width="0.6" />
<line x1="328.8" y1="485.98" x2="330.2" y2="485.98" stroke="#222" stroke-width="0.6" />
<line x1="328.8" y1="482.26" x2="330.2" y2="482.26" stroke="#222" stroke-width="0.6" />
<line x1="328.8" y1="479.37" x2="330.2" y2="479.37" stroke="#222" stroke-width="0.6" />
<line x1="328.8" y1="477.01" x2="330.2" y2="477.01" stroke="#222" stroke-width="0.6" />
<line x1="328.8" y1="475.02" x2="330.2" y2="475.02" stroke="#222" stroke-width="0.6" />
<line x1="328.8" y1="473.29" x2="330.2" y2="473.29" stroke="#222" stroke-width="0.6" />
<line x1="328.8" y1="471.76" x2="330.2" y2="471.76" stroke="#222" stroke-width="0.6" />
<line x1="328.8" y1="470.4" x2="331" y2="470.4" stroke="#222" stroke-width="0.9" />
<text x="325.8" y="472.2" font-family="'Liberation Sans', sans-serif" font-size="4.8" font-weight="bold" fill="#333" text-anchor="end">10</text>
<text x="325.9" y="469.8" font-family="'Liberation Sans', sans-serif" font-size="2.8" font-weight="bold" fill="#333">4</text>
<line x1="328.8" y1="461.43" x2="330.2" y2="461.43" stroke="#222" stroke-width="0.6" />
<line x1="328.8" y1="456.18" x2="330.2" y2="456.18" stroke="#222" stroke-width="0.6" />
<line x1="328.8" y1="452.46" x2="330.2" y2="452.46" stroke="#222" stroke-width="0.6" />
<line x1="328.8" y1="449.57" x2="330.2" y2="449.57" stroke="#222" stroke-width="0.6" />
<line x1="328.8" y1="447.21" x2="330.2" y2="447.21" stroke="#222" stroke-width="0.6" />
<line x1="328.8" y1="445.22" x2="330.2" y2="445.22" stroke="#222" stroke-width="0.6" />
<line x1="328.8" y1="443.49" x2="330.2" y2="443.49" stroke="#222" stroke-width="0.6" />
<line x1="328.8" y1="441.96" x2="330.2" y2="441.96" stroke="#222" stroke-width="0.6" />
<line x1="328.8" y1="440.6" x2="331" y2="440.6" stroke="#222" stroke-width="0.9" />
<text x="325.8" y="442.4" font-family="'Liberation Sans', sans-serif" font-size="4.8" font-weight="bold" fill="#333" text-anchor="end">10</text>
<text x="325.9" y="440" font-family="'Liberation Sans', sans-serif" font-size="2.8" font-weight="bold" fill="#333">5</text>
<line x1="328.8" y1="529.3" x2="328.8" y2="527.3" stroke="#222" stroke-width="0.9" />
<text x="328.8" y="536.8" font-family="'Liberation Sans', sans-serif" font-size="6.5" font-weight="bold" fill="#333" text-anchor="middle">0</text>
<line x1="350.88" y1="529.3" x2="350.88" y2="527.3" stroke="#222" stroke-width="0.9" />
<text x="350.88" y="536.8" font-family="'Liberation Sans', sans-serif" font-size="6.5" font-weight="bold" fill="#333" text-anchor="middle">20</text>
<line x1="372.96" y1="529.3" x2="372.96" y2="527.3" stroke="#222" stroke-width="0.9" />
<text x="372.96" y="536.8" font-family="'Liberation Sans', sans-serif" font-size="6.5" font-weight="bold" fill="#333" text-anchor="middle">40</text>
<line x1="395.04" y1="529.3" x2="395.04" y2="527.3" stroke="#222" stroke-width="0.9" />
<text x="395.04" y="536.8" font-family="'Liberation Sans', sans-serif" font-size="6.5" font-weight="bold" fill="#333" text-anchor="middle">60</text>
<line x1="417.12" y1="529.3" x2="417.12" y2="527.3" stroke="#222" stroke-width="0.9" />
<text x="417.12" y="536.8" font-family="'Liberation Sans', sans-serif" font-size="6.5" font-weight="bold" fill="#333" text-anchor="middle">80</text>
<line x1="439.2" y1="529.3" x2="439.2" y2="527.3" stroke="#222" stroke-width="0.9" />
<text x="439.2" y="536.8" font-family="'Liberation Sans', sans-serif" font-size="6.5" font-weight="bold" fill="#333" text-anchor="middle">100</text>
<line x1="339.84" y1="529.3" x2="339.84" y2="528.1" stroke="#222" stroke-width="0.8" />
<line x1="361.92" y1="529.3" x2="361.92" y2="528.1" stroke="#222" stroke-width="0.8" />
<line x1="384" y1="529.3" x2="384" y2="528.1" stroke="#222" stroke-width="0.8" />
<line x1="406.08" y1="529.3" x2="406.08" y2="528.1" stroke="#222" stroke-width="0.8" />
<line x1="428.16" y1="529.3" x2="428.16" y2="528.1" stroke="#222" stroke-width="0.8" />
<text x="355" y="545.4" font-family="'Liberation Sans', sans-serif" font-size="8.5" font-weight="bold" fill="#333" textLength="56.8" lengthAdjust="spacingAndGlyphs">Switching Cycles</text>
<text x="314.5" y="489.2" font-family="'Liberation Sans', sans-serif" font-size="7.5" fill="#333" text-anchor="middle" textLength="42.7" lengthAdjust="spacingAndGlyphs" transform="rotate(-90 314.5 489.2)">Resistance (Ω)</text>
<path d="M329.9 464.36 L331.01 465.55 L332.11 465.53 L333.22 464.86 L334.32 465.43 L335.42 463.98 L336.53 464.51 L337.63 463.73 L338.74 464.75 L339.84 465.3 L340.94 465.16 L342.05 466.2 L343.15 464.91 L344.26 464.56 L345.36 464.35 L346.46 463.53 L347.57 463.69 L348.67 464.25 L349.78 465.04 L350.88 465.49 L351.98 464.88 L353.09 465.91 L354.19 465.45 L355.3 464.19 L356.4 464.12 L357.5 463.13 L358.61 463.62 L359.71 464.03 L360.82 464.76 L361.92 465.38 L363.02 466.05 L364.13 464.4 L365.23 464.1 L366.34 463.29 L367.44 464.61 L368.54 464.14 L369.65 464.12 L370.75 464.95 L371.86 465.05 L372.96 466.17 L374.06 464.98 L375.17 464.17 L376.27 465.25 L377.38 464.74 L378.48 464.57 L379.58 465.81 L380.69 466.38 L381.79 465.75 L382.9 466.81 L384 466.02 L385.1 465.3 L386.21 464.51 L387.31 463.68 L388.42 464.44 L389.52 465.7 L390.62 465.86 L391.73 466.98 L392.83 465.81 L393.94 465.08 L395.04 464.43 L396.14 465.12 L397.25 464.4 L398.35 465.28 L399.46 465.66 L400.56 466.41 L401.66 466.16 L402.77 466.48 L403.87 465.98 L404.98 464.72 L406.08 465.18 L407.18 463.91 L408.29 464.26 L409.39 465.91 L410.5 466.49 L411.6 466.45 L412.7 466.09 L413.81 464.71 L414.91 465.11 L416.02 465.16 L417.12 465.04 L418.22 464.37 L419.33 465.1 L420.43 466.12 L421.54 466.07 L422.64 466.66 L423.74 465.4 L424.85 465.51 L425.95 465.13 L427.06 464.5 L428.16 464.07 L429.26 464.94 L430.37 466.47 L431.47 466.16 L432.58 466.08 L433.68 465.48 L434.78 465.3 L435.89 464.55 L436.99 464.1 L438.1 464.87 L439.2 465.88" fill="none" stroke="#222" stroke-width="0.7" />
<circle cx="329.9" cy="464.36" r="1.5" fill="#b8b8b8" stroke="#1e1e1e" stroke-width="0.75" />
<circle cx="331.01" cy="465.55" r="1.5" fill="#b8b8b8" stroke="#1e1e1e" stroke-width="0.75" />
<circle cx="332.11" cy="465.53" r="1.5" fill="#b8b8b8" stroke="#1e1e1e" stroke-width="0.75" />
<circle cx="333.22" cy="464.86" r="1.5" fill="#b8b8b8" stroke="#1e1e1e" stroke-width="0.75" />
<circle cx="334.32" cy="465.43" r="1.5" fill="#b8b8b8" stroke="#1e1e1e" stroke-width="0.75" />
<circle cx="335.42" cy="463.98" r="1.5" fill="#b8b8b8" stroke="#1e1e1e" stroke-width="0.75" />
<circle cx="336.53" cy="464.51" r="1.5" fill="#b8b8b8" stroke="#1e1e1e" stroke-width="0.75" />
<circle cx="337.63" cy="463.73" r="1.5" fill="#b8b8b8" stroke="#1e1e1e" stroke-width="0.75" />
<circle cx="338.74" cy="464.75" r="1.5" fill="#b8b8b8" stroke="#1e1e1e" stroke-width="0.75" />
<circle cx="339.84" cy="465.3" r="1.5" fill="#b8b8b8" stroke="#1e1e1e" stroke-width="0.75" />
<circle cx="340.94" cy="465.16" r="1.5" fill="#b8b8b8" stroke="#1e1e1e" stroke-width="0.75" />
<circle cx="342.05" cy="466.2" r="1.5" fill="#b8b8b8" stroke="#1e1e1e" stroke-width="0.75" />
<circle cx="343.15" cy="464.91" r="1.5" fill="#b8b8b8" stroke="#1e1e1e" stroke-width="0.75" />
<circle cx="344.26" cy="464.56" r="1.5" fill="#b8b8b8" stroke="#1e1e1e" stroke-width="0.75" />
<circle cx="345.36" cy="464.35" r="1.5" fill="#b8b8b8" stroke="#1e1e1e" stroke-width="0.75" />
<circle cx="346.46" cy="463.53" r="1.5" fill="#b8b8b8" stroke="#1e1e1e" stroke-width="0.75" />
<circle cx="347.57" cy="463.69" r="1.5" fill="#b8b8b8" stroke="#1e1e1e" stroke-width="0.75" />
<circle cx="348.67" cy="464.25" r="1.5" fill="#b8b8b8" stroke="#1e1e1e" stroke-width="0.75" />
<circle cx="349.78" cy="465.04" r="1.5" fill="#b8b8b8" stroke="#1e1e1e" stroke-width="0.75" />
<circle cx="350.88" cy="465.49" r="1.5" fill="#b8b8b8" stroke="#1e1e1e" stroke-width="0.75" />
<circle cx="351.98" cy="464.88" r="1.5" fill="#b8b8b8" stroke="#1e1e1e" stroke-width="0.75" />
<circle cx="353.09" cy="465.91" r="1.5" fill="#b8b8b8" stroke="#1e1e1e" stroke-width="0.75" />
<circle cx="354.19" cy="465.45" r="1.5" fill="#b8b8b8" stroke="#1e1e1e" stroke-width="0.75" />
<circle cx="355.3" cy="464.19" r="1.5" fill="#b8b8b8" stroke="#1e1e1e" stroke-width="0.75" />
<circle cx="356.4" cy="464.12" r="1.5" fill="#b8b8b8" stroke="#1e1e1e" stroke-width="0.75" />
<circle cx="357.5" cy="463.13" r="1.5" fill="#b8b8b8" stroke="#1e1e1e" stroke-width="0.75" />
<circle cx="358.61" cy="463.62" r="1.5" fill="#b8b8b8" stroke="#1e1e1e" stroke-width="0.75" />
<circle cx="359.71" cy="464.03" r="1.5" fill="#b8b8b8" stroke="#1e1e1e" stroke-width="0.75" />
<circle cx="360.82" cy="464.76" r="1.5" fill="#b8b8b8" stroke="#1e1e1e" stroke-width="0.75" />
<circle cx="361.92" cy="465.38" r="1.5" fill="#b8b8b8" stroke="#1e1e1e" stroke-width="0.75" />
<circle cx="363.02" cy="466.05" r="1.5" fill="#b8b8b8" stroke="#1e1e1e" stroke-width="0.75" />
<circle cx="364.13" cy="464.4" r="1.5" fill="#b8b8b8" stroke="#1e1e1e" stroke-width="0.75" />
<circle cx="365.23" cy="464.1" r="1.5" fill="#b8b8b8" stroke="#1e1e1e" stroke-width="0.75" />
<circle cx="366.34" cy="463.29" r="1.5" fill="#b8b8b8" stroke="#1e1e1e" stroke-width="0.75" />
<circle cx="367.44" cy="464.61" r="1.5" fill="#b8b8b8" stroke="#1e1e1e" stroke-width="0.75" />
<circle cx="368.54" cy="464.14" r="1.5" fill="#b8b8b8" stroke="#1e1e1e" stroke-width="0.75" />
<circle cx="369.65" cy="464.12" r="1.5" fill="#b8b8b8" stroke="#1e1e1e" stroke-width="0.75" />
<circle cx="370.75" cy="464.95" r="1.5" fill="#b8b8b8" stroke="#1e1e1e" stroke-width="0.75" />
<circle cx="371.86" cy="465.05" r="1.5" fill="#b8b8b8" stroke="#1e1e1e" stroke-width="0.75" />
<circle cx="372.96" cy="466.17" r="1.5" fill="#b8b8b8" stroke="#1e1e1e" stroke-width="0.75" />
<circle cx="374.06" cy="464.98" r="1.5" fill="#b8b8b8" stroke="#1e1e1e" stroke-width="0.75" />
<circle cx="375.17" cy="464.17" r="1.5" fill="#b8b8b8" stroke="#1e1e1e" stroke-width="0.75" />
<circle cx="376.27" cy="465.25" r="1.5" fill="#b8b8b8" stroke="#1e1e1e" stroke-width="0.75" />
<circle cx="377.38" cy="464.74" r="1.5" fill="#b8b8b8" stroke="#1e1e1e" stroke-width="0.75" />
<circle cx="378.48" cy="464.57" r="1.5" fill="#b8b8b8" stroke="#1e1e1e" stroke-width="0.75" />
<circle cx="379.58" cy="465.81" r="1.5" fill="#b8b8b8" stroke="#1e1e1e" stroke-width="0.75" />
<circle cx="380.69" cy="466.38" r="1.5" fill="#b8b8b8" stroke="#1e1e1e" stroke-width="0.75" />
<circle cx="381.79" cy="465.75" r="1.5" fill="#b8b8b8" stroke="#1e1e1e" stroke-width="0.75" />
<circle cx="382.9" cy="466.81" r="1.5" fill="#b8b8b8" stroke="#1e1e1e" stroke-width="0.75" />
<circle cx="384" cy="466.02" r="1.5" fill="#b8b8b8" stroke="#1e1e1e" stroke-width="0.75" />
<circle cx="385.1" cy="465.3" r="1.5" fill="#b8b8b8" stroke="#1e1e1e" stroke-width="0.75" />
<circle cx="386.21" cy="464.51" r="1.5" fill="#b8b8b8" stroke="#1e1e1e" stroke-width="0.75" />
<circle cx="387.31" cy="463.68" r="1.5" fill="#b8b8b8" stroke="#1e1e1e" stroke-width="0.75" />
<circle cx="388.42" cy="464.44" r="1.5" fill="#b8b8b8" stroke="#1e1e1e" stroke-width="0.75" />
<circle cx="389.52" cy="465.7" r="1.5" fill="#b8b8b8" stroke="#1e1e1e" stroke-width="0.75" />
<circle cx="390.62" cy="465.86" r="1.5" fill="#b8b8b8" stroke="#1e1e1e" stroke-width="0.75" />
<circle cx="391.73" cy="466.98" r="1.5" fill="#b8b8b8" stroke="#1e1e1e" stroke-width="0.75" />
<circle cx="392.83" cy="465.81" r="1.5" fill="#b8b8b8" stroke="#1e1e1e" stroke-width="0.75" />
<circle cx="393.94" cy="465.08" r="1.5" fill="#b8b8b8" stroke="#1e1e1e" stroke-width="0.75" />
<circle cx="395.04" cy="464.43" r="1.5" fill="#b8b8b8" stroke="#1e1e1e" stroke-width="0.75" />
<circle cx="396.14" cy="465.12" r="1.5" fill="#b8b8b8" stroke="#1e1e1e" stroke-width="0.75" />
<circle cx="397.25" cy="464.4" r="1.5" fill="#b8b8b8" stroke="#1e1e1e" stroke-width="0.75" />
<circle cx="398.35" cy="465.28" r="1.5" fill="#b8b8b8" stroke="#1e1e1e" stroke-width="0.75" />
<circle cx="399.46" cy="465.66" r="1.5" fill="#b8b8b8" stroke="#1e1e1e" stroke-width="0.75" />
<circle cx="400.56" cy="466.41" r="1.5" fill="#b8b8b8" stroke="#1e1e1e" stroke-width="0.75" />
<circle cx="401.66" cy="466.16" r="1.5" fill="#b8b8b8" stroke="#1e1e1e" stroke-width="0.75" />
<circle cx="402.77" cy="466.48" r="1.5" fill="#b8b8b8" stroke="#1e1e1e" stroke-width="0.75" />
<circle cx="403.87" cy="465.98" r="1.5" fill="#b8b8b8" stroke="#1e1e1e" stroke-width="0.75" />
<circle cx="404.98" cy="464.72" r="1.5" fill="#b8b8b8" stroke="#1e1e1e" stroke-width="0.75" />
<circle cx="406.08" cy="465.18" r="1.5" fill="#b8b8b8" stroke="#1e1e1e" stroke-width="0.75" />
<circle cx="407.18" cy="463.91" r="1.5" fill="#b8b8b8" stroke="#1e1e1e" stroke-width="0.75" />
<circle cx="408.29" cy="464.26" r="1.5" fill="#b8b8b8" stroke="#1e1e1e" stroke-width="0.75" />
<circle cx="409.39" cy="465.91" r="1.5" fill="#b8b8b8" stroke="#1e1e1e" stroke-width="0.75" />
<circle cx="410.5" cy="466.49" r="1.5" fill="#b8b8b8" stroke="#1e1e1e" stroke-width="0.75" />
<circle cx="411.6" cy="466.45" r="1.5" fill="#b8b8b8" stroke="#1e1e1e" stroke-width="0.75" />
<circle cx="412.7" cy="466.09" r="1.5" fill="#b8b8b8" stroke="#1e1e1e" stroke-width="0.75" />
<circle cx="413.81" cy="464.71" r="1.5" fill="#b8b8b8" stroke="#1e1e1e" stroke-width="0.75" />
<circle cx="414.91" cy="465.11" r="1.5" fill="#b8b8b8" stroke="#1e1e1e" stroke-width="0.75" />
<circle cx="416.02" cy="465.16" r="1.5" fill="#b8b8b8" stroke="#1e1e1e" stroke-width="0.75" />
<circle cx="417.12" cy="465.04" r="1.5" fill="#b8b8b8" stroke="#1e1e1e" stroke-width="0.75" />
<circle cx="418.22" cy="464.37" r="1.5" fill="#b8b8b8" stroke="#1e1e1e" stroke-width="0.75" />
<circle cx="419.33" cy="465.1" r="1.5" fill="#b8b8b8" stroke="#1e1e1e" stroke-width="0.75" />
<circle cx="420.43" cy="466.12" r="1.5" fill="#b8b8b8" stroke="#1e1e1e" stroke-width="0.75" />
<circle cx="421.54" cy="466.07" r="1.5" fill="#b8b8b8" stroke="#1e1e1e" stroke-width="0.75" />
<circle cx="422.64" cy="466.66" r="1.5" fill="#b8b8b8" stroke="#1e1e1e" stroke-width="0.75" />
<circle cx="423.74" cy="465.4" r="1.5" fill="#b8b8b8" stroke="#1e1e1e" stroke-width="0.75" />
<circle cx="424.85" cy="465.51" r="1.5" fill="#b8b8b8" stroke="#1e1e1e" stroke-width="0.75" />
<circle cx="425.95" cy="465.13" r="1.5" fill="#b8b8b8" stroke="#1e1e1e" stroke-width="0.75" />
<circle cx="427.06" cy="464.5" r="1.5" fill="#b8b8b8" stroke="#1e1e1e" stroke-width="0.75" />
<circle cx="428.16" cy="464.07" r="1.5" fill="#b8b8b8" stroke="#1e1e1e" stroke-width="0.75" />
<circle cx="429.26" cy="464.94" r="1.5" fill="#b8b8b8" stroke="#1e1e1e" stroke-width="0.75" />
<circle cx="430.37" cy="466.47" r="1.5" fill="#b8b8b8" stroke="#1e1e1e" stroke-width="0.75" />
<circle cx="431.47" cy="466.16" r="1.5" fill="#b8b8b8" stroke="#1e1e1e" stroke-width="0.75" />
<circle cx="432.58" cy="466.08" r="1.5" fill="#b8b8b8" stroke="#1e1e1e" stroke-width="0.75" />
<circle cx="433.68" cy="465.48" r="1.5" fill="#b8b8b8" stroke="#1e1e1e" stroke-width="0.75" />
<circle cx="434.78" cy="465.3" r="1.5" fill="#b8b8b8" stroke="#1e1e1e" stroke-width="0.75" />
<circle cx="435.89" cy="464.55" r="1.5" fill="#b8b8b8" stroke="#1e1e1e" stroke-width="0.75" />
<circle cx="436.99" cy="464.1" r="1.5" fill="#b8b8b8" stroke="#1e1e1e" stroke-width="0.75" />
<circle cx="438.1" cy="464.87" r="1.5" fill="#b8b8b8" stroke="#1e1e1e" stroke-width="0.75" />
<circle cx="439.2" cy="465.88" r="1.5" fill="#b8b8b8" stroke="#1e1e1e" stroke-width="0.75" />
<path d="M329.9 501.16 L331.01 500.73 L332.11 500.9 L333.22 500.77 L334.32 500.86 L335.42 501.17 L336.53 500.8 L337.63 501.36 L338.74 501.68 L339.84 501.03 L340.94 501.13 L342.05 501.85 L343.15 500.91 L344.26 500.98 L345.36 501.41 L346.46 500.7 L347.57 501.14 L348.67 501.84 L349.78 501.32 L350.88 501.51 L351.98 501.78 L353.09 501.75 L354.19 501.17 L355.3 500.82 L356.4 500.77 L357.5 500.95 L358.61 501.11 L359.71 500.7 L360.82 500.82 L361.92 500.73 L363.02 501.44 L364.13 501 L365.23 501.14 L366.34 501.72 L367.44 501.26 L368.54 500.8 L369.65 501.11 L370.75 501.69 L371.86 500.73 L372.96 501.33 L374.06 501.35 L375.17 501.33 L376.27 501.74 L377.38 501.01 L378.48 500.9 L379.58 501.34 L380.69 501.1 L381.79 501.67 L382.9 501.72 L384 501.68 L385.1 500.97 L386.21 501.13 L387.31 500.73 L388.42 501.01 L389.52 501.85 L390.62 501.82 L391.73 501.85 L392.83 500.96 L393.94 500.94 L395.04 501.45 L396.14 501.71 L397.25 501.48 L398.35 500.8 L399.46 501.79 L400.56 501.6 L401.66 500.91 L402.77 501.1 L403.87 501.87 L404.98 501.18 L406.08 501.57 L407.18 500.85 L408.29 501.79 L409.39 500.88 L410.5 501.88 L411.6 501.12 L412.7 500.86 L413.81 501.87 L414.91 501.33 L416.02 501.22 L417.12 501.69 L418.22 501 L419.33 500.99 L420.43 501.01 L421.54 500.86 L422.64 501.12 L423.74 501.4 L424.85 501.2 L425.95 501.3 L427.06 501.33 L428.16 501.23 L429.26 500.7 L430.37 500.91 L431.47 501.57 L432.58 501.09 L433.68 501.37 L434.78 500.83 L435.89 501 L436.99 501.63 L438.1 501.37 L439.2 501.79" fill="none" stroke="#3a3ad0" stroke-width="0.6" />
<circle cx="329.9" cy="501.16" r="1.2" fill="#6a6ae0" stroke="#2a2ac8" stroke-width="0.5" />
<circle cx="331.01" cy="500.73" r="1.2" fill="#6a6ae0" stroke="#2a2ac8" stroke-width="0.5" />
<circle cx="332.11" cy="500.9" r="1.2" fill="#6a6ae0" stroke="#2a2ac8" stroke-width="0.5" />
<circle cx="333.22" cy="500.77" r="1.2" fill="#6a6ae0" stroke="#2a2ac8" stroke-width="0.5" />
<circle cx="334.32" cy="500.86" r="1.2" fill="#6a6ae0" stroke="#2a2ac8" stroke-width="0.5" />
<circle cx="335.42" cy="501.17" r="1.2" fill="#6a6ae0" stroke="#2a2ac8" stroke-width="0.5" />
<circle cx="336.53" cy="500.8" r="1.2" fill="#6a6ae0" stroke="#2a2ac8" stroke-width="0.5" />
<circle cx="337.63" cy="501.36" r="1.2" fill="#6a6ae0" stroke="#2a2ac8" stroke-width="0.5" />
<circle cx="338.74" cy="501.68" r="1.2" fill="#6a6ae0" stroke="#2a2ac8" stroke-width="0.5" />
<circle cx="339.84" cy="501.03" r="1.2" fill="#6a6ae0" stroke="#2a2ac8" stroke-width="0.5" />
<circle cx="340.94" cy="501.13" r="1.2" fill="#6a6ae0" stroke="#2a2ac8" stroke-width="0.5" />
<circle cx="342.05" cy="501.85" r="1.2" fill="#6a6ae0" stroke="#2a2ac8" stroke-width="0.5" />
<circle cx="343.15" cy="500.91" r="1.2" fill="#6a6ae0" stroke="#2a2ac8" stroke-width="0.5" />
<circle cx="344.26" cy="500.98" r="1.2" fill="#6a6ae0" stroke="#2a2ac8" stroke-width="0.5" />
<circle cx="345.36" cy="501.41" r="1.2" fill="#6a6ae0" stroke="#2a2ac8" stroke-width="0.5" />
<circle cx="346.46" cy="500.7" r="1.2" fill="#6a6ae0" stroke="#2a2ac8" stroke-width="0.5" />
<circle cx="347.57" cy="501.14" r="1.2" fill="#6a6ae0" stroke="#2a2ac8" stroke-width="0.5" />
<circle cx="348.67" cy="501.84" r="1.2" fill="#6a6ae0" stroke="#2a2ac8" stroke-width="0.5" />
<circle cx="349.78" cy="501.32" r="1.2" fill="#6a6ae0" stroke="#2a2ac8" stroke-width="0.5" />
<circle cx="350.88" cy="501.51" r="1.2" fill="#6a6ae0" stroke="#2a2ac8" stroke-width="0.5" />
<circle cx="351.98" cy="501.78" r="1.2" fill="#6a6ae0" stroke="#2a2ac8" stroke-width="0.5" />
<circle cx="353.09" cy="501.75" r="1.2" fill="#6a6ae0" stroke="#2a2ac8" stroke-width="0.5" />
<circle cx="354.19" cy="501.17" r="1.2" fill="#6a6ae0" stroke="#2a2ac8" stroke-width="0.5" />
<circle cx="355.3" cy="500.82" r="1.2" fill="#6a6ae0" stroke="#2a2ac8" stroke-width="0.5" />
<circle cx="356.4" cy="500.77" r="1.2" fill="#6a6ae0" stroke="#2a2ac8" stroke-width="0.5" />
<circle cx="357.5" cy="500.95" r="1.2" fill="#6a6ae0" stroke="#2a2ac8" stroke-width="0.5" />
<circle cx="358.61" cy="501.11" r="1.2" fill="#6a6ae0" stroke="#2a2ac8" stroke-width="0.5" />
<circle cx="359.71" cy="500.7" r="1.2" fill="#6a6ae0" stroke="#2a2ac8" stroke-width="0.5" />
<circle cx="360.82" cy="500.82" r="1.2" fill="#6a6ae0" stroke="#2a2ac8" stroke-width="0.5" />
<circle cx="361.92" cy="500.73" r="1.2" fill="#6a6ae0" stroke="#2a2ac8" stroke-width="0.5" />
<circle cx="363.02" cy="501.44" r="1.2" fill="#6a6ae0" stroke="#2a2ac8" stroke-width="0.5" />
<circle cx="364.13" cy="501" r="1.2" fill="#6a6ae0" stroke="#2a2ac8" stroke-width="0.5" />
<circle cx="365.23" cy="501.14" r="1.2" fill="#6a6ae0" stroke="#2a2ac8" stroke-width="0.5" />
<circle cx="366.34" cy="501.72" r="1.2" fill="#6a6ae0" stroke="#2a2ac8" stroke-width="0.5" />
<circle cx="367.44" cy="501.26" r="1.2" fill="#6a6ae0" stroke="#2a2ac8" stroke-width="0.5" />
<circle cx="368.54" cy="500.8" r="1.2" fill="#6a6ae0" stroke="#2a2ac8" stroke-width="0.5" />
<circle cx="369.65" cy="501.11" r="1.2" fill="#6a6ae0" stroke="#2a2ac8" stroke-width="0.5" />
<circle cx="370.75" cy="501.69" r="1.2" fill="#6a6ae0" stroke="#2a2ac8" stroke-width="0.5" />
<circle cx="371.86" cy="500.73" r="1.2" fill="#6a6ae0" stroke="#2a2ac8" stroke-width="0.5" />
<circle cx="372.96" cy="501.33" r="1.2" fill="#6a6ae0" stroke="#2a2ac8" stroke-width="0.5" />
<circle cx="374.06" cy="501.35" r="1.2" fill="#6a6ae0" stroke="#2a2ac8" stroke-width="0.5" />
<circle cx="375.17" cy="501.33" r="1.2" fill="#6a6ae0" stroke="#2a2ac8" stroke-width="0.5" />
<circle cx="376.27" cy="501.74" r="1.2" fill="#6a6ae0" stroke="#2a2ac8" stroke-width="0.5" />
<circle cx="377.38" cy="501.01" r="1.2" fill="#6a6ae0" stroke="#2a2ac8" stroke-width="0.5" />
<circle cx="378.48" cy="500.9" r="1.2" fill="#6a6ae0" stroke="#2a2ac8" stroke-width="0.5" />
<circle cx="379.58" cy="501.34" r="1.2" fill="#6a6ae0" stroke="#2a2ac8" stroke-width="0.5" />
<circle cx="380.69" cy="501.1" r="1.2" fill="#6a6ae0" stroke="#2a2ac8" stroke-width="0.5" />
<circle cx="381.79" cy="501.67" r="1.2" fill="#6a6ae0" stroke="#2a2ac8" stroke-width="0.5" />
<circle cx="382.9" cy="501.72" r="1.2" fill="#6a6ae0" stroke="#2a2ac8" stroke-width="0.5" />
<circle cx="384" cy="501.68" r="1.2" fill="#6a6ae0" stroke="#2a2ac8" stroke-width="0.5" />
<circle cx="385.1" cy="500.97" r="1.2" fill="#6a6ae0" stroke="#2a2ac8" stroke-width="0.5" />
<circle cx="386.21" cy="501.13" r="1.2" fill="#6a6ae0" stroke="#2a2ac8" stroke-width="0.5" />
<circle cx="387.31" cy="500.73" r="1.2" fill="#6a6ae0" stroke="#2a2ac8" stroke-width="0.5" />
<circle cx="388.42" cy="501.01" r="1.2" fill="#6a6ae0" stroke="#2a2ac8" stroke-width="0.5" />
<circle cx="389.52" cy="501.85" r="1.2" fill="#6a6ae0" stroke="#2a2ac8" stroke-width="0.5" />
<circle cx="390.62" cy="501.82" r="1.2" fill="#6a6ae0" stroke="#2a2ac8" stroke-width="0.5" />
<circle cx="391.73" cy="501.85" r="1.2" fill="#6a6ae0" stroke="#2a2ac8" stroke-width="0.5" />
<circle cx="392.83" cy="500.96" r="1.2" fill="#6a6ae0" stroke="#2a2ac8" stroke-width="0.5" />
<circle cx="393.94" cy="500.94" r="1.2" fill="#6a6ae0" stroke="#2a2ac8" stroke-width="0.5" />
<circle cx="395.04" cy="501.45" r="1.2" fill="#6a6ae0" stroke="#2a2ac8" stroke-width="0.5" />
<circle cx="396.14" cy="501.71" r="1.2" fill="#6a6ae0" stroke="#2a2ac8" stroke-width="0.5" />
<circle cx="397.25" cy="501.48" r="1.2" fill="#6a6ae0" stroke="#2a2ac8" stroke-width="0.5" />
<circle cx="398.35" cy="500.8" r="1.2" fill="#6a6ae0" stroke="#2a2ac8" stroke-width="0.5" />
<circle cx="399.46" cy="501.79" r="1.2" fill="#6a6ae0" stroke="#2a2ac8" stroke-width="0.5" />
<circle cx="400.56" cy="501.6" r="1.2" fill="#6a6ae0" stroke="#2a2ac8" stroke-width="0.5" />
<circle cx="401.66" cy="500.91" r="1.2" fill="#6a6ae0" stroke="#2a2ac8" stroke-width="0.5" />
<circle cx="402.77" cy="501.1" r="1.2" fill="#6a6ae0" stroke="#2a2ac8" stroke-width="0.5" />
<circle cx="403.87" cy="501.87" r="1.2" fill="#6a6ae0" stroke="#2a2ac8" stroke-width="0.5" />
<circle cx="404.98" cy="501.18" r="1.2" fill="#6a6ae0" stroke="#2a2ac8" stroke-width="0.5" />
<circle cx="406.08" cy="501.57" r="1.2" fill="#6a6ae0" stroke="#2a2ac8" stroke-width="0.5" />
<circle cx="407.18" cy="500.85" r="1.2" fill="#6a6ae0" stroke="#2a2ac8" stroke-width="0.5" />
<circle cx="408.29" cy="501.79" r="1.2" fill="#6a6ae0" stroke="#2a2ac8" stroke-width="0.5" />
<circle cx="409.39" cy="500.88" r="1.2" fill="#6a6ae0" stroke="#2a2ac8" stroke-width="0.5" />
<circle cx="410.5" cy="501.88" r="1.2" fill="#6a6ae0" stroke="#2a2ac8" stroke-width="0.5" />
<circle cx="411.6" cy="501.12" r="1.2" fill="#6a6ae0" stroke="#2a2ac8" stroke-width="0.5" />
<circle cx="412.7" cy="500.86" r="1.2" fill="#6a6ae0" stroke="#2a2ac8" stroke-width="0.5" />
<circle cx="413.81" cy="501.87" r="1.2" fill="#6a6ae0" stroke="#2a2ac8" stroke-width="0.5" />
<circle cx="414.91" cy="501.33" r="1.2" fill="#6a6ae0" stroke="#2a2ac8" stroke-width="0.5" />
<circle cx="416.02" cy="501.22" r="1.2" fill="#6a6ae0" stroke="#2a2ac8" stroke-width="0.5" />
<circle cx="417.12" cy="501.69" r="1.2" fill="#6a6ae0" stroke="#2a2ac8" stroke-width="0.5" />
<circle cx="418.22" cy="501" r="1.2" fill="#6a6ae0" stroke="#2a2ac8" stroke-width="0.5" />
<circle cx="419.33" cy="500.99" r="1.2" fill="#6a6ae0" stroke="#2a2ac8" stroke-width="0.5" />
<circle cx="420.43" cy="501.01" r="1.2" fill="#6a6ae0" stroke="#2a2ac8" stroke-width="0.5" />
<circle cx="421.54" cy="500.86" r="1.2" fill="#6a6ae0" stroke="#2a2ac8" stroke-width="0.5" />
<circle cx="422.64" cy="501.12" r="1.2" fill="#6a6ae0" stroke="#2a2ac8" stroke-width="0.5" />
<circle cx="423.74" cy="501.4" r="1.2" fill="#6a6ae0" stroke="#2a2ac8" stroke-width="0.5" />
<circle cx="424.85" cy="501.2" r="1.2" fill="#6a6ae0" stroke="#2a2ac8" stroke-width="0.5" />
<circle cx="425.95" cy="501.3" r="1.2" fill="#6a6ae0" stroke="#2a2ac8" stroke-width="0.5" />
<circle cx="427.06" cy="501.33" r="1.2" fill="#6a6ae0" stroke="#2a2ac8" stroke-width="0.5" />
<circle cx="428.16" cy="501.23" r="1.2" fill="#6a6ae0" stroke="#2a2ac8" stroke-width="0.5" />
<circle cx="429.26" cy="500.7" r="1.2" fill="#6a6ae0" stroke="#2a2ac8" stroke-width="0.5" />
<circle cx="430.37" cy="500.91" r="1.2" fill="#6a6ae0" stroke="#2a2ac8" stroke-width="0.5" />
<circle cx="431.47" cy="501.57" r="1.2" fill="#6a6ae0" stroke="#2a2ac8" stroke-width="0.5" />
<circle cx="432.58" cy="501.09" r="1.2" fill="#6a6ae0" stroke="#2a2ac8" stroke-width="0.5" />
<circle cx="433.68" cy="501.37" r="1.2" fill="#6a6ae0" stroke="#2a2ac8" stroke-width="0.5" />
<circle cx="434.78" cy="500.83" r="1.2" fill="#6a6ae0" stroke="#2a2ac8" stroke-width="0.5" />
<circle cx="435.89" cy="501" r="1.2" fill="#6a6ae0" stroke="#2a2ac8" stroke-width="0.5" />
<circle cx="436.99" cy="501.63" r="1.2" fill="#6a6ae0" stroke="#2a2ac8" stroke-width="0.5" />
<circle cx="438.1" cy="501.37" r="1.2" fill="#6a6ae0" stroke="#2a2ac8" stroke-width="0.5" />
<circle cx="439.2" cy="501.79" r="1.2" fill="#6a6ae0" stroke="#2a2ac8" stroke-width="0.5" />
<circle cx="383.1" cy="484" r="1.4" fill="#d8d8d8" stroke="#2a2a2a" stroke-width="0.65" />
<text x="389.4" y="486.5" font-family="'Liberation Sans', sans-serif" font-size="6.3" font-weight="bold" fill="#333" textLength="10.3" lengthAdjust="spacingAndGlyphs">LRS</text>
<circle cx="383.1" cy="490.4" r="1.3" fill="#6a6ae0" stroke="#2a2ac8" stroke-width="0.5" />
<text x="389.4" y="492.7" font-family="'Liberation Sans', sans-serif" font-size="6.3" font-weight="bold" fill="#333" textLength="11.2" lengthAdjust="spacingAndGlyphs">HRS</text>
</svg></body></html>
